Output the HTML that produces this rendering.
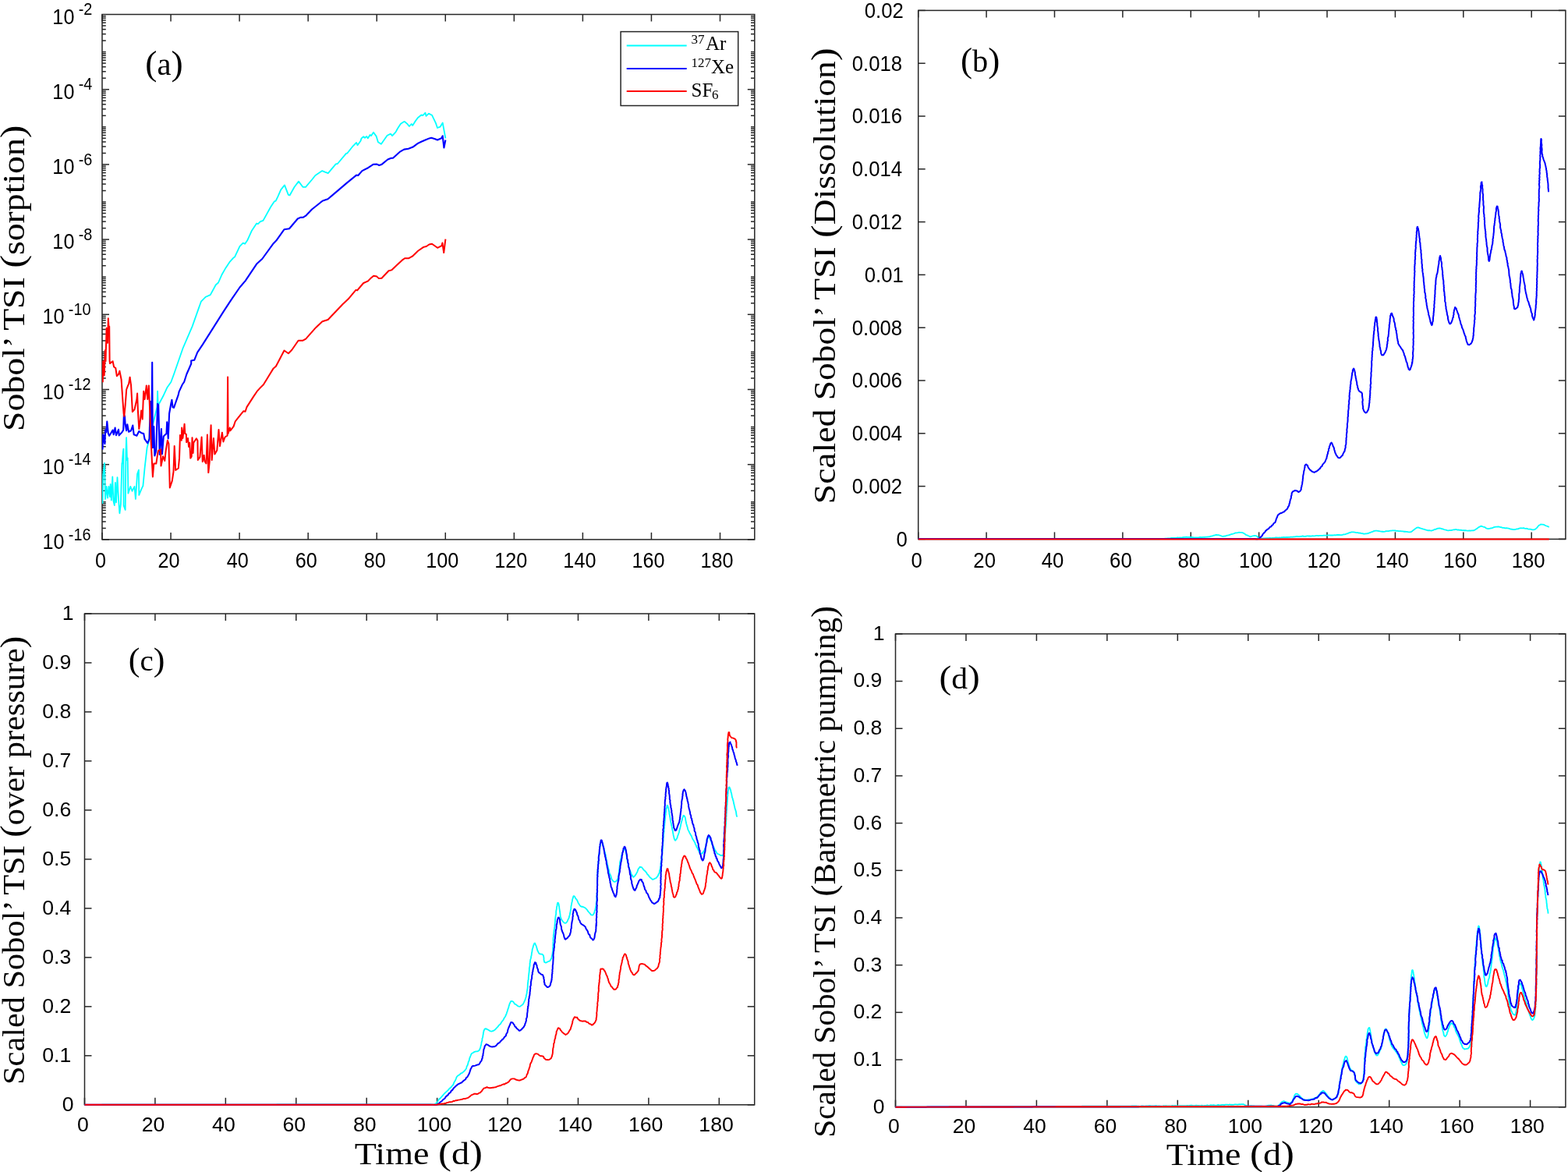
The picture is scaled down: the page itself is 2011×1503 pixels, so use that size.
<!DOCTYPE html>
<html><head><meta charset="utf-8"><title>Sobol TSI plots</title>
<style>html,body{margin:0;padding:0;background:#fff;}body{width:2011px;height:1503px;overflow:hidden;}svg{display:block;}text{fill:#000;}</style>
</head><body>
<svg width="2011" height="1503" viewBox="0 0 2011 1503">
<rect width="2011" height="1503" fill="#fff"/>
<line x1="131" y1="691.9" x2="131" y2="682.9" stroke="#262626" stroke-width="1.5"/>
<line x1="131" y1="18.5" x2="131" y2="27.5" stroke="#262626" stroke-width="1.5"/>
<text transform="translate(129 727.8) scale(0.97 1.08)" font-size="26" text-anchor="middle" font-family="'Liberation Sans', Arial, Helvetica, sans-serif">0</text>
<line x1="219.06" y1="691.9" x2="219.06" y2="682.9" stroke="#262626" stroke-width="1.5"/>
<line x1="219.06" y1="18.5" x2="219.06" y2="27.5" stroke="#262626" stroke-width="1.5"/>
<text transform="translate(216.61 727.8) scale(0.97 1.08)" font-size="26" text-anchor="middle" font-family="'Liberation Sans', Arial, Helvetica, sans-serif">20</text>
<line x1="307.11" y1="691.9" x2="307.11" y2="682.9" stroke="#262626" stroke-width="1.5"/>
<line x1="307.11" y1="18.5" x2="307.11" y2="27.5" stroke="#262626" stroke-width="1.5"/>
<text transform="translate(304.66 727.8) scale(0.97 1.08)" font-size="26" text-anchor="middle" font-family="'Liberation Sans', Arial, Helvetica, sans-serif">40</text>
<line x1="395.17" y1="691.9" x2="395.17" y2="682.9" stroke="#262626" stroke-width="1.5"/>
<line x1="395.17" y1="18.5" x2="395.17" y2="27.5" stroke="#262626" stroke-width="1.5"/>
<text transform="translate(392.72 727.8) scale(0.97 1.08)" font-size="26" text-anchor="middle" font-family="'Liberation Sans', Arial, Helvetica, sans-serif">60</text>
<line x1="483.22" y1="691.9" x2="483.22" y2="682.9" stroke="#262626" stroke-width="1.5"/>
<line x1="483.22" y1="18.5" x2="483.22" y2="27.5" stroke="#262626" stroke-width="1.5"/>
<text transform="translate(480.77 727.8) scale(0.97 1.08)" font-size="26" text-anchor="middle" font-family="'Liberation Sans', Arial, Helvetica, sans-serif">80</text>
<line x1="571.28" y1="691.9" x2="571.28" y2="682.9" stroke="#262626" stroke-width="1.5"/>
<line x1="571.28" y1="18.5" x2="571.28" y2="27.5" stroke="#262626" stroke-width="1.5"/>
<text transform="translate(567.28 727.8) scale(0.97 1.08)" font-size="26" text-anchor="middle" font-family="'Liberation Sans', Arial, Helvetica, sans-serif">100</text>
<line x1="659.33" y1="691.9" x2="659.33" y2="682.9" stroke="#262626" stroke-width="1.5"/>
<line x1="659.33" y1="18.5" x2="659.33" y2="27.5" stroke="#262626" stroke-width="1.5"/>
<text transform="translate(655.33 727.8) scale(0.97 1.08)" font-size="26" text-anchor="middle" font-family="'Liberation Sans', Arial, Helvetica, sans-serif">120</text>
<line x1="747.39" y1="691.9" x2="747.39" y2="682.9" stroke="#262626" stroke-width="1.5"/>
<line x1="747.39" y1="18.5" x2="747.39" y2="27.5" stroke="#262626" stroke-width="1.5"/>
<text transform="translate(743.39 727.8) scale(0.97 1.08)" font-size="26" text-anchor="middle" font-family="'Liberation Sans', Arial, Helvetica, sans-serif">140</text>
<line x1="835.44" y1="691.9" x2="835.44" y2="682.9" stroke="#262626" stroke-width="1.5"/>
<line x1="835.44" y1="18.5" x2="835.44" y2="27.5" stroke="#262626" stroke-width="1.5"/>
<text transform="translate(831.44 727.8) scale(0.97 1.08)" font-size="26" text-anchor="middle" font-family="'Liberation Sans', Arial, Helvetica, sans-serif">160</text>
<line x1="923.5" y1="691.9" x2="923.5" y2="682.9" stroke="#262626" stroke-width="1.5"/>
<line x1="923.5" y1="18.5" x2="923.5" y2="27.5" stroke="#262626" stroke-width="1.5"/>
<text transform="translate(919.5 727.8) scale(0.97 1.08)" font-size="26" text-anchor="middle" font-family="'Liberation Sans', Arial, Helvetica, sans-serif">180</text>
<line x1="131" y1="691.9" x2="140" y2="691.9" stroke="#262626" stroke-width="1.5"/>
<line x1="967.8" y1="691.9" x2="958.8" y2="691.9" stroke="#262626" stroke-width="1.5"/>
<line x1="131" y1="677.42" x2="135.8" y2="677.42" stroke="#262626" stroke-width="1.5"/>
<line x1="967.8" y1="677.42" x2="963" y2="677.42" stroke="#262626" stroke-width="1.5"/>
<line x1="131" y1="668.95" x2="135.8" y2="668.95" stroke="#262626" stroke-width="1.5"/>
<line x1="967.8" y1="668.95" x2="963" y2="668.95" stroke="#262626" stroke-width="1.5"/>
<line x1="131" y1="662.94" x2="135.8" y2="662.94" stroke="#262626" stroke-width="1.5"/>
<line x1="967.8" y1="662.94" x2="963" y2="662.94" stroke="#262626" stroke-width="1.5"/>
<line x1="131" y1="658.28" x2="135.8" y2="658.28" stroke="#262626" stroke-width="1.5"/>
<line x1="967.8" y1="658.28" x2="963" y2="658.28" stroke="#262626" stroke-width="1.5"/>
<line x1="131" y1="654.47" x2="135.8" y2="654.47" stroke="#262626" stroke-width="1.5"/>
<line x1="967.8" y1="654.47" x2="963" y2="654.47" stroke="#262626" stroke-width="1.5"/>
<line x1="131" y1="651.25" x2="135.8" y2="651.25" stroke="#262626" stroke-width="1.5"/>
<line x1="967.8" y1="651.25" x2="963" y2="651.25" stroke="#262626" stroke-width="1.5"/>
<line x1="131" y1="648.46" x2="135.8" y2="648.46" stroke="#262626" stroke-width="1.5"/>
<line x1="967.8" y1="648.46" x2="963" y2="648.46" stroke="#262626" stroke-width="1.5"/>
<line x1="131" y1="646" x2="135.8" y2="646" stroke="#262626" stroke-width="1.5"/>
<line x1="967.8" y1="646" x2="963" y2="646" stroke="#262626" stroke-width="1.5"/>
<line x1="131" y1="643.8" x2="135.8" y2="643.8" stroke="#262626" stroke-width="1.5"/>
<line x1="967.8" y1="643.8" x2="963" y2="643.8" stroke="#262626" stroke-width="1.5"/>
<line x1="131" y1="629.32" x2="135.8" y2="629.32" stroke="#262626" stroke-width="1.5"/>
<line x1="967.8" y1="629.32" x2="963" y2="629.32" stroke="#262626" stroke-width="1.5"/>
<line x1="131" y1="620.85" x2="135.8" y2="620.85" stroke="#262626" stroke-width="1.5"/>
<line x1="967.8" y1="620.85" x2="963" y2="620.85" stroke="#262626" stroke-width="1.5"/>
<line x1="131" y1="614.84" x2="135.8" y2="614.84" stroke="#262626" stroke-width="1.5"/>
<line x1="967.8" y1="614.84" x2="963" y2="614.84" stroke="#262626" stroke-width="1.5"/>
<line x1="131" y1="610.18" x2="135.8" y2="610.18" stroke="#262626" stroke-width="1.5"/>
<line x1="967.8" y1="610.18" x2="963" y2="610.18" stroke="#262626" stroke-width="1.5"/>
<line x1="131" y1="606.37" x2="135.8" y2="606.37" stroke="#262626" stroke-width="1.5"/>
<line x1="967.8" y1="606.37" x2="963" y2="606.37" stroke="#262626" stroke-width="1.5"/>
<line x1="131" y1="603.15" x2="135.8" y2="603.15" stroke="#262626" stroke-width="1.5"/>
<line x1="967.8" y1="603.15" x2="963" y2="603.15" stroke="#262626" stroke-width="1.5"/>
<line x1="131" y1="600.36" x2="135.8" y2="600.36" stroke="#262626" stroke-width="1.5"/>
<line x1="967.8" y1="600.36" x2="963" y2="600.36" stroke="#262626" stroke-width="1.5"/>
<line x1="131" y1="597.9" x2="135.8" y2="597.9" stroke="#262626" stroke-width="1.5"/>
<line x1="967.8" y1="597.9" x2="963" y2="597.9" stroke="#262626" stroke-width="1.5"/>
<line x1="131" y1="595.7" x2="140" y2="595.7" stroke="#262626" stroke-width="1.5"/>
<line x1="967.8" y1="595.7" x2="958.8" y2="595.7" stroke="#262626" stroke-width="1.5"/>
<line x1="131" y1="581.22" x2="135.8" y2="581.22" stroke="#262626" stroke-width="1.5"/>
<line x1="967.8" y1="581.22" x2="963" y2="581.22" stroke="#262626" stroke-width="1.5"/>
<line x1="131" y1="572.75" x2="135.8" y2="572.75" stroke="#262626" stroke-width="1.5"/>
<line x1="967.8" y1="572.75" x2="963" y2="572.75" stroke="#262626" stroke-width="1.5"/>
<line x1="131" y1="566.74" x2="135.8" y2="566.74" stroke="#262626" stroke-width="1.5"/>
<line x1="967.8" y1="566.74" x2="963" y2="566.74" stroke="#262626" stroke-width="1.5"/>
<line x1="131" y1="562.08" x2="135.8" y2="562.08" stroke="#262626" stroke-width="1.5"/>
<line x1="967.8" y1="562.08" x2="963" y2="562.08" stroke="#262626" stroke-width="1.5"/>
<line x1="131" y1="558.27" x2="135.8" y2="558.27" stroke="#262626" stroke-width="1.5"/>
<line x1="967.8" y1="558.27" x2="963" y2="558.27" stroke="#262626" stroke-width="1.5"/>
<line x1="131" y1="555.05" x2="135.8" y2="555.05" stroke="#262626" stroke-width="1.5"/>
<line x1="967.8" y1="555.05" x2="963" y2="555.05" stroke="#262626" stroke-width="1.5"/>
<line x1="131" y1="552.26" x2="135.8" y2="552.26" stroke="#262626" stroke-width="1.5"/>
<line x1="967.8" y1="552.26" x2="963" y2="552.26" stroke="#262626" stroke-width="1.5"/>
<line x1="131" y1="549.8" x2="135.8" y2="549.8" stroke="#262626" stroke-width="1.5"/>
<line x1="967.8" y1="549.8" x2="963" y2="549.8" stroke="#262626" stroke-width="1.5"/>
<line x1="131" y1="547.6" x2="135.8" y2="547.6" stroke="#262626" stroke-width="1.5"/>
<line x1="967.8" y1="547.6" x2="963" y2="547.6" stroke="#262626" stroke-width="1.5"/>
<line x1="131" y1="533.12" x2="135.8" y2="533.12" stroke="#262626" stroke-width="1.5"/>
<line x1="967.8" y1="533.12" x2="963" y2="533.12" stroke="#262626" stroke-width="1.5"/>
<line x1="131" y1="524.65" x2="135.8" y2="524.65" stroke="#262626" stroke-width="1.5"/>
<line x1="967.8" y1="524.65" x2="963" y2="524.65" stroke="#262626" stroke-width="1.5"/>
<line x1="131" y1="518.64" x2="135.8" y2="518.64" stroke="#262626" stroke-width="1.5"/>
<line x1="967.8" y1="518.64" x2="963" y2="518.64" stroke="#262626" stroke-width="1.5"/>
<line x1="131" y1="513.98" x2="135.8" y2="513.98" stroke="#262626" stroke-width="1.5"/>
<line x1="967.8" y1="513.98" x2="963" y2="513.98" stroke="#262626" stroke-width="1.5"/>
<line x1="131" y1="510.17" x2="135.8" y2="510.17" stroke="#262626" stroke-width="1.5"/>
<line x1="967.8" y1="510.17" x2="963" y2="510.17" stroke="#262626" stroke-width="1.5"/>
<line x1="131" y1="506.95" x2="135.8" y2="506.95" stroke="#262626" stroke-width="1.5"/>
<line x1="967.8" y1="506.95" x2="963" y2="506.95" stroke="#262626" stroke-width="1.5"/>
<line x1="131" y1="504.16" x2="135.8" y2="504.16" stroke="#262626" stroke-width="1.5"/>
<line x1="967.8" y1="504.16" x2="963" y2="504.16" stroke="#262626" stroke-width="1.5"/>
<line x1="131" y1="501.7" x2="135.8" y2="501.7" stroke="#262626" stroke-width="1.5"/>
<line x1="967.8" y1="501.7" x2="963" y2="501.7" stroke="#262626" stroke-width="1.5"/>
<line x1="131" y1="499.5" x2="140" y2="499.5" stroke="#262626" stroke-width="1.5"/>
<line x1="967.8" y1="499.5" x2="958.8" y2="499.5" stroke="#262626" stroke-width="1.5"/>
<line x1="131" y1="485.02" x2="135.8" y2="485.02" stroke="#262626" stroke-width="1.5"/>
<line x1="967.8" y1="485.02" x2="963" y2="485.02" stroke="#262626" stroke-width="1.5"/>
<line x1="131" y1="476.55" x2="135.8" y2="476.55" stroke="#262626" stroke-width="1.5"/>
<line x1="967.8" y1="476.55" x2="963" y2="476.55" stroke="#262626" stroke-width="1.5"/>
<line x1="131" y1="470.54" x2="135.8" y2="470.54" stroke="#262626" stroke-width="1.5"/>
<line x1="967.8" y1="470.54" x2="963" y2="470.54" stroke="#262626" stroke-width="1.5"/>
<line x1="131" y1="465.88" x2="135.8" y2="465.88" stroke="#262626" stroke-width="1.5"/>
<line x1="967.8" y1="465.88" x2="963" y2="465.88" stroke="#262626" stroke-width="1.5"/>
<line x1="131" y1="462.07" x2="135.8" y2="462.07" stroke="#262626" stroke-width="1.5"/>
<line x1="967.8" y1="462.07" x2="963" y2="462.07" stroke="#262626" stroke-width="1.5"/>
<line x1="131" y1="458.85" x2="135.8" y2="458.85" stroke="#262626" stroke-width="1.5"/>
<line x1="967.8" y1="458.85" x2="963" y2="458.85" stroke="#262626" stroke-width="1.5"/>
<line x1="131" y1="456.06" x2="135.8" y2="456.06" stroke="#262626" stroke-width="1.5"/>
<line x1="967.8" y1="456.06" x2="963" y2="456.06" stroke="#262626" stroke-width="1.5"/>
<line x1="131" y1="453.6" x2="135.8" y2="453.6" stroke="#262626" stroke-width="1.5"/>
<line x1="967.8" y1="453.6" x2="963" y2="453.6" stroke="#262626" stroke-width="1.5"/>
<line x1="131" y1="451.4" x2="135.8" y2="451.4" stroke="#262626" stroke-width="1.5"/>
<line x1="967.8" y1="451.4" x2="963" y2="451.4" stroke="#262626" stroke-width="1.5"/>
<line x1="131" y1="436.92" x2="135.8" y2="436.92" stroke="#262626" stroke-width="1.5"/>
<line x1="967.8" y1="436.92" x2="963" y2="436.92" stroke="#262626" stroke-width="1.5"/>
<line x1="131" y1="428.45" x2="135.8" y2="428.45" stroke="#262626" stroke-width="1.5"/>
<line x1="967.8" y1="428.45" x2="963" y2="428.45" stroke="#262626" stroke-width="1.5"/>
<line x1="131" y1="422.44" x2="135.8" y2="422.44" stroke="#262626" stroke-width="1.5"/>
<line x1="967.8" y1="422.44" x2="963" y2="422.44" stroke="#262626" stroke-width="1.5"/>
<line x1="131" y1="417.78" x2="135.8" y2="417.78" stroke="#262626" stroke-width="1.5"/>
<line x1="967.8" y1="417.78" x2="963" y2="417.78" stroke="#262626" stroke-width="1.5"/>
<line x1="131" y1="413.97" x2="135.8" y2="413.97" stroke="#262626" stroke-width="1.5"/>
<line x1="967.8" y1="413.97" x2="963" y2="413.97" stroke="#262626" stroke-width="1.5"/>
<line x1="131" y1="410.75" x2="135.8" y2="410.75" stroke="#262626" stroke-width="1.5"/>
<line x1="967.8" y1="410.75" x2="963" y2="410.75" stroke="#262626" stroke-width="1.5"/>
<line x1="131" y1="407.96" x2="135.8" y2="407.96" stroke="#262626" stroke-width="1.5"/>
<line x1="967.8" y1="407.96" x2="963" y2="407.96" stroke="#262626" stroke-width="1.5"/>
<line x1="131" y1="405.5" x2="135.8" y2="405.5" stroke="#262626" stroke-width="1.5"/>
<line x1="967.8" y1="405.5" x2="963" y2="405.5" stroke="#262626" stroke-width="1.5"/>
<line x1="131" y1="403.3" x2="140" y2="403.3" stroke="#262626" stroke-width="1.5"/>
<line x1="967.8" y1="403.3" x2="958.8" y2="403.3" stroke="#262626" stroke-width="1.5"/>
<line x1="131" y1="388.82" x2="135.8" y2="388.82" stroke="#262626" stroke-width="1.5"/>
<line x1="967.8" y1="388.82" x2="963" y2="388.82" stroke="#262626" stroke-width="1.5"/>
<line x1="131" y1="380.35" x2="135.8" y2="380.35" stroke="#262626" stroke-width="1.5"/>
<line x1="967.8" y1="380.35" x2="963" y2="380.35" stroke="#262626" stroke-width="1.5"/>
<line x1="131" y1="374.34" x2="135.8" y2="374.34" stroke="#262626" stroke-width="1.5"/>
<line x1="967.8" y1="374.34" x2="963" y2="374.34" stroke="#262626" stroke-width="1.5"/>
<line x1="131" y1="369.68" x2="135.8" y2="369.68" stroke="#262626" stroke-width="1.5"/>
<line x1="967.8" y1="369.68" x2="963" y2="369.68" stroke="#262626" stroke-width="1.5"/>
<line x1="131" y1="365.87" x2="135.8" y2="365.87" stroke="#262626" stroke-width="1.5"/>
<line x1="967.8" y1="365.87" x2="963" y2="365.87" stroke="#262626" stroke-width="1.5"/>
<line x1="131" y1="362.65" x2="135.8" y2="362.65" stroke="#262626" stroke-width="1.5"/>
<line x1="967.8" y1="362.65" x2="963" y2="362.65" stroke="#262626" stroke-width="1.5"/>
<line x1="131" y1="359.86" x2="135.8" y2="359.86" stroke="#262626" stroke-width="1.5"/>
<line x1="967.8" y1="359.86" x2="963" y2="359.86" stroke="#262626" stroke-width="1.5"/>
<line x1="131" y1="357.4" x2="135.8" y2="357.4" stroke="#262626" stroke-width="1.5"/>
<line x1="967.8" y1="357.4" x2="963" y2="357.4" stroke="#262626" stroke-width="1.5"/>
<line x1="131" y1="355.2" x2="135.8" y2="355.2" stroke="#262626" stroke-width="1.5"/>
<line x1="967.8" y1="355.2" x2="963" y2="355.2" stroke="#262626" stroke-width="1.5"/>
<line x1="131" y1="340.72" x2="135.8" y2="340.72" stroke="#262626" stroke-width="1.5"/>
<line x1="967.8" y1="340.72" x2="963" y2="340.72" stroke="#262626" stroke-width="1.5"/>
<line x1="131" y1="332.25" x2="135.8" y2="332.25" stroke="#262626" stroke-width="1.5"/>
<line x1="967.8" y1="332.25" x2="963" y2="332.25" stroke="#262626" stroke-width="1.5"/>
<line x1="131" y1="326.24" x2="135.8" y2="326.24" stroke="#262626" stroke-width="1.5"/>
<line x1="967.8" y1="326.24" x2="963" y2="326.24" stroke="#262626" stroke-width="1.5"/>
<line x1="131" y1="321.58" x2="135.8" y2="321.58" stroke="#262626" stroke-width="1.5"/>
<line x1="967.8" y1="321.58" x2="963" y2="321.58" stroke="#262626" stroke-width="1.5"/>
<line x1="131" y1="317.77" x2="135.8" y2="317.77" stroke="#262626" stroke-width="1.5"/>
<line x1="967.8" y1="317.77" x2="963" y2="317.77" stroke="#262626" stroke-width="1.5"/>
<line x1="131" y1="314.55" x2="135.8" y2="314.55" stroke="#262626" stroke-width="1.5"/>
<line x1="967.8" y1="314.55" x2="963" y2="314.55" stroke="#262626" stroke-width="1.5"/>
<line x1="131" y1="311.76" x2="135.8" y2="311.76" stroke="#262626" stroke-width="1.5"/>
<line x1="967.8" y1="311.76" x2="963" y2="311.76" stroke="#262626" stroke-width="1.5"/>
<line x1="131" y1="309.3" x2="135.8" y2="309.3" stroke="#262626" stroke-width="1.5"/>
<line x1="967.8" y1="309.3" x2="963" y2="309.3" stroke="#262626" stroke-width="1.5"/>
<line x1="131" y1="307.1" x2="140" y2="307.1" stroke="#262626" stroke-width="1.5"/>
<line x1="967.8" y1="307.1" x2="958.8" y2="307.1" stroke="#262626" stroke-width="1.5"/>
<line x1="131" y1="292.62" x2="135.8" y2="292.62" stroke="#262626" stroke-width="1.5"/>
<line x1="967.8" y1="292.62" x2="963" y2="292.62" stroke="#262626" stroke-width="1.5"/>
<line x1="131" y1="284.15" x2="135.8" y2="284.15" stroke="#262626" stroke-width="1.5"/>
<line x1="967.8" y1="284.15" x2="963" y2="284.15" stroke="#262626" stroke-width="1.5"/>
<line x1="131" y1="278.14" x2="135.8" y2="278.14" stroke="#262626" stroke-width="1.5"/>
<line x1="967.8" y1="278.14" x2="963" y2="278.14" stroke="#262626" stroke-width="1.5"/>
<line x1="131" y1="273.48" x2="135.8" y2="273.48" stroke="#262626" stroke-width="1.5"/>
<line x1="967.8" y1="273.48" x2="963" y2="273.48" stroke="#262626" stroke-width="1.5"/>
<line x1="131" y1="269.67" x2="135.8" y2="269.67" stroke="#262626" stroke-width="1.5"/>
<line x1="967.8" y1="269.67" x2="963" y2="269.67" stroke="#262626" stroke-width="1.5"/>
<line x1="131" y1="266.45" x2="135.8" y2="266.45" stroke="#262626" stroke-width="1.5"/>
<line x1="967.8" y1="266.45" x2="963" y2="266.45" stroke="#262626" stroke-width="1.5"/>
<line x1="131" y1="263.66" x2="135.8" y2="263.66" stroke="#262626" stroke-width="1.5"/>
<line x1="967.8" y1="263.66" x2="963" y2="263.66" stroke="#262626" stroke-width="1.5"/>
<line x1="131" y1="261.2" x2="135.8" y2="261.2" stroke="#262626" stroke-width="1.5"/>
<line x1="967.8" y1="261.2" x2="963" y2="261.2" stroke="#262626" stroke-width="1.5"/>
<line x1="131" y1="259" x2="135.8" y2="259" stroke="#262626" stroke-width="1.5"/>
<line x1="967.8" y1="259" x2="963" y2="259" stroke="#262626" stroke-width="1.5"/>
<line x1="131" y1="244.52" x2="135.8" y2="244.52" stroke="#262626" stroke-width="1.5"/>
<line x1="967.8" y1="244.52" x2="963" y2="244.52" stroke="#262626" stroke-width="1.5"/>
<line x1="131" y1="236.05" x2="135.8" y2="236.05" stroke="#262626" stroke-width="1.5"/>
<line x1="967.8" y1="236.05" x2="963" y2="236.05" stroke="#262626" stroke-width="1.5"/>
<line x1="131" y1="230.04" x2="135.8" y2="230.04" stroke="#262626" stroke-width="1.5"/>
<line x1="967.8" y1="230.04" x2="963" y2="230.04" stroke="#262626" stroke-width="1.5"/>
<line x1="131" y1="225.38" x2="135.8" y2="225.38" stroke="#262626" stroke-width="1.5"/>
<line x1="967.8" y1="225.38" x2="963" y2="225.38" stroke="#262626" stroke-width="1.5"/>
<line x1="131" y1="221.57" x2="135.8" y2="221.57" stroke="#262626" stroke-width="1.5"/>
<line x1="967.8" y1="221.57" x2="963" y2="221.57" stroke="#262626" stroke-width="1.5"/>
<line x1="131" y1="218.35" x2="135.8" y2="218.35" stroke="#262626" stroke-width="1.5"/>
<line x1="967.8" y1="218.35" x2="963" y2="218.35" stroke="#262626" stroke-width="1.5"/>
<line x1="131" y1="215.56" x2="135.8" y2="215.56" stroke="#262626" stroke-width="1.5"/>
<line x1="967.8" y1="215.56" x2="963" y2="215.56" stroke="#262626" stroke-width="1.5"/>
<line x1="131" y1="213.1" x2="135.8" y2="213.1" stroke="#262626" stroke-width="1.5"/>
<line x1="967.8" y1="213.1" x2="963" y2="213.1" stroke="#262626" stroke-width="1.5"/>
<line x1="131" y1="210.9" x2="140" y2="210.9" stroke="#262626" stroke-width="1.5"/>
<line x1="967.8" y1="210.9" x2="958.8" y2="210.9" stroke="#262626" stroke-width="1.5"/>
<line x1="131" y1="196.42" x2="135.8" y2="196.42" stroke="#262626" stroke-width="1.5"/>
<line x1="967.8" y1="196.42" x2="963" y2="196.42" stroke="#262626" stroke-width="1.5"/>
<line x1="131" y1="187.95" x2="135.8" y2="187.95" stroke="#262626" stroke-width="1.5"/>
<line x1="967.8" y1="187.95" x2="963" y2="187.95" stroke="#262626" stroke-width="1.5"/>
<line x1="131" y1="181.94" x2="135.8" y2="181.94" stroke="#262626" stroke-width="1.5"/>
<line x1="967.8" y1="181.94" x2="963" y2="181.94" stroke="#262626" stroke-width="1.5"/>
<line x1="131" y1="177.28" x2="135.8" y2="177.28" stroke="#262626" stroke-width="1.5"/>
<line x1="967.8" y1="177.28" x2="963" y2="177.28" stroke="#262626" stroke-width="1.5"/>
<line x1="131" y1="173.47" x2="135.8" y2="173.47" stroke="#262626" stroke-width="1.5"/>
<line x1="967.8" y1="173.47" x2="963" y2="173.47" stroke="#262626" stroke-width="1.5"/>
<line x1="131" y1="170.25" x2="135.8" y2="170.25" stroke="#262626" stroke-width="1.5"/>
<line x1="967.8" y1="170.25" x2="963" y2="170.25" stroke="#262626" stroke-width="1.5"/>
<line x1="131" y1="167.46" x2="135.8" y2="167.46" stroke="#262626" stroke-width="1.5"/>
<line x1="967.8" y1="167.46" x2="963" y2="167.46" stroke="#262626" stroke-width="1.5"/>
<line x1="131" y1="165" x2="135.8" y2="165" stroke="#262626" stroke-width="1.5"/>
<line x1="967.8" y1="165" x2="963" y2="165" stroke="#262626" stroke-width="1.5"/>
<line x1="131" y1="162.8" x2="135.8" y2="162.8" stroke="#262626" stroke-width="1.5"/>
<line x1="967.8" y1="162.8" x2="963" y2="162.8" stroke="#262626" stroke-width="1.5"/>
<line x1="131" y1="148.32" x2="135.8" y2="148.32" stroke="#262626" stroke-width="1.5"/>
<line x1="967.8" y1="148.32" x2="963" y2="148.32" stroke="#262626" stroke-width="1.5"/>
<line x1="131" y1="139.85" x2="135.8" y2="139.85" stroke="#262626" stroke-width="1.5"/>
<line x1="967.8" y1="139.85" x2="963" y2="139.85" stroke="#262626" stroke-width="1.5"/>
<line x1="131" y1="133.84" x2="135.8" y2="133.84" stroke="#262626" stroke-width="1.5"/>
<line x1="967.8" y1="133.84" x2="963" y2="133.84" stroke="#262626" stroke-width="1.5"/>
<line x1="131" y1="129.18" x2="135.8" y2="129.18" stroke="#262626" stroke-width="1.5"/>
<line x1="967.8" y1="129.18" x2="963" y2="129.18" stroke="#262626" stroke-width="1.5"/>
<line x1="131" y1="125.37" x2="135.8" y2="125.37" stroke="#262626" stroke-width="1.5"/>
<line x1="967.8" y1="125.37" x2="963" y2="125.37" stroke="#262626" stroke-width="1.5"/>
<line x1="131" y1="122.15" x2="135.8" y2="122.15" stroke="#262626" stroke-width="1.5"/>
<line x1="967.8" y1="122.15" x2="963" y2="122.15" stroke="#262626" stroke-width="1.5"/>
<line x1="131" y1="119.36" x2="135.8" y2="119.36" stroke="#262626" stroke-width="1.5"/>
<line x1="967.8" y1="119.36" x2="963" y2="119.36" stroke="#262626" stroke-width="1.5"/>
<line x1="131" y1="116.9" x2="135.8" y2="116.9" stroke="#262626" stroke-width="1.5"/>
<line x1="967.8" y1="116.9" x2="963" y2="116.9" stroke="#262626" stroke-width="1.5"/>
<line x1="131" y1="114.7" x2="140" y2="114.7" stroke="#262626" stroke-width="1.5"/>
<line x1="967.8" y1="114.7" x2="958.8" y2="114.7" stroke="#262626" stroke-width="1.5"/>
<line x1="131" y1="100.22" x2="135.8" y2="100.22" stroke="#262626" stroke-width="1.5"/>
<line x1="967.8" y1="100.22" x2="963" y2="100.22" stroke="#262626" stroke-width="1.5"/>
<line x1="131" y1="91.75" x2="135.8" y2="91.75" stroke="#262626" stroke-width="1.5"/>
<line x1="967.8" y1="91.75" x2="963" y2="91.75" stroke="#262626" stroke-width="1.5"/>
<line x1="131" y1="85.74" x2="135.8" y2="85.74" stroke="#262626" stroke-width="1.5"/>
<line x1="967.8" y1="85.74" x2="963" y2="85.74" stroke="#262626" stroke-width="1.5"/>
<line x1="131" y1="81.08" x2="135.8" y2="81.08" stroke="#262626" stroke-width="1.5"/>
<line x1="967.8" y1="81.08" x2="963" y2="81.08" stroke="#262626" stroke-width="1.5"/>
<line x1="131" y1="77.27" x2="135.8" y2="77.27" stroke="#262626" stroke-width="1.5"/>
<line x1="967.8" y1="77.27" x2="963" y2="77.27" stroke="#262626" stroke-width="1.5"/>
<line x1="131" y1="74.05" x2="135.8" y2="74.05" stroke="#262626" stroke-width="1.5"/>
<line x1="967.8" y1="74.05" x2="963" y2="74.05" stroke="#262626" stroke-width="1.5"/>
<line x1="131" y1="71.26" x2="135.8" y2="71.26" stroke="#262626" stroke-width="1.5"/>
<line x1="967.8" y1="71.26" x2="963" y2="71.26" stroke="#262626" stroke-width="1.5"/>
<line x1="131" y1="68.8" x2="135.8" y2="68.8" stroke="#262626" stroke-width="1.5"/>
<line x1="967.8" y1="68.8" x2="963" y2="68.8" stroke="#262626" stroke-width="1.5"/>
<line x1="131" y1="66.6" x2="135.8" y2="66.6" stroke="#262626" stroke-width="1.5"/>
<line x1="967.8" y1="66.6" x2="963" y2="66.6" stroke="#262626" stroke-width="1.5"/>
<line x1="131" y1="52.12" x2="135.8" y2="52.12" stroke="#262626" stroke-width="1.5"/>
<line x1="967.8" y1="52.12" x2="963" y2="52.12" stroke="#262626" stroke-width="1.5"/>
<line x1="131" y1="43.65" x2="135.8" y2="43.65" stroke="#262626" stroke-width="1.5"/>
<line x1="967.8" y1="43.65" x2="963" y2="43.65" stroke="#262626" stroke-width="1.5"/>
<line x1="131" y1="37.64" x2="135.8" y2="37.64" stroke="#262626" stroke-width="1.5"/>
<line x1="967.8" y1="37.64" x2="963" y2="37.64" stroke="#262626" stroke-width="1.5"/>
<line x1="131" y1="32.98" x2="135.8" y2="32.98" stroke="#262626" stroke-width="1.5"/>
<line x1="967.8" y1="32.98" x2="963" y2="32.98" stroke="#262626" stroke-width="1.5"/>
<line x1="131" y1="29.17" x2="135.8" y2="29.17" stroke="#262626" stroke-width="1.5"/>
<line x1="967.8" y1="29.17" x2="963" y2="29.17" stroke="#262626" stroke-width="1.5"/>
<line x1="131" y1="25.95" x2="135.8" y2="25.95" stroke="#262626" stroke-width="1.5"/>
<line x1="967.8" y1="25.95" x2="963" y2="25.95" stroke="#262626" stroke-width="1.5"/>
<line x1="131" y1="23.16" x2="135.8" y2="23.16" stroke="#262626" stroke-width="1.5"/>
<line x1="967.8" y1="23.16" x2="963" y2="23.16" stroke="#262626" stroke-width="1.5"/>
<line x1="131" y1="20.7" x2="135.8" y2="20.7" stroke="#262626" stroke-width="1.5"/>
<line x1="967.8" y1="20.7" x2="963" y2="20.7" stroke="#262626" stroke-width="1.5"/>
<text transform="translate(116.6 703.9) scale(0.97 1.08)" font-size="26" text-anchor="end" font-family="'Liberation Sans', Arial, Helvetica, sans-serif">10<tspan dx="5.4" dy="-10.5" font-size="20.5">-16</tspan></text>
<text transform="translate(116.6 607.7) scale(0.97 1.08)" font-size="26" text-anchor="end" font-family="'Liberation Sans', Arial, Helvetica, sans-serif">10<tspan dx="5.4" dy="-10.5" font-size="20.5">-14</tspan></text>
<text transform="translate(116.6 511.5) scale(0.97 1.08)" font-size="26" text-anchor="end" font-family="'Liberation Sans', Arial, Helvetica, sans-serif">10<tspan dx="5.4" dy="-10.5" font-size="20.5">-12</tspan></text>
<text transform="translate(116.6 415.3) scale(0.97 1.08)" font-size="26" text-anchor="end" font-family="'Liberation Sans', Arial, Helvetica, sans-serif">10<tspan dx="5.4" dy="-10.5" font-size="20.5">-10</tspan></text>
<text transform="translate(118.3 319.1) scale(0.97 1.08)" font-size="26" text-anchor="end" font-family="'Liberation Sans', Arial, Helvetica, sans-serif">10<tspan dx="5.4" dy="-10.5" font-size="20.5">-8</tspan></text>
<text transform="translate(118.3 222.9) scale(0.97 1.08)" font-size="26" text-anchor="end" font-family="'Liberation Sans', Arial, Helvetica, sans-serif">10<tspan dx="5.4" dy="-10.5" font-size="20.5">-6</tspan></text>
<text transform="translate(118.3 126.7) scale(0.97 1.08)" font-size="26" text-anchor="end" font-family="'Liberation Sans', Arial, Helvetica, sans-serif">10<tspan dx="5.4" dy="-10.5" font-size="20.5">-4</tspan></text>
<text transform="translate(118.3 30.5) scale(0.97 1.08)" font-size="26" text-anchor="end" font-family="'Liberation Sans', Arial, Helvetica, sans-serif">10<tspan dx="5.4" dy="-10.5" font-size="20.5">-2</tspan></text>
<rect x="131" y="18.5" width="836.8" height="673.4" fill="none" stroke="#262626" stroke-width="1.5"/>
<defs><clipPath id="ca"><rect x="131.0" y="18.5" width="836.8" height="673.4"/></clipPath></defs>
<g clip-path="url(#ca)">
<polyline points="131.5,645.9 132.2,609.3 134,593.9 135.1,640 136.6,623.9 138.1,638.6 139.5,623.9 141,637.1 141.7,621 142.8,641.5 144.3,611.5 145.4,642.2 146.8,648.1 147.9,618.8 149,644.4 150.5,612.2 152,640 153.4,658.3 154.9,646.6 156.4,594 156.7,594.6 157.8,580 158.4,575.6 158.6,648.1 160.7,653.9 161.5,580 162.1,561.2 163,590 163.7,587.3 164.4,632.7 167.3,623.9 169.5,629.8 172.5,623.9 173.9,640 176.1,607.8 177.9,602.7 178.3,634.9 181.2,627.6 183.4,623.2 185.6,600 188.6,574.2 191.5,563.2 195.9,544.9 201.5,522 202.1,501.7 202.7,520 203.2,519.3 209.1,508.3 214.2,497.3 219.3,490 223,480 234.6,446.5 246.6,418.6 257.9,386.7 259.2,385.3 263.9,380.7 269.8,378.1 276.8,365.3 280,362.5 284.8,351.7 289.6,343.4 294.4,336.2 299.2,330.8 301,329.6 307.5,315.8 311.7,311.6 314.1,312.8 317.1,308.6 323.1,295.4 329.1,286.5 330.9,287.1 333.9,284.1 337.5,282.9 347.1,265.5 351.9,258.3 353.7,257.7 356.6,251.7 360.2,243.4 365,237.4 369.8,249.9 371.6,250.5 377.6,239.8 383,232.6 388.4,239.8 392,239.8 400,230.5 404.4,225 408.8,222.1 413.2,219.1 416.8,220.6 420.8,222.1 430.7,210.4 432.9,210 443.9,196.8 445.4,196.5 452.7,187.3 457.1,182.9 458.5,186.2 462.5,180.7 463.6,177.4 466.2,175.2 468,176.7 470.2,174.9 471.7,177.4 474.6,173 476.1,174.1 479,169.8 482.7,174.9 484.9,182.2 488.9,184.7 492.2,180 496.6,173.8 501,171.6 503.1,174.1 507.5,169.4 510,164.8 513.9,158.8 518.6,155.8 522.1,158.6 524.9,162 527.7,159 529.2,160.9 532,156.4 535.9,151 540.3,147.5 542.4,148 545.5,144.7 546.5,148.8 549.8,145.6 554.1,147.8 558.9,157.9 561,164 564.5,162.7 567.7,157.5 571.4,177.4" fill="none" stroke="#00ffff" stroke-width="1.8" stroke-linejoin="round" stroke-linecap="butt"/>
<polyline points="131.5,576.4 132.2,557.3 133.3,563.2 134.4,569.1 135.1,551.5 136.2,554.4 137.3,540.5 138.8,555.9 140.2,558.8 142.4,555.2 144.6,551.5 145.7,557.3 147.6,548.6 149,558.1 152,550.8 152.7,558.4 156.4,554.4 158.2,551.5 158.9,531.7 160,533.9 160.7,544.2 162.2,552.2 163.3,544.2 165.1,553.7 168.1,552.2 170.3,545.6 171.7,557.3 175.4,558.8 178.3,553 181.2,555.2 184.2,555.9 185.6,563.2 189.3,568.3 191.5,563.2 193,514.9 194.4,570.5 195.2,464.7 195.9,574.2 197.3,547.1 198.4,584.4 200.3,577.8 202.1,517.8 203.2,519.3 204.7,583 206.9,550 208,582.2 209.8,559.5 213.5,555.9 214.2,541.2 215.7,562.5 217.1,530.3 219.3,517.8 220.4,512.7 221.5,522.2 223,522.9 228.8,506.1 229.6,502.4 234,492.9 236.1,490 239.3,480 245.2,466.5 245.2,462.5 249.2,461.8 253.2,451.9 259.9,441.9 286.6,399.6 295.6,385.9 307.5,368.5 314.7,360.1 329.1,338.6 336.3,332 350.7,312.2 354.3,308.6 364.4,294.3 371,293.3 381.8,280.5 385.4,278.9 389,278.7 392.6,276.3 400,268.5 411,259.7 413.9,257.5 420.5,255.3 430.7,246.6 445.4,234.1 457.1,224.6 459.3,225 464.4,219.1 471,215.8 479,210.7 483.4,210.6 486.3,212 489.2,211.1 497.3,204.5 501.7,202.7 503.9,202.7 513.4,194.3 518.2,191.6 523.8,190.8 529.5,188.6 535.9,183.9 540.3,181.7 545.5,179.5 550.6,177.4 553.2,176.7 558,178.2 561,179.5 566.2,177.2 567.7,174.3 569.4,189.5 571.4,179.5" fill="none" stroke="#0000ff" stroke-width="2.1" stroke-linejoin="round" stroke-linecap="butt"/>
<polyline points="131.8,490.3 132.2,463.2 133.7,481.5 134.8,449.3 135.5,463.2 136.6,420.7 138.1,439.8 138.8,408.3 139.5,419.3 140.2,418.6 140.6,463.2 141,466.1 144.6,463.2 146.1,470.5 148.3,472 149.8,482.2 152,480 153.4,475.7 155.6,486.6 156.4,498.8 158.6,530.3 159.3,533.9 160.7,519.3 162.2,499.5 164.4,493.7 165.1,492.5 166.6,483.7 168.1,494.4 169.9,528.1 172.5,525.1 175.4,512 176.1,504.6 176.9,526.6 178.3,550 179.8,539.8 181.2,526.6 182.7,537.6 184.2,501.7 185.6,512 187.8,494.4 189.3,512 190.8,494.4 192.2,526.6 193.7,566.9 195.9,611.5 197.3,594.6 200.3,594.6 202.5,580 203.2,577.8 206.1,576.4 206.5,597.6 209.1,585.2 211.3,591 212.7,577.8 214.9,564.7 216.4,569.1 217.8,625.4 220.8,616.6 222.5,605 223.7,572 225.2,603 228.8,600.5 230,587.9 231,558.1 232.8,564.7 233.2,548.6 234.4,562 236.6,543.7 237.3,556.1 238.8,556.9 239.2,567.1 241,562 242.1,573 243.2,567.8 244.3,587.6 245.7,585.4 246.5,561.3 247.6,581 248.3,567.8 251.9,562.3 253.4,564.9 253.8,590 256.4,586.1 258.6,560.5 259.8,592.1 261.7,583.8 262.6,591.7 264.5,594.5 265.9,557.6 267.3,606.1 268.7,592.6 269.5,566.4 270.6,545.2 271.7,590 273.9,562 275.4,582.5 278.3,577.4 280.5,551 282,572.2 284.9,554.7 286.4,566.4 288.6,560.5 291.6,558.6 292.1,483.6 292.6,556 294.8,548.5 295.3,552.3 299.6,546.9 301.7,540.5 304.9,536.3 309.7,530.4 312.4,527.2 314.5,527.8 316.6,521.9 325.1,508.6 329.4,502.2 333.7,497.4 337.9,493.2 345.4,480.9 350.7,472.4 353.9,469.7 358.1,461.8 364.5,449.5 369.9,453.2 374.1,449 382.6,436.7 388.5,436.7 392.2,434.6 405,420.2 413.4,412.2 420.6,410 430.4,399.7 439.4,390.3 446.6,383.6 456.4,371.9 458.2,372.4 462.7,367 466.2,363 471.6,360.7 475.2,357.1 479.2,353.7 483.3,354.6 485.9,357.1 489.5,356.7 498.5,347.3 502.1,346.4 509.2,339.7 515.5,333.9 519.1,331.2 524.4,331.2 528.9,328.7 536.1,321.8 543.2,316.9 546.8,316 550.4,313.5 554,312.8 561.1,317.8 566.5,315.1 567.4,311.5 569.2,324 571.4,306.6" fill="none" stroke="#ff0000" stroke-width="2.0" stroke-linejoin="round" stroke-linecap="butt"/>
</g>
<line x1="1177.7" y1="691.4" x2="1177.7" y2="682.4" stroke="#262626" stroke-width="1.5"/>
<line x1="1177.7" y1="13.4" x2="1177.7" y2="22.4" stroke="#262626" stroke-width="1.5"/>
<text transform="translate(1175.7 727.9) scale(0.99 1.085)" font-size="26" text-anchor="middle" font-family="'Liberation Sans', Arial, Helvetica, sans-serif">0</text>
<line x1="1265.09" y1="691.4" x2="1265.09" y2="682.4" stroke="#262626" stroke-width="1.5"/>
<line x1="1265.09" y1="13.4" x2="1265.09" y2="22.4" stroke="#262626" stroke-width="1.5"/>
<text transform="translate(1262.64 727.9) scale(0.99 1.085)" font-size="26" text-anchor="middle" font-family="'Liberation Sans', Arial, Helvetica, sans-serif">20</text>
<line x1="1352.48" y1="691.4" x2="1352.48" y2="682.4" stroke="#262626" stroke-width="1.5"/>
<line x1="1352.48" y1="13.4" x2="1352.48" y2="22.4" stroke="#262626" stroke-width="1.5"/>
<text transform="translate(1350.03 727.9) scale(0.99 1.085)" font-size="26" text-anchor="middle" font-family="'Liberation Sans', Arial, Helvetica, sans-serif">40</text>
<line x1="1439.87" y1="691.4" x2="1439.87" y2="682.4" stroke="#262626" stroke-width="1.5"/>
<line x1="1439.87" y1="13.4" x2="1439.87" y2="22.4" stroke="#262626" stroke-width="1.5"/>
<text transform="translate(1437.42 727.9) scale(0.99 1.085)" font-size="26" text-anchor="middle" font-family="'Liberation Sans', Arial, Helvetica, sans-serif">60</text>
<line x1="1527.26" y1="691.4" x2="1527.26" y2="682.4" stroke="#262626" stroke-width="1.5"/>
<line x1="1527.26" y1="13.4" x2="1527.26" y2="22.4" stroke="#262626" stroke-width="1.5"/>
<text transform="translate(1524.81 727.9) scale(0.99 1.085)" font-size="26" text-anchor="middle" font-family="'Liberation Sans', Arial, Helvetica, sans-serif">80</text>
<line x1="1614.64" y1="691.4" x2="1614.64" y2="682.4" stroke="#262626" stroke-width="1.5"/>
<line x1="1614.64" y1="13.4" x2="1614.64" y2="22.4" stroke="#262626" stroke-width="1.5"/>
<text transform="translate(1610.59 727.9) scale(0.99 1.085)" font-size="26" text-anchor="middle" font-family="'Liberation Sans', Arial, Helvetica, sans-serif">100</text>
<line x1="1702.03" y1="691.4" x2="1702.03" y2="682.4" stroke="#262626" stroke-width="1.5"/>
<line x1="1702.03" y1="13.4" x2="1702.03" y2="22.4" stroke="#262626" stroke-width="1.5"/>
<text transform="translate(1697.98 727.9) scale(0.99 1.085)" font-size="26" text-anchor="middle" font-family="'Liberation Sans', Arial, Helvetica, sans-serif">120</text>
<line x1="1789.42" y1="691.4" x2="1789.42" y2="682.4" stroke="#262626" stroke-width="1.5"/>
<line x1="1789.42" y1="13.4" x2="1789.42" y2="22.4" stroke="#262626" stroke-width="1.5"/>
<text transform="translate(1785.37 727.9) scale(0.99 1.085)" font-size="26" text-anchor="middle" font-family="'Liberation Sans', Arial, Helvetica, sans-serif">140</text>
<line x1="1876.81" y1="691.4" x2="1876.81" y2="682.4" stroke="#262626" stroke-width="1.5"/>
<line x1="1876.81" y1="13.4" x2="1876.81" y2="22.4" stroke="#262626" stroke-width="1.5"/>
<text transform="translate(1872.76 727.9) scale(0.99 1.085)" font-size="26" text-anchor="middle" font-family="'Liberation Sans', Arial, Helvetica, sans-serif">160</text>
<line x1="1964.2" y1="691.4" x2="1964.2" y2="682.4" stroke="#262626" stroke-width="1.5"/>
<line x1="1964.2" y1="13.4" x2="1964.2" y2="22.4" stroke="#262626" stroke-width="1.5"/>
<text transform="translate(1960.15 727.9) scale(0.99 1.085)" font-size="26" text-anchor="middle" font-family="'Liberation Sans', Arial, Helvetica, sans-serif">180</text>
<line x1="1177.7" y1="691.4" x2="1186.7" y2="691.4" stroke="#262626" stroke-width="1.5"/>
<line x1="2007.9" y1="691.4" x2="1998.9" y2="691.4" stroke="#262626" stroke-width="1.5"/>
<text transform="translate(1163.75 700.7) scale(0.99 1.085)" font-size="26" text-anchor="end" font-family="'Liberation Sans', Arial, Helvetica, sans-serif">0</text>
<line x1="1177.7" y1="623.6" x2="1186.7" y2="623.6" stroke="#262626" stroke-width="1.5"/>
<line x1="2007.9" y1="623.6" x2="1998.9" y2="623.6" stroke="#262626" stroke-width="1.5"/>
<text transform="translate(1157.15 632.9) scale(0.99 1.085)" font-size="26" text-anchor="end" font-family="'Liberation Sans', Arial, Helvetica, sans-serif">0.002</text>
<line x1="1177.7" y1="555.8" x2="1186.7" y2="555.8" stroke="#262626" stroke-width="1.5"/>
<line x1="2007.9" y1="555.8" x2="1998.9" y2="555.8" stroke="#262626" stroke-width="1.5"/>
<text transform="translate(1157.15 565.1) scale(0.99 1.085)" font-size="26" text-anchor="end" font-family="'Liberation Sans', Arial, Helvetica, sans-serif">0.004</text>
<line x1="1177.7" y1="488" x2="1186.7" y2="488" stroke="#262626" stroke-width="1.5"/>
<line x1="2007.9" y1="488" x2="1998.9" y2="488" stroke="#262626" stroke-width="1.5"/>
<text transform="translate(1157.15 497.3) scale(0.99 1.085)" font-size="26" text-anchor="end" font-family="'Liberation Sans', Arial, Helvetica, sans-serif">0.006</text>
<line x1="1177.7" y1="420.2" x2="1186.7" y2="420.2" stroke="#262626" stroke-width="1.5"/>
<line x1="2007.9" y1="420.2" x2="1998.9" y2="420.2" stroke="#262626" stroke-width="1.5"/>
<text transform="translate(1157.15 429.5) scale(0.99 1.085)" font-size="26" text-anchor="end" font-family="'Liberation Sans', Arial, Helvetica, sans-serif">0.008</text>
<line x1="1177.7" y1="352.4" x2="1186.7" y2="352.4" stroke="#262626" stroke-width="1.5"/>
<line x1="2007.9" y1="352.4" x2="1998.9" y2="352.4" stroke="#262626" stroke-width="1.5"/>
<text transform="translate(1158.8 361.7) scale(0.99 1.085)" font-size="26" text-anchor="end" font-family="'Liberation Sans', Arial, Helvetica, sans-serif">0.01</text>
<line x1="1177.7" y1="284.6" x2="1186.7" y2="284.6" stroke="#262626" stroke-width="1.5"/>
<line x1="2007.9" y1="284.6" x2="1998.9" y2="284.6" stroke="#262626" stroke-width="1.5"/>
<text transform="translate(1157.15 293.9) scale(0.99 1.085)" font-size="26" text-anchor="end" font-family="'Liberation Sans', Arial, Helvetica, sans-serif">0.012</text>
<line x1="1177.7" y1="216.8" x2="1186.7" y2="216.8" stroke="#262626" stroke-width="1.5"/>
<line x1="2007.9" y1="216.8" x2="1998.9" y2="216.8" stroke="#262626" stroke-width="1.5"/>
<text transform="translate(1157.15 226.1) scale(0.99 1.085)" font-size="26" text-anchor="end" font-family="'Liberation Sans', Arial, Helvetica, sans-serif">0.014</text>
<line x1="1177.7" y1="149" x2="1186.7" y2="149" stroke="#262626" stroke-width="1.5"/>
<line x1="2007.9" y1="149" x2="1998.9" y2="149" stroke="#262626" stroke-width="1.5"/>
<text transform="translate(1157.15 158.3) scale(0.99 1.085)" font-size="26" text-anchor="end" font-family="'Liberation Sans', Arial, Helvetica, sans-serif">0.016</text>
<line x1="1177.7" y1="81.2" x2="1186.7" y2="81.2" stroke="#262626" stroke-width="1.5"/>
<line x1="2007.9" y1="81.2" x2="1998.9" y2="81.2" stroke="#262626" stroke-width="1.5"/>
<text transform="translate(1157.15 90.5) scale(0.99 1.085)" font-size="26" text-anchor="end" font-family="'Liberation Sans', Arial, Helvetica, sans-serif">0.018</text>
<line x1="1177.7" y1="13.4" x2="1186.7" y2="13.4" stroke="#262626" stroke-width="1.5"/>
<line x1="2007.9" y1="13.4" x2="1998.9" y2="13.4" stroke="#262626" stroke-width="1.5"/>
<text transform="translate(1158.8 22.7) scale(0.99 1.085)" font-size="26" text-anchor="end" font-family="'Liberation Sans', Arial, Helvetica, sans-serif">0.02</text>
<rect x="1177.7" y="13.4" width="830.2" height="678" fill="none" stroke="#262626" stroke-width="1.5"/>
<polyline points="1177.7,691.4 1179.21,691.4 1180.71,691.4 1182.22,691.4 1183.73,691.4 1185.23,691.4 1186.74,691.4 1188.24,691.4 1189.75,691.4 1191.26,691.4 1192.76,691.4 1194.27,691.39 1195.78,691.39 1197.28,691.39 1198.79,691.39 1200.3,691.39 1201.8,691.39 1203.31,691.39 1204.81,691.39 1206.32,691.39 1207.83,691.39 1209.33,691.39 1210.84,691.39 1212.35,691.39 1213.85,691.39 1215.36,691.39 1216.87,691.39 1218.37,691.39 1219.88,691.39 1221.38,691.39 1222.89,691.39 1224.4,691.38 1225.9,691.38 1227.41,691.38 1228.92,691.38 1230.42,691.38 1231.93,691.38 1233.44,691.38 1234.94,691.38 1236.45,691.38 1237.95,691.38 1239.46,691.38 1240.97,691.38 1242.47,691.38 1243.98,691.38 1245.49,691.38 1246.99,691.38 1248.5,691.38 1250.01,691.38 1251.51,691.38 1253.02,691.38 1254.53,691.38 1256.03,691.37 1257.54,691.37 1259.04,691.37 1260.55,691.37 1262.06,691.37 1263.56,691.37 1265.07,691.37 1266.58,691.37 1268.08,691.37 1269.59,691.37 1271.1,691.37 1272.6,691.37 1274.11,691.37 1275.61,691.37 1277.12,691.37 1278.63,691.37 1280.13,691.37 1281.64,691.37 1283.15,691.37 1284.65,691.37 1286.16,691.36 1287.67,691.36 1289.17,691.36 1290.68,691.36 1292.18,691.36 1293.69,691.36 1295.2,691.36 1296.7,691.36 1298.21,691.36 1299.72,691.36 1301.22,691.36 1302.73,691.36 1304.24,691.36 1305.74,691.36 1307.25,691.36 1308.75,691.36 1310.26,691.36 1311.77,691.36 1313.27,691.36 1314.78,691.36 1316.29,691.35 1317.79,691.35 1319.3,691.35 1320.81,691.35 1322.31,691.35 1323.82,691.35 1325.32,691.35 1326.83,691.35 1328.34,691.35 1329.84,691.35 1331.35,691.35 1332.86,691.35 1334.36,691.35 1335.87,691.35 1337.38,691.35 1338.88,691.35 1340.39,691.35 1341.89,691.35 1343.4,691.35 1344.91,691.35 1346.41,691.35 1347.92,691.34 1349.43,691.34 1350.93,691.34 1352.44,691.34 1353.95,691.34 1355.45,691.34 1356.96,691.34 1358.46,691.34 1359.97,691.34 1361.48,691.34 1362.98,691.34 1364.49,691.34 1366,691.34 1367.5,691.34 1369.01,691.34 1370.52,691.34 1372.02,691.34 1373.53,691.34 1375.03,691.34 1376.54,691.34 1378.05,691.33 1379.55,691.33 1381.06,691.33 1382.57,691.33 1384.07,691.33 1385.58,691.33 1387.09,691.33 1388.59,691.33 1390.1,691.33 1391.6,691.33 1393.11,691.33 1394.62,691.33 1396.12,691.33 1397.63,691.33 1399.14,691.33 1400.64,691.33 1402.15,691.33 1403.66,691.33 1405.16,691.33 1406.67,691.33 1408.18,691.32 1409.68,691.32 1411.19,691.32 1412.69,691.32 1414.2,691.32 1415.71,691.32 1417.21,691.32 1418.72,691.32 1420.23,691.32 1421.73,691.32 1423.24,691.32 1424.75,691.32 1426.25,691.32 1427.76,691.32 1429.26,691.32 1430.77,691.32 1432.28,691.32 1433.78,691.32 1435.29,691.32 1436.8,691.32 1438.3,691.32 1439.81,691.31 1441.32,691.31 1442.82,691.31 1444.33,691.31 1445.83,691.31 1447.34,691.31 1448.85,691.31 1450.35,691.31 1451.86,691.31 1453.37,691.31 1454.87,691.31 1456.38,691.31 1457.89,691.31 1459.39,691.31 1460.9,691.31 1462.4,691.31 1463.91,691.31 1465.42,691.31 1466.92,691.31 1468.43,691.31 1469.94,691.3 1471.44,691.3 1472.95,691.3 1474.46,691.3 1475.96,691.3 1477.47,691.3 1478.97,691.3 1480.48,691.31 1481.98,691.33 1483.48,691.33 1485,691.3 1486.58,691.23 1488.17,691.12 1489.77,691 1491.37,690.88 1492.96,690.78 1494.55,690.67 1496.14,690.57 1497.73,690.47 1499.33,690.36 1500.92,690.26 1502.46,689.98 1504.15,689.84 1505.7,689.88 1507.15,689.85 1508.74,689.7 1510.34,689.43 1512.04,689.69 1513.54,689.29 1515.28,689.54 1516.86,689.17 1518.54,688.87 1520.04,688.85 1521.41,688.66 1523.14,688.96 1524.37,688.87 1525.83,688.85 1527.18,688.81 1528.44,689.01 1530.03,689.24 1531.3,689.41 1532.69,689.3 1534.22,689.48 1535.46,689.35 1536.94,689.4 1538.39,689 1539.85,688.8 1541.08,689.03 1542.38,688.83 1543.71,688.87 1545.29,688.77 1546.71,688.57 1548.08,688.61 1549.52,688.38 1550.85,688.41 1552.06,687.98 1553.3,687.66 1554.87,687.44 1556.31,686.72 1557.55,686.58 1558.78,686.21 1560.1,685.86 1561.27,686.13 1562.83,686.05 1564.34,686.74 1565.62,686.99 1567.12,687.6 1568.6,687.78 1569.87,687.52 1571.34,687.57 1572.96,686.92 1574.17,686.62 1575.62,686.39 1577.19,685.86 1578.47,685.43 1580.03,684.97 1581.64,684.52 1582.9,684.06 1584.48,683.37 1586.04,683.36 1587.49,683.09 1588.77,682.75 1590.27,682.88 1591.79,682.78 1593.51,683.23 1594.62,683.58 1595.67,684.21 1596.91,685.01 1598.14,686.01 1599.58,686.37 1600.73,687.12 1601.99,687.51 1603.3,688.25 1604.7,687.99 1606.1,687.49 1607.65,687.16 1609.17,686.8 1610.16,687.23 1611.69,687.45 1612.89,688.33 1613.91,689.64 1615.4,690.5 1616.51,690.65 1617.95,690.61 1619.59,690.47 1621.27,690.29 1622.96,690.27 1624.27,690.04 1625.73,690.18 1627.33,690.12 1628.76,689.78 1630.39,690.09 1631.9,689.94 1633.38,689.84 1634.69,689.66 1636.22,689.35 1637.61,689.41 1639.17,689.56 1640.88,689.37 1642.36,689.58 1643.86,689.21 1645.12,689.06 1646.54,688.97 1648.09,689.24 1649.57,688.94 1650.93,689 1652.18,688.85 1653.84,688.82 1655.22,688.58 1656.46,688.65 1657.93,688.57 1659.54,688.28 1660.79,688.47 1662.31,687.99 1663.56,687.89 1665.21,688.13 1666.39,688.06 1668.01,687.92 1669.19,687.81 1670.48,687.49 1672.08,687.76 1673.31,687.86 1674.64,687.77 1676.12,687.39 1677.31,687.38 1678.66,687.48 1680.03,687.34 1681.35,687.53 1682.78,687.26 1684.21,687.43 1685.52,687.38 1686.9,687.14 1688.27,686.83 1689.6,686.86 1690.83,687.11 1692.24,686.9 1693.77,686.89 1695.01,686.82 1696.43,686.9 1697.65,686.73 1699.06,686.54 1700.58,686.6 1701.93,686.68 1703.45,686.47 1704.79,686.44 1706.18,686.48 1707.59,686.35 1709.01,686.5 1710.5,686.41 1711.99,686.05 1713.3,686.34 1714.8,685.89 1716.01,686.01 1717.43,685.9 1718.87,686.1 1720.5,686.15 1721.7,685.91 1723.16,685.37 1724.51,685.46 1725.58,685.07 1726.9,684.46 1728.35,684.27 1729.36,683.69 1730.72,683.22 1731.88,682.81 1733.32,682.34 1734.62,682.37 1735.8,682.31 1737.37,682.52 1738.64,682.97 1740.31,683.22 1741.55,683.12 1742.96,683.59 1744.46,683.48 1745.96,684.13 1747.53,684.07 1748.76,684.61 1750.28,684.62 1751.48,684.28 1753,684.25 1754.11,684.15 1755.53,683.64 1756.61,683.2 1757.87,682.78 1759.25,682.09 1760.53,681.92 1761.69,681.07 1763.06,680.77 1764.28,680.53 1765.63,680.58 1767.16,680.85 1768.77,681.17 1770.18,681.45 1771.58,681.64 1772.93,681.76 1774.72,681.94 1776.14,681.68 1777.92,681.21 1779.45,681.12 1780.96,681.07 1782.57,680.64 1784.25,680.65 1785.65,680.47 1787.22,680.43 1788.5,680.45 1789.87,680.51 1791.1,680.92 1792.45,680.73 1793.75,681.17 1795.34,681.19 1796.5,681.07 1797.82,681.28 1799.09,681.37 1800.44,681.73 1801.96,681.62 1803.06,681.93 1804.39,681.8 1805.62,682.06 1807.08,682.33 1808.31,682.4 1809.55,682.08 1810.68,681.65 1811.74,680.65 1812.89,679.78 1814.05,678.89 1815.19,677.99 1816.3,677.34 1817.37,676.61 1818.92,676.43 1820.26,676.88 1821.51,677.37 1823.24,677.77 1824.66,678.36 1825.94,678.61 1827.48,679.13 1828.98,679.55 1830.33,680 1831.79,680.27 1833.11,680.19 1834.59,680.43 1835.78,680.55 1837.15,680.18 1838.43,679.82 1839.66,679.02 1841.04,678.92 1842.25,678.36 1843.59,677.75 1844.9,677.58 1845.97,677.48 1847.59,677.56 1849.03,678.24 1850.39,678.37 1851.82,679.01 1853.33,679.48 1854.7,679.67 1855.94,680.1 1857.47,680.3 1858.99,680.13 1860.37,680.07 1862.07,679.99 1863.56,679.48 1864.97,679.31 1866.39,679.01 1868,679.07 1869.46,679.55 1870.58,679.46 1872.23,679.89 1873.53,679.68 1874.88,680.16 1876.27,680.12 1877.66,680.23 1879.34,680.15 1880.8,680.4 1882.11,680.55 1883.25,680.72 1884.7,680.34 1885.95,680.59 1887.47,680.44 1888.75,680.31 1890.14,680.27 1891.28,679.75 1892.75,678.73 1893.97,678.2 1895.16,677.1 1896.19,676.3 1897.57,675.65 1898.56,675.03 1899.73,674.57 1900.94,675.06 1902.25,675.51 1903.48,675.78 1904.81,676.43 1906.03,677.47 1907.48,677.9 1908.74,678.21 1910.17,677.98 1911.49,677.49 1912.92,677.31 1914.37,676.94 1915.66,676.17 1917.27,675.78 1918.49,675.57 1919.74,675.62 1921.54,675.43 1922.96,675.67 1924.4,676.03 1925.75,676.24 1927.25,676.9 1928.84,676.8 1930.47,677.43 1931.84,677.24 1933.27,677.46 1934.82,677.7 1936.29,678.06 1937.87,678.71 1939.42,678.77 1940.83,679.05 1942.36,679.02 1943.7,678.84 1945.43,678.45 1946.77,678.29 1948.36,677.67 1949.67,677.35 1951.17,677.27 1952.74,677.47 1954.12,677.17 1955.27,677.69 1956.92,677.79 1958.23,677.77 1959.57,678.41 1961.11,678.6 1962.58,678.61 1963.75,678.88 1965.28,679.37 1966.79,679.43 1968.04,679.23 1969.19,678.53 1970.21,677.68 1971.37,676.58 1972.59,675.04 1973.56,673.87 1974.88,673.2 1975.98,672.39 1977.32,672.56 1978.56,672.55 1979.94,672.82 1981.2,673.55 1982.76,674.23 1984.11,674.75 1985.28,675.2 1986.84,675.9" fill="none" stroke="#00ffff" stroke-width="1.8" stroke-linejoin="round"/>
<polyline points="1177.7,690.9 1179.22,690.9 1180.73,690.9 1182.25,690.9 1183.76,690.9 1185.28,690.9 1186.8,690.9 1188.31,690.9 1189.83,690.9 1191.34,690.9 1192.86,690.9 1194.38,690.9 1195.89,690.9 1197.41,690.9 1198.92,690.9 1200.44,690.9 1201.96,690.9 1203.47,690.9 1204.99,690.9 1206.5,690.9 1208.02,690.9 1209.54,690.9 1211.05,690.9 1212.57,690.9 1214.08,690.9 1215.6,690.9 1217.12,690.9 1218.63,690.9 1220.15,690.9 1221.66,690.9 1223.18,690.9 1224.7,690.9 1226.21,690.9 1227.73,690.9 1229.24,690.9 1230.76,690.9 1232.28,690.9 1233.79,690.9 1235.31,690.9 1236.82,690.9 1238.34,690.9 1239.85,690.9 1241.37,690.9 1242.89,690.9 1244.4,690.9 1245.92,690.9 1247.43,690.9 1248.95,690.9 1250.47,690.9 1251.98,690.9 1253.5,690.9 1255.01,690.9 1256.53,690.9 1258.05,690.9 1259.56,690.9 1261.08,690.9 1262.59,690.9 1264.11,690.9 1265.63,690.9 1267.14,690.9 1268.66,690.9 1270.17,690.9 1271.69,690.9 1273.21,690.9 1274.72,690.9 1276.24,690.9 1277.75,690.9 1279.27,690.9 1280.79,690.9 1282.3,690.9 1283.82,690.9 1285.33,690.9 1286.85,690.9 1288.37,690.9 1289.88,690.9 1291.4,690.9 1292.91,690.9 1294.43,690.9 1295.95,690.9 1297.46,690.9 1298.98,690.9 1300.49,690.9 1302.01,690.9 1303.53,690.9 1305.04,690.9 1306.56,690.9 1308.07,690.9 1309.59,690.9 1311.11,690.9 1312.62,690.9 1314.14,690.9 1315.65,690.9 1317.17,690.9 1318.69,690.9 1320.2,690.9 1321.72,690.9 1323.23,690.9 1324.75,690.9 1326.27,690.9 1327.78,690.9 1329.3,690.9 1330.81,690.9 1332.33,690.9 1333.85,690.9 1335.36,690.9 1336.88,690.9 1338.39,690.9 1339.91,690.9 1341.42,690.9 1342.94,690.9 1344.46,690.9 1345.97,690.9 1347.49,690.9 1349,690.9 1350.52,690.9 1352.04,690.9 1353.55,690.9 1355.07,690.9 1356.58,690.9 1358.1,690.9 1359.62,690.9 1361.13,690.9 1362.65,690.9 1364.16,690.9 1365.68,690.9 1367.2,690.9 1368.71,690.9 1370.23,690.9 1371.74,690.9 1373.26,690.9 1374.78,690.9 1376.29,690.9 1377.81,690.9 1379.32,690.9 1380.84,690.9 1382.36,690.9 1383.87,690.9 1385.39,690.9 1386.9,690.9 1388.42,690.9 1389.94,690.9 1391.45,690.9 1392.97,690.9 1394.48,690.9 1396,690.9 1397.52,690.9 1399.03,690.9 1400.55,690.9 1402.06,690.9 1403.58,690.9 1405.1,690.9 1406.61,690.9 1408.13,690.9 1409.64,690.9 1411.16,690.9 1412.68,690.9 1414.19,690.9 1415.71,690.9 1417.22,690.9 1418.74,690.9 1420.26,690.9 1421.77,690.9 1423.29,690.9 1424.8,690.9 1426.32,690.9 1427.84,690.9 1429.35,690.9 1430.87,690.9 1432.38,690.9 1433.9,690.9 1435.42,690.9 1436.93,690.9 1438.45,690.9 1439.96,690.9 1441.48,690.9 1443,690.9 1444.51,690.9 1446.03,690.9 1447.54,690.9 1449.06,690.9 1450.58,690.9 1452.09,690.9 1453.61,690.9 1455.12,690.9 1456.64,690.9 1458.15,690.9 1459.67,690.9 1461.19,690.9 1462.7,690.9 1464.22,690.9 1465.73,690.9 1467.25,690.9 1468.77,690.9 1470.28,690.9 1471.8,690.9 1473.31,690.9 1474.83,690.9 1476.35,690.9 1477.86,690.9 1479.38,690.9 1480.89,690.9 1482.41,690.9 1483.93,690.9 1485.44,690.9 1486.96,690.9 1488.47,690.9 1489.99,690.9 1491.51,690.9 1493.02,690.9 1494.54,690.9 1496.05,690.9 1497.57,690.9 1499.09,690.9 1500.6,690.9 1502.12,690.9 1503.63,690.9 1505.15,690.9 1506.67,690.9 1508.18,690.9 1509.7,690.9 1511.21,690.9 1512.73,690.9 1514.25,690.9 1515.76,690.9 1517.28,690.9 1518.79,690.9 1520.31,690.9 1521.83,690.9 1523.34,690.9 1524.86,690.9 1526.37,690.9 1527.89,690.9 1529.41,690.9 1530.92,690.9 1532.44,690.9 1533.95,690.9 1535.47,690.9 1536.99,690.9 1538.5,690.9 1540.02,690.9 1541.53,690.9 1543.05,690.9 1544.57,690.9 1546.08,690.9 1547.6,690.9 1549.11,690.9 1550.63,690.9 1552.15,690.9 1553.66,690.9 1555.18,690.9 1556.69,690.9 1558.21,690.9 1559.72,690.9 1561.24,690.9 1562.76,690.9 1564.27,690.9 1565.79,690.9 1567.3,690.9 1568.82,690.9 1570.34,690.9 1571.85,690.9 1573.37,690.9 1574.88,690.9 1576.4,690.9 1577.92,690.9 1579.43,690.9 1580.95,690.9 1582.46,690.9 1583.98,690.9 1585.5,690.9 1587.01,690.9 1588.53,690.9 1590.04,690.9 1591.56,690.9 1593.08,690.9 1594.59,690.9 1596.11,690.9 1597.62,690.9 1599.14,690.9 1600.66,690.9 1602.17,690.9 1603.69,690.9 1605.2,690.9 1606.72,690.9 1608.24,690.9 1609.75,691.03 1611.26,691.24 1612.77,691.28 1614.3,690.9 1615.16,690.4 1615.94,689.27 1616.93,688.98 1617.78,687.6 1618.81,687.11 1619.46,685.15 1620.41,684.33 1621.47,682.98 1622.4,682.37 1623.08,680.9 1624.15,680.13 1625.2,679.02 1626,678.54 1627.14,677.83 1628.31,676.3 1629.18,675.67 1630.39,675.3 1631.24,673.8 1632.33,673.38 1633.31,671.53 1634.26,670.6 1635.32,670.07 1635.8,669.02 1636.45,667.16 1636.57,666.38 1637.42,664.21 1637.94,663.2 1638.4,661.92 1638.96,660.5 1639.78,659.87 1641.26,658.72 1642.52,658.05 1643.52,657.97 1645.1,657.05 1645.94,656.48 1647.23,656.18 1648.37,654.72 1649.88,653.44 1650.63,653.06 1651.74,651.09 1651.95,649.98 1652.94,648.9 1653.3,648.12 1653.5,646.12 1654.23,644.96 1654.25,643.56 1654.7,641.7 1654.88,640.82 1655.69,639.26 1655.99,637.2 1655.89,636.07 1656.59,635.01 1656.61,632.99 1657.01,631.97 1657.71,630.67 1658.16,630.41 1659.66,629.54 1661.26,628.95 1662.41,629.32 1664.11,629.8 1665.2,631.05 1666.36,630.51 1667.13,630.19 1667.89,629.24 1668.81,627.44 1668.72,625.85 1668.87,625.26 1669.44,624.07 1669.42,622.76 1669.87,621.57 1670.18,620.2 1670.37,617.92 1670.71,616.38 1670.8,614.7 1671.14,612.76 1671.13,611.01 1671.33,609.79 1671.81,607.52 1671.98,606.4 1672.3,604.06 1672.74,602.86 1673.11,600.9 1673.12,600.19 1673.6,599.08 1673.47,597.47 1673.82,596.52 1674.6,596.21 1674.9,595.58 1675.2,595.45 1675.66,596.1 1676.84,596.64 1677.5,598.67 1678.19,600.07 1679.11,601.23 1680.15,602.63 1681.39,603.35 1682.13,604.42 1683.59,605.03 1684.5,605.43 1686.06,605.69 1687.01,604.84 1688.54,604.52 1689.98,603.23 1690.68,602.98 1691.78,601.64 1692.67,601.15 1693.61,599.63 1694.54,598.3 1695.68,597.65 1696.23,595.83 1697.35,594.63 1697.82,594.14 1698.85,592.93 1699.64,591.69 1700.48,589.5 1700.66,588.85 1701.41,587.96 1701.52,586.31 1702.09,584.67 1702.37,582.83 1702.98,581.7 1703.15,579.56 1703.93,578.24 1704,575.77 1704.8,574.89 1704.96,572.52 1705.6,571.42 1705.99,570.39 1706.35,568.96 1706.73,568.24 1706.94,568.3 1707.58,567.51 1707.73,567.91 1708.37,568.5 1708.64,569.31 1709.45,571.1 1709.56,572.2 1710.43,573.28 1710.96,574.97 1711.33,577 1711.84,578.36 1712.23,580.07 1712.74,581.41 1713.27,582.24 1713.87,583.86 1714.96,584.94 1715.95,586.67 1716.67,587 1717.59,587.25 1718.16,587.33 1718.97,586.79 1720.05,585.58 1720.98,584.52 1721.89,583.85 1722.58,581.77 1723.33,580.55 1724.24,578.77 1724.51,578.68 1724.74,577.59 1724.72,576.76 1725.14,575.7 1725.6,573.89 1725.74,573.44 1725.54,571.74 1726.1,570.34 1726.34,569.18 1726.44,567.76 1726.41,567.12 1726.38,565.16 1726.66,563.82 1726.52,562.27 1726.69,561.51 1727.07,560.02 1726.88,558.44 1726.95,556.73 1727.32,555.08 1727.53,553.75 1727.47,552.54 1727.3,551.13 1727.68,549.09 1727.88,547.47 1728.09,546.26 1727.86,544.95 1728.03,542.96 1728.33,541.39 1728.49,540.36 1728.51,539.77 1728.59,538.21 1728.56,536.32 1728.52,535.14 1728.94,534.06 1728.99,533.13 1728.89,531.16 1729.28,529.59 1729.03,528.5 1729.19,527.1 1729.35,525.89 1729.65,524.13 1729.77,522.95 1729.61,521.94 1729.77,519.8 1729.79,518.81 1730.31,517.51 1730.15,515.62 1730.05,514.54 1730.44,512.86 1730.59,511.54 1730.85,510.41 1730.59,509.18 1730.58,507.48 1730.88,505.86 1730.8,505.01 1730.89,503.49 1731.5,501.82 1731.21,500.97 1731.49,499.75 1731.78,498.11 1731.62,497.02 1731.61,496.39 1732.13,495.09 1731.83,494.11 1732.36,492.7 1732.49,491.65 1732.35,490.34 1732.59,488.62 1732.88,487.53 1733.31,485.86 1733.57,483.58 1733.73,482 1734.11,480.41 1734.08,478.93 1734.72,477.08 1734.93,475.58 1734.86,474.63 1735.4,474.32 1735.67,473.05 1736.02,472.6 1735.96,472.97 1736.44,472.94 1736.73,473.69 1736.91,474.35 1737.32,475.4 1737.48,476.52 1737.85,477.57 1737.96,479.42 1738.19,481.36 1738.54,482.31 1738.82,484.9 1739.25,485.98 1739.37,487.64 1740.02,489.84 1740.31,491.51 1740.24,492.8 1740.67,494.25 1741.17,495.35 1741.17,496.94 1741.97,498.45 1741.89,499.07 1742.32,500.03 1743.29,501.68 1744.77,502.63 1746.37,503.31 1746.42,503.87 1747.04,504.91 1747.01,506.25 1747,507.39 1747.25,509.22 1747.37,510.39 1747.75,512.14 1747.73,513.88 1747.32,515.34 1747.58,517.29 1747.59,518.81 1747.77,519.87 1748.06,521.16 1748.19,522.49 1747.96,523.62 1748.64,525.23 1748.91,526.34 1749.95,527.97 1750.61,528.67 1751.52,529.4 1752.79,529.02 1754.08,526.64 1754.5,526.49 1754.36,526.14 1754.52,525.74 1755.02,525.14 1755.15,524.09 1755.19,523.4 1755.6,522.34 1755.75,521.45 1755.53,520.78 1756.04,520.05 1755.9,519.4 1755.95,517.99 1756.24,517.16 1756.48,515.94 1756.38,514.48 1756.39,513.73 1756.77,512.39 1756.62,510.83 1757.05,509.64 1756.8,508.18 1757.31,506.59 1757.03,505.24 1757.4,504.29 1757.19,502.2 1757.33,500.87 1757.57,499.21 1757.55,497.71 1757.98,496.64 1757.59,495.29 1757.66,493.2 1758.22,491.98 1758.16,490.06 1757.94,488.64 1757.97,486.64 1758.2,484.87 1758.28,483.93 1758.51,482.06 1758.55,480.41 1758.35,478.92 1758.57,477.44 1758.91,475.56 1758.8,474.26 1758.79,472.21 1759.03,471.24 1759.13,469.52 1759.25,467.97 1759.21,466.26 1759.11,464.92 1759.08,463.26 1759.53,462.08 1759.53,460.24 1759.5,459.04 1759.69,457.64 1759.81,456.78 1759.64,455.24 1760.05,453.74 1759.99,453.05 1759.85,451.48 1760.02,450.55 1760.58,448.78 1760.27,447.24 1760.64,445.73 1760.77,443.99 1761.08,442.18 1761,440.83 1761.03,438.84 1761.28,437.15 1761.27,435.57 1761.54,432.96 1761.64,431.5 1761.64,429.76 1762.01,428.27 1762.11,426.16 1762.19,424.9 1762.72,423.06 1762.47,421.7 1762.71,419.61 1762.71,418.61 1763.22,417.04 1763.18,415.6 1763.2,414.66 1763.41,413.15 1763.8,412.17 1763.75,410.66 1763.94,409.57 1764.24,408.93 1764.39,408.13 1764.27,407.51 1764.44,406.96 1764.35,407.09 1764.64,406.45 1764.79,406.58 1765.03,406.84 1765.32,406.95 1765.62,407.96 1765.31,408.7 1765.92,409.61 1765.66,410.76 1766.08,411.28 1765.9,413.51 1766.4,414.37 1766.25,415.87 1766.47,418.1 1766.69,419.27 1767.15,421.61 1766.91,423.49 1767.31,425.19 1767.5,427.08 1767.74,428.79 1767.59,430.37 1767.95,432.07 1768.08,433.77 1768.33,434.69 1768.35,435.94 1768.7,437.1 1768.94,438.71 1769.21,440.64 1769.48,442.64 1769.45,444.32 1769.95,445.76 1770.32,447.67 1770.44,448.88 1771.04,450.06 1771.16,451.93 1771.15,453.11 1771.84,454.41 1772.01,455.25 1772.49,455.33 1773.11,455.18 1773.81,455.55 1774.48,455.02 1775.4,453.49 1776.38,452.24 1777.04,450.24 1777.43,449.64 1777.92,448.57 1778.18,447.71 1778.26,446.51 1778.5,445.95 1778.82,444.5 1778.87,442.7 1779.08,441.48 1779.47,440.12 1779.36,438.47 1780.02,436.65 1779.77,434.73 1779.95,432.89 1780.63,431.49 1780.68,429.86 1781,427.89 1781.02,426.09 1781.25,424.26 1781.42,422.12 1781.59,420.56 1781.82,418.5 1781.68,416.73 1782.17,415.86 1782.28,413.77 1782.55,412.6 1782.59,410.66 1782.63,409.42 1782.82,408.13 1783.17,407.39 1783.04,405.97 1783.22,404.59 1783.83,404.15 1784.09,403.32 1783.8,402.69 1784.32,402.76 1784.74,402.08 1784.65,401.64 1785.11,401.88 1785.19,402.13 1785.47,403.42 1785.89,404.59 1786.24,405.63 1786.63,406.16 1787.32,407.81 1787.7,409.32 1787.7,411.5 1788.42,413.28 1788.79,414.32 1789.09,416.62 1789.34,418.52 1789.56,420.2 1790.13,420.91 1790.05,422.93 1790.77,423.72 1790.79,425.71 1790.97,427.23 1791.36,427.93 1791.5,429.8 1791.73,431.29 1791.75,432.78 1792.06,434 1792.4,435.13 1792.49,436.76 1793.04,438.01 1793.12,438.77 1793.18,440.54 1793.91,441.49 1794.36,442.69 1795.46,444.14 1796.08,444.82 1796.83,446.45 1797.63,447.38 1798.55,448.75 1799.37,449.5 1799.44,450.63 1800.13,452.13 1800.78,453.65 1800.78,454.88 1801.59,456.22 1801.85,457.01 1802.38,458.81 1802.68,460.22 1802.9,460.76 1803.43,462.67 1803.71,464.09 1804.58,465.27 1804.89,467.4 1805.3,468.7 1805.67,470.81 1806.44,471.98 1806.54,473.43 1807.38,473.68 1807.74,474.56 1808.47,473.95 1808.82,473.22 1809.23,471.65 1809.76,470.57 1810.37,468.67 1810.85,466.72 1810.85,465.63 1811.43,465.21 1811.07,464.67 1811.56,463.42 1811.56,462.72 1811.63,461.51 1811.46,461.42 1812,459.96 1811.93,458.71 1812.12,457.77 1812.29,456.95 1812.29,455.96 1812.05,453.93 1812.08,452.82 1812.07,451.44 1812.38,450.88 1812.37,449.62 1812.66,447.48 1812.53,446.4 1812.31,445.5 1812.42,443.72 1812.65,442.63 1812.7,440.66 1812.6,438.97 1812.9,438.23 1812.52,435.86 1812.55,434.62 1812.92,433.59 1812.9,431.28 1812.88,430.33 1812.81,429.03 1812.5,426.72 1812.89,425.88 1812.85,423.75 1812.81,422.61 1812.55,420.67 1812.64,418.94 1812.76,417.45 1812.64,415.89 1812.88,414.26 1812.91,412.91 1812.54,412.08 1812.65,410.61 1813,409.11 1812.62,407.27 1812.61,406.28 1813.02,404.61 1812.82,402.98 1813.04,401.75 1812.95,400.12 1812.75,398.75 1813.03,397.94 1812.75,396.99 1812.84,395.38 1812.81,394.09 1813.22,392.66 1812.9,391.32 1813.02,390.24 1812.94,388.87 1812.95,387.37 1813.31,385.36 1813.24,384.04 1813.15,382.59 1813.24,381.94 1813.61,380.54 1813.15,378.63 1813.62,377.1 1813.55,376 1813.72,374.45 1813.65,373.44 1813.32,371.85 1813.72,371.04 1813.4,369.67 1813.83,368.2 1813.67,366.85 1813.49,366.15 1813.81,364.36 1813.5,362.99 1813.82,362.08 1813.68,360.54 1813.9,359.71 1814.05,358.31 1813.76,356.56 1814.09,355.57 1814.12,353.94 1814.22,352.88 1814.28,352.03 1814.15,349.92 1814.42,348.98 1814.46,347.42 1814.14,346.55 1814.29,344.55 1814.35,343.54 1814.21,342.06 1814.51,340.64 1814.4,339.4 1814.83,338.11 1814.63,336.55 1814.72,335.16 1814.61,333.85 1815.16,332.09 1814.99,330.71 1815.07,328.84 1815.37,327.63 1815.01,326.13 1815.12,325.4 1815.07,323.39 1815.5,322.14 1815.2,321.17 1815.58,319.79 1815.72,318.13 1815.88,317.41 1815.51,315.63 1815.82,314.76 1815.78,313.22 1815.92,312.07 1816.1,311.59 1815.93,310.23 1816.33,308.8 1816.49,307.75 1816.37,305.46 1816.73,303.68 1816.6,302.18 1816.92,299.79 1816.74,298.02 1816.97,296.94 1817.29,295.36 1817.43,293.97 1817.16,292.57 1817.8,292.11 1817.59,291.12 1817.97,290.88 1818.08,290.75 1818.21,291.55 1818.18,291.87 1818.9,293.31 1819.09,294.25 1819.24,295.71 1819.51,296.33 1819.61,298.04 1819.86,299.66 1820.02,301.93 1820.29,303.05 1820.47,304.98 1820.92,306.61 1820.79,308.68 1820.9,310.32 1821.56,311.88 1821.37,313.37 1821.66,314.27 1821.58,315.47 1821.8,316.95 1821.93,318.06 1821.95,319.61 1822.48,320.95 1822.45,322.3 1822.36,323.67 1822.62,324.86 1822.81,326.14 1822.76,327.29 1822.82,328.9 1823.01,330.34 1822.92,331.51 1823.48,332.8 1823.42,334.42 1823.38,336.26 1823.5,337.46 1823.53,338.22 1824.03,339.95 1823.71,341.29 1824.03,342.99 1823.97,343.91 1824.55,345.75 1824.25,346.75 1824.48,348.41 1824.76,349.91 1825.01,350.92 1825.1,352.43 1825.25,353.51 1825.4,355.05 1825.61,355.86 1825.73,357.09 1825.81,358.96 1825.81,360.65 1825.99,361.51 1826.26,363.27 1826.31,364.17 1826.37,365.59 1826.67,366.79 1826.64,368.36 1826.79,369.48 1827.16,371.28 1827.17,372.23 1827.15,373.41 1827.29,374.95 1827.69,375.8 1828.04,377.28 1828.16,378.99 1828.39,379.66 1828.27,381.51 1828.21,381.93 1828.69,383.51 1829.05,384.91 1829.02,386.25 1829.25,387.32 1829.58,388.7 1829.65,390.36 1829.9,392.14 1830.33,393.19 1830.28,394.48 1830.7,396.04 1831.06,397.69 1831.53,398.68 1831.52,400.11 1832.09,401.13 1832.11,402.8 1832.19,403.56 1832.9,405.18 1832.93,405.67 1833.41,407.27 1833.83,409.29 1834.34,410.64 1834.43,412.34 1835.11,414.17 1835.4,415.22 1836.08,416.49 1836.32,417.14 1836.76,416.04 1836.91,416.05 1837.09,414.96 1837.15,413.31 1837.81,412.03 1837.91,409.97 1838.01,408.47 1838.08,406.66 1838.42,405.08 1838.64,402.72 1838.5,401.52 1838.95,400.43 1838.7,399.39 1839.02,398.81 1839.17,397.58 1838.97,395.6 1839.44,394.57 1839.5,393.25 1839.3,391.79 1839.35,390.94 1839.7,389 1839.71,387.56 1839.59,386.53 1839.96,385.09 1839.97,383.27 1839.95,381.23 1840.4,380.44 1840.16,378.96 1840.51,376.91 1840.48,376 1840.51,374.5 1840.46,372.53 1840.81,370.93 1840.68,370.11 1840.87,368.65 1840.83,366.74 1840.99,365.45 1841.42,364.28 1841.3,362.91 1841.38,362 1841.42,360.61 1841.37,360.26 1841.61,358.77 1841.63,357.91 1841.9,356.01 1842.38,354.83 1842.37,353.86 1842.59,352.27 1843.26,350.98 1843.32,350.42 1843.79,348.53 1843.82,347.6 1844.05,346.53 1844.18,345.03 1844.56,342.74 1844.76,340.9 1845.13,339.2 1845.47,337.67 1845.42,335.57 1845.78,333.84 1846.16,332.18 1846.2,331.17 1846.3,330.2 1846.59,329.21 1846.92,328.33 1847.04,327.93 1847.11,328.75 1847.37,328.96 1847.44,329.47 1847.76,330.23 1847.91,330.83 1848.09,332.13 1848.17,333.88 1848.43,335.02 1848.95,336.89 1849.11,338.58 1848.88,339.73 1849,341.81 1849.51,343.26 1849.55,345.27 1849.88,346.63 1850.14,348.4 1850.19,349.87 1850.09,352.07 1850.56,353.04 1850.31,353.63 1850.5,354.99 1850.7,356.41 1850.67,357.63 1851.11,358.83 1851.34,360.51 1851.38,361.59 1851.34,363.35 1851.41,364.13 1851.78,366.23 1851.6,366.99 1852.02,368.93 1851.69,370.03 1851.84,371.96 1852.01,373.51 1852.42,374.21 1852.51,375.92 1852.66,377.74 1852.53,378.49 1853.01,380.2 1853.14,381.84 1853.17,383.34 1853.25,384.36 1853.08,385.92 1853.43,387.07 1853.86,388.01 1853.93,389.19 1854.07,391.11 1854,392.07 1854.57,393.31 1854.52,394.07 1854.54,395.79 1855.03,397.35 1855.28,399.03 1855.82,401.29 1855.89,402.68 1856.38,404.62 1856.95,406.25 1856.95,408.37 1857.22,409.62 1857.68,411.27 1858.15,412.49 1858.31,413.52 1858.9,414.24 1859.34,415.27 1859.34,415.23 1859.82,415.34 1860.31,415.04 1861.05,414.34 1861.85,412.28 1862.42,410.87 1863.03,408.9 1863.22,407.54 1864.03,406.73 1863.83,405.03 1864.58,403.11 1864.36,401.24 1864.79,399.22 1865.1,397.44 1865.58,396.6 1865.7,395.74 1866.03,394.37 1866.16,393.97 1866.64,394.91 1867.72,395.56 1868.03,397.4 1869.05,399.39 1869.32,400.96 1870.08,402.03 1870.19,402.73 1870.84,404.13 1870.96,405.69 1871.32,407.34 1871.61,408.06 1872.16,410.03 1872.67,411.56 1873.1,413.21 1873.28,414.23 1873.52,415.42 1874.15,416.48 1874.63,417.81 1874.93,419.8 1875.18,420.23 1875.82,421.63 1876.43,422.73 1876.96,424.75 1877.38,425.61 1877.57,427.05 1878.14,428.05 1878.48,429.27 1879.09,430.79 1879.7,431.67 1879.82,433.53 1880.39,435.11 1880.62,436.52 1881.13,438.42 1881.93,440.2 1882.37,441.4 1882.95,441.89 1883.47,441.8 1884.43,442.22 1885.38,441.52 1886.87,440.35 1887.68,438.82 1887.89,438.63 1888.05,437.19 1888.7,436.53 1888.64,435.75 1889.02,434.62 1889.24,433.45 1889.5,432.13 1889.41,430.67 1889.97,429.68 1889.67,428.58 1889.86,426.45 1890.12,425.11 1890.2,423.85 1890.16,422.29 1890.21,420.63 1890.58,418.6 1890.61,416.92 1890.77,415.93 1890.9,414.88 1891.09,413.4 1891.29,412.98 1890.88,412.08 1891.11,410.47 1891.49,409.77 1891.45,408.32 1891.52,407.16 1891.29,406.33 1891.23,405.39 1891.4,403.97 1891.73,402.91 1891.88,401.89 1891.93,400.62 1892.01,399.67 1891.66,398.3 1891.81,397.05 1892.05,395.82 1891.8,394.12 1892.18,393.32 1892.22,391.18 1892.2,389.89 1892.22,389.17 1892.03,387.92 1892.38,385.94 1892.17,384.73 1892.56,383.45 1892.21,381.55 1892.25,380.84 1892.34,379.19 1892.43,377.89 1892.53,375.97 1892.83,374.89 1892.77,373.69 1892.95,371.53 1892.67,370.2 1892.79,369.4 1892.99,367.2 1892.7,366.45 1893.01,364.61 1892.94,362.95 1893.18,361.71 1893.23,360.45 1892.84,358.75 1892.96,357.82 1893.2,355.61 1893.01,354.46 1893.21,353.23 1893.21,351.6 1893.04,350.39 1893.26,348.48 1893.37,347.95 1893.19,345.8 1893.57,344.53 1893.4,343.37 1893.44,342.07 1893.63,341.07 1893.92,338.91 1893.74,338.25 1893.95,336.95 1893.87,335.53 1893.77,333.93 1894.06,333.2 1894.19,331.79 1893.89,330.64 1894.19,329.01 1894.19,327.47 1894.21,326.12 1894,324.66 1894.2,323.84 1894.34,321.88 1894.27,320.37 1894.39,318.88 1894.26,318.15 1894.56,316.37 1894.68,314.85 1894.52,313.24 1894.65,312.07 1894.94,310.91 1895.11,309.33 1895.16,308.17 1894.76,306.44 1895.09,305.79 1895.03,304.23 1895.13,302.96 1894.99,301.26 1895.5,299.72 1895.21,298.14 1895.22,297.02 1895.57,295.64 1895.47,294.3 1895.64,293.58 1895.73,291.66 1895.83,291.04 1895.82,288.95 1896,288.38 1895.81,286.43 1895.79,285.51 1896.23,284.34 1896.32,282.7 1896.06,281.94 1896.31,280.39 1896.39,279.1 1896.12,277.95 1896.19,276.94 1896.41,275.62 1896.63,274.23 1896.62,272.84 1896.95,272.17 1897.06,270.57 1896.93,270.03 1896.85,268.34 1896.84,267.27 1897.24,266.13 1897.38,264.86 1897.35,263.38 1897.48,261.76 1897.63,259.74 1897.82,257.93 1897.93,256.62 1898.1,254.43 1898.22,253.26 1898.18,250.88 1898.35,249.74 1898.27,247.21 1898.59,246.14 1898.89,244.28 1899.14,242.63 1899.15,241.05 1898.89,239.73 1899.04,238.79 1899.44,237.35 1899.78,236.48 1899.48,235.41 1899.93,235.31 1899.75,233.9 1900.2,233.64 1900.44,233.59 1900.37,233.36 1900.57,233.55 1900.41,234.18 1900.4,234.42 1900.47,234.86 1900.76,235.72 1900.67,236.24 1900.96,237.46 1901.34,238.21 1901.05,238.99 1901.17,240.37 1901.25,241.46 1901.63,243.24 1901.47,245.01 1901.52,246.14 1901.59,247.98 1902.06,249.07 1902.09,251.23 1901.94,252.49 1902.14,254.72 1902.06,256.28 1902.39,257.83 1902.47,259.98 1902.37,261.74 1902.54,263.39 1902.91,264.58 1903.01,267.02 1902.8,267.81 1902.79,270.29 1902.84,271.81 1903.01,273.17 1903.08,274.12 1903.5,275.43 1903.41,277.48 1903.73,278.8 1903.98,279.4 1903.68,281.44 1904.04,282.13 1904.04,283.67 1904.11,284.92 1904,287.08 1904.26,288.34 1904.27,289.34 1904.38,290.65 1904.51,292.23 1904.61,293.62 1904.91,294.39 1904.94,296.06 1905.35,297.25 1905.08,299.12 1905.56,300.21 1905.34,301 1905.45,302.18 1905.45,303.84 1905.77,305.14 1905.86,305.88 1906.16,307.68 1906.21,308.8 1906.41,310.38 1906.64,311.31 1906.51,312.1 1906.66,313.83 1906.82,314.86 1907.03,316.31 1907.55,317.91 1907.55,320.51 1907.57,322.01 1907.85,323.44 1907.98,325.06 1908.54,327.32 1908.79,328.23 1908.89,329.92 1909.07,331.42 1909.09,332.93 1909.12,333.64 1909.76,334.12 1909.79,334.99 1909.76,334.82 1910.32,333.96 1910.55,332.4 1910.7,330.52 1911.1,328.14 1911.26,327.31 1911.25,326.27 1911.51,325.38 1911.86,324 1912.15,322.52 1912.25,320.91 1912.9,319.91 1912.95,318.53 1913.38,316.85 1913.29,315.94 1913.71,314.31 1914.15,313.05 1914.4,310.79 1914.3,310.36 1914.69,308.54 1914.48,307.44 1914.6,306.28 1915.13,305.14 1915.08,303.44 1915.19,302.92 1915.49,301.08 1915.5,300.02 1915.79,298.06 1915.88,296.87 1915.92,295.37 1915.97,294.08 1916.11,292.41 1916.14,291.54 1916.19,289.83 1916.68,288.58 1916.6,287.24 1917.01,285.82 1917.04,285.26 1916.95,283.65 1917.41,282.64 1917.33,280.99 1917.57,279.72 1917.91,277.99 1917.94,276.59 1918.36,274.57 1918.33,273.03 1918.82,271 1919.05,269.89 1918.93,268.39 1919.12,266.58 1919.56,265.79 1919.66,265.09 1920.08,264.81 1919.84,264.48 1920.26,264.48 1920.65,264.77 1920.63,265.73 1920.81,266.08 1921.04,267.27 1921.32,268.24 1921.38,268.79 1921.73,270.55 1921.98,272.15 1921.84,273.16 1922.03,275.28 1922.25,276.26 1922.81,278.37 1922.65,280.19 1923.22,281.74 1923.08,283.65 1923.49,285.26 1924.01,287.15 1924.16,288.17 1924.08,290.07 1924.11,291.98 1924.47,292.71 1924.7,293.98 1925.23,295.63 1925.28,296.87 1925.26,298.12 1925.94,299.91 1926.17,300.76 1926.05,301.9 1926.46,303.51 1926.66,304.92 1926.96,306.11 1927.31,307.25 1927.62,308.86 1927.39,309.92 1927.89,311.27 1928.15,312.46 1928.23,314.14 1928.49,315.31 1929.01,316.45 1929.08,317.99 1929.35,319.27 1929.42,320.17 1930.02,321.09 1930.44,322.36 1930.59,323.7 1931.06,325.27 1931.29,326.44 1931.52,327.82 1931.61,328.64 1932.2,329.83 1932.53,331.15 1932.37,332.35 1933.02,334.44 1933.09,335.54 1933.27,337.17 1933.71,337.66 1933.57,339.35 1933.76,340.71 1934.1,341.43 1934.44,342.79 1934.62,343.95 1935,345.43 1935.15,346.62 1935.31,348.71 1935.27,349.22 1935.44,351.14 1935.53,352.42 1935.64,353.71 1936.16,355.04 1936.3,356.11 1936.56,357.46 1936.78,359.57 1936.96,360.46 1936.79,361.59 1937.21,362.98 1937.48,363.86 1937.42,365.76 1937.65,366.64 1937.61,367.79 1937.95,369.97 1938.49,370.85 1938.77,372.14 1938.83,374.43 1938.92,375.82 1939.32,376.42 1939.38,378.15 1939.56,379.76 1939.75,381.11 1940.04,381.75 1940.4,383.03 1940.61,384.87 1940.85,385.77 1940.79,387.41 1941.03,389.22 1941.23,390.86 1941.53,392.29 1941.91,393.56 1941.91,395.47 1942.35,396.25 1943.1,396.38 1944.29,395.66 1946.3,393.96 1946.41,393.73 1946.48,392.93 1946.76,392.12 1947.17,390.99 1947.2,389.93 1947.39,388.49 1947.57,387.89 1947.85,386.57 1947.72,385.21 1948.09,383.61 1948.24,382.02 1948.15,380.54 1948.2,378.55 1948.21,377.11 1948.56,375.46 1948.84,373.72 1948.75,372.33 1948.84,371.34 1948.98,369.24 1948.82,368.33 1949.32,366.5 1949.24,365.84 1949.47,364.36 1949.64,362.9 1949.86,360.83 1950.03,359.45 1949.9,357.4 1949.97,356.24 1950.35,354.03 1950.33,352.42 1950.41,351.04 1950.65,350.43 1951.18,349.19 1951.08,348.11 1951.44,347.96 1951.64,347.52 1951.59,347.74 1952.21,348.53 1952.08,349.46 1952.51,350.26 1953.15,352.24 1953.34,353.43 1953.69,355.93 1954.04,357.57 1954.3,359.39 1954.46,360.73 1954.88,362.56 1955.14,363.4 1955.42,364.89 1955.63,365.82 1955.86,367.74 1955.68,369.11 1955.88,369.86 1956.22,371.22 1956.46,373.16 1956.79,374.31 1956.88,375.71 1957.36,376.94 1957.73,378.38 1957.75,379.03 1958.23,381.03 1958.43,382.13 1959.1,383.64 1959.07,384.7 1959.51,385.69 1960.38,387.29 1960.72,388.64 1961.02,389.74 1961.48,391.61 1962.06,392.41 1962.19,393.67 1962.93,395.09 1963.29,396.68 1963.38,397.98 1963.72,399.68 1964.17,400.84 1964.96,402.61 1964.92,404.74 1965.48,406.31 1965.7,407.37 1966.33,408.58 1966.67,409.22 1966.89,409.79 1967.01,409.85 1967.1,410.52 1967.5,409.91 1967.64,408.73 1967.79,407.89 1968.42,406.62 1968.37,405.56 1968.86,403.73 1968.62,401.98 1969.01,400.46 1969.15,398.31 1969.49,396.12 1969.61,394.46 1969.89,393.55 1969.66,393.2 1969.57,392.26 1969.97,391.17 1969.91,390.48 1970.21,389.56 1970.19,388.01 1970.02,387.15 1970.42,386.85 1970.04,385.57 1970.33,384.06 1970.29,383.63 1970.48,382.13 1970.6,381.04 1970.53,380.03 1970.82,379.09 1970.78,377.95 1970.6,377.02 1970.82,375.57 1970.64,373.86 1970.84,373.21 1971.01,371.52 1970.7,370.39 1971.14,368.77 1971.11,367.46 1970.92,366.02 1970.95,364.97 1971.36,364.13 1970.98,362.17 1971.42,360.68 1971.13,359.5 1971.05,357.93 1971.24,356.62 1971.58,355.08 1971.21,354.21 1971.38,352.69 1971.51,351.18 1971.37,349.15 1971.65,347.96 1971.57,346.65 1971.71,344.81 1971.53,343.89 1971.66,341.83 1971.74,340.3 1971.85,338.59 1971.91,337.56 1971.69,336.38 1971.67,334.24 1971.59,333 1971.99,331.6 1971.84,330.2 1971.71,328.24 1972.02,327.32 1972.05,325.56 1972.15,323.79 1972.27,322.6 1971.98,320.78 1972.26,319.25 1971.95,318.23 1972.17,316.43 1972.27,315.3 1972.01,313.32 1972,311.93 1972.27,310.87 1972.38,309.18 1972.27,307.74 1972.23,306.56 1972.54,305.15 1972.22,303.6 1972.58,302.06 1972.69,301.04 1972.64,299.61 1972.62,298.32 1972.37,296.83 1972.71,295.43 1972.51,293.64 1972.72,293.04 1972.58,291.22 1972.58,289.87 1972.86,289.44 1972.96,287.67 1972.95,285.99 1973.06,284.79 1972.65,283.64 1972.77,281.9 1972.76,280.63 1973.07,279.53 1972.83,278.12 1972.91,276.16 1973.23,274.84 1973.1,273.63 1973.08,272.42 1973.11,271.04 1973.47,269.36 1973.09,268.17 1973.12,266.52 1973.37,264.72 1973.52,263.91 1973.53,262.22 1973.53,261 1973.41,259.87 1973.86,258.42 1973.88,256.62 1973.93,255.01 1973.69,253.7 1973.71,252.83 1973.88,251.26 1973.72,249.67 1973.79,248.41 1973.71,247.48 1973.92,245.88 1973.78,244.79 1973.81,243.07 1974.04,242.15 1974.3,240.89 1974.32,239.74 1974.24,238.27 1973.91,236.53 1973.92,235.84 1974.34,234.37 1974.13,232.86 1974.11,231.86 1974.59,230.33 1974.12,228.99 1974.32,228.42 1974.6,226.81 1974.26,225.3 1974.32,224.71 1974.53,223.72 1974.81,222.38 1974.61,221.25 1974.46,219.46 1974.74,218.69 1974.58,217.34 1974.52,216.82 1974.93,215.76 1975.12,214.21 1975.03,213.1 1975.13,211.94 1974.82,209.57 1974.92,208.42 1975.07,206.2 1975.38,205.17 1975.24,202.76 1975.53,201.45 1975.15,199.51 1975.51,198.28 1975.49,196.33 1975.4,194.28 1975.84,192.75 1975.47,191.32 1975.55,189.4 1975.79,188.25 1975.95,186.92 1975.91,185 1976.12,183.72 1976.05,182.86 1976.23,182.08 1976.06,181.07 1976.37,180.08 1976.14,179.77 1976.45,178.46 1976.32,178.88 1976.39,178.09 1976.76,178.39 1976.76,178.5 1976.51,178.43 1977.09,179.88 1976.65,180.27 1976.82,182.35 1976.87,183.58 1977.32,185.16 1977.38,186.54 1977.05,188.09 1977.47,189.96 1977.7,192.29 1977.4,194.1 1977.54,195.47 1977.68,197.23 1978.31,198.67 1978.12,200.07 1978.76,201.45 1979.11,202.65 1979.56,204.17 1979.71,204.83 1980.4,206.37 1980.75,207.43 1981.36,208.76 1981.8,210.79 1981.96,211.51 1982.38,212.94 1982.54,214.2 1983.08,215.93 1982.98,216.87 1983.39,218.89 1983.65,219.56 1983.58,221.09 1983.97,222.31 1984.05,224.43 1984.31,224.94 1984.1,226.43 1984.6,228.29 1984.67,229.5 1984.75,230.99 1985.02,232.63 1985.2,233.91 1985.43,235.34 1985.45,236.01 1985.56,238.16 1985.54,239.6 1985.53,241.07 1985.79,242.27 1985.81,243.32 1985.99,244.74 1985.98,246.25" fill="none" stroke="#0000ff" stroke-width="2.0" stroke-linejoin="round"/>
<path d="M1177.7,691.4 C1179.71,691.4 1181.72,691.4 1183.74,691.4 C1185.75,691.4 1187.76,691.4 1189.77,691.4 C1191.79,691.4 1193.8,691.4 1195.81,691.4 C1197.82,691.4 1199.84,691.4 1201.85,691.4 C1203.86,691.4 1205.87,691.4 1207.89,691.4 C1209.9,691.4 1211.91,691.4 1213.92,691.4 C1215.94,691.4 1217.95,691.4 1219.96,691.4 C1221.97,691.4 1223.99,691.4 1226,691.4 C1228.01,691.4 1230.02,691.4 1232.04,691.4 C1234.05,691.4 1236.06,691.4 1238.07,691.4 C1240.09,691.4 1242.1,691.4 1244.11,691.4 C1246.12,691.4 1248.14,691.4 1250.15,691.4 C1252.16,691.4 1254.17,691.4 1256.19,691.4 C1258.2,691.4 1260.21,691.4 1262.22,691.4 C1264.23,691.4 1266.25,691.4 1268.26,691.4 C1270.27,691.4 1272.28,691.4 1274.3,691.4 C1276.31,691.4 1278.32,691.4 1280.33,691.4 C1282.35,691.4 1284.36,691.4 1286.37,691.4 C1288.38,691.4 1290.4,691.4 1292.41,691.4 C1294.42,691.4 1296.43,691.4 1298.45,691.4 C1300.46,691.4 1302.47,691.4 1304.48,691.4 C1306.5,691.4 1308.51,691.4 1310.52,691.4 C1312.53,691.4 1314.55,691.4 1316.56,691.4 C1318.57,691.4 1320.58,691.4 1322.6,691.4 C1324.61,691.4 1326.62,691.4 1328.63,691.4 C1330.65,691.4 1332.66,691.4 1334.67,691.4 C1336.68,691.4 1338.7,691.4 1340.71,691.4 C1342.72,691.4 1344.73,691.4 1346.74,691.4 C1348.76,691.4 1350.77,691.4 1352.78,691.4 C1354.79,691.4 1356.81,691.4 1358.82,691.4 C1360.83,691.4 1362.84,691.4 1364.86,691.4 C1366.87,691.4 1368.88,691.4 1370.89,691.4 C1372.91,691.4 1374.92,691.4 1376.93,691.4 C1378.94,691.4 1380.96,691.4 1382.97,691.4 C1384.98,691.4 1386.99,691.4 1389.01,691.4 C1391.02,691.4 1393.03,691.4 1395.04,691.4 C1397.06,691.4 1399.07,691.4 1401.08,691.4 C1403.09,691.4 1405.11,691.4 1407.12,691.4 C1409.13,691.4 1411.14,691.4 1413.16,691.4 C1415.17,691.4 1417.18,691.4 1419.19,691.4 C1421.2,691.4 1423.22,691.4 1425.23,691.4 C1427.24,691.4 1429.25,691.4 1431.27,691.4 C1433.28,691.4 1435.29,691.4 1437.3,691.4 C1439.32,691.4 1441.33,691.4 1443.34,691.4 C1445.35,691.4 1447.37,691.4 1449.38,691.4 C1451.39,691.4 1453.4,691.4 1455.42,691.4 C1457.43,691.4 1459.44,691.4 1461.45,691.4 C1463.47,691.4 1465.48,691.4 1467.49,691.4 C1469.5,691.4 1471.52,691.4 1473.53,691.4 C1475.54,691.4 1477.55,691.4 1479.57,691.4 C1481.58,691.4 1483.59,691.4 1485.6,691.4 C1487.62,691.4 1489.63,691.4 1491.64,691.4 C1493.65,691.4 1495.67,691.4 1497.68,691.4 C1499.69,691.4 1501.7,691.4 1503.71,691.4 C1505.73,691.4 1507.74,691.4 1509.75,691.4 C1511.76,691.4 1513.78,691.4 1515.79,691.4 C1517.8,691.4 1519.81,691.4 1521.83,691.4 C1523.84,691.4 1525.85,691.4 1527.86,691.4 C1529.88,691.4 1531.89,691.4 1533.9,691.4 C1535.91,691.4 1537.93,691.4 1539.94,691.4 C1541.95,691.4 1543.96,691.4 1545.98,691.4 C1547.99,691.4 1550,691.4 1552.01,691.4 C1554.03,691.4 1556.04,691.4 1558.05,691.4 C1560.06,691.4 1562.08,691.4 1564.09,691.4 C1566.1,691.4 1568.11,691.4 1570.13,691.4 C1572.14,691.4 1574.15,691.4 1576.16,691.4 C1578.18,691.4 1580.19,691.4 1582.2,691.4 C1584.21,691.4 1586.22,691.4 1588.24,691.4 C1590.25,691.4 1592.26,691.4 1594.27,691.4 C1596.29,691.4 1598.3,691.4 1600.31,691.4 C1602.32,691.4 1604.34,691.4 1606.35,691.4 C1608.36,691.4 1610.37,691.4 1612.39,691.4 C1614.4,691.4 1616.41,691.4 1618.42,691.4 C1620.44,691.4 1622.45,691.4 1624.46,691.4 C1626.47,691.4 1628.49,691.4 1630.5,691.4 C1632.51,691.4 1634.52,691.4 1636.54,691.4 C1638.55,691.4 1640.56,691.4 1642.57,691.4 C1644.59,691.4 1646.6,691.4 1648.61,691.4 C1650.62,691.4 1652.64,691.4 1654.65,691.4 C1656.66,691.4 1658.67,691.4 1660.69,691.4 C1662.7,691.4 1664.71,691.4 1666.72,691.4 C1668.73,691.4 1670.75,691.4 1672.76,691.4 C1674.77,691.4 1676.78,691.4 1678.8,691.4 C1680.81,691.4 1682.82,691.4 1684.83,691.4 C1686.85,691.4 1688.86,691.4 1690.87,691.4 C1692.88,691.4 1694.9,691.4 1696.91,691.4 C1698.92,691.4 1700.93,691.4 1702.95,691.4 C1704.96,691.4 1706.97,691.4 1708.98,691.4 C1711,691.4 1713.01,691.4 1715.02,691.4 C1717.03,691.4 1719.05,691.4 1721.06,691.4 C1723.07,691.4 1725.08,691.4 1727.1,691.4 C1729.11,691.4 1731.12,691.4 1733.13,691.4 C1735.15,691.4 1737.16,691.4 1739.17,691.4 C1741.18,691.4 1743.2,691.4 1745.21,691.4 C1747.22,691.4 1749.23,691.4 1751.24,691.4 C1753.26,691.4 1755.27,691.4 1757.28,691.4 C1759.29,691.4 1761.31,691.4 1763.32,691.4 C1765.33,691.4 1767.34,691.4 1769.36,691.4 C1771.37,691.4 1773.38,691.4 1775.39,691.4 C1777.41,691.4 1779.42,691.4 1781.43,691.4 C1783.44,691.4 1785.46,691.4 1787.47,691.4 C1789.48,691.4 1791.49,691.4 1793.51,691.4 C1795.52,691.4 1797.53,691.4 1799.54,691.4 C1801.56,691.4 1803.57,691.4 1805.58,691.4 C1807.59,691.4 1809.61,691.4 1811.62,691.4 C1813.63,691.4 1815.64,691.4 1817.66,691.4 C1819.67,691.4 1821.68,691.4 1823.69,691.4 C1825.7,691.4 1827.72,691.4 1829.73,691.4 C1831.74,691.4 1833.75,691.4 1835.77,691.4 C1837.78,691.4 1839.79,691.4 1841.8,691.4 C1843.82,691.4 1845.83,691.4 1847.84,691.4 C1849.85,691.4 1851.87,691.4 1853.88,691.4 C1855.89,691.4 1857.9,691.4 1859.92,691.4 C1861.93,691.4 1863.94,691.4 1865.95,691.4 C1867.97,691.4 1869.98,691.4 1871.99,691.4 C1874,691.4 1876.02,691.4 1878.03,691.4 C1880.04,691.4 1882.05,691.4 1884.07,691.4 C1886.08,691.4 1888.09,691.4 1890.1,691.4 C1892.12,691.4 1894.13,691.4 1896.14,691.4 C1898.15,691.4 1900.17,691.4 1902.18,691.4 C1904.19,691.4 1906.2,691.4 1908.21,691.4 C1910.23,691.4 1912.24,691.4 1914.25,691.4 C1916.26,691.4 1918.28,691.4 1920.29,691.4 C1922.3,691.4 1924.31,691.4 1926.33,691.4 C1928.34,691.4 1930.35,691.4 1932.36,691.4 C1934.38,691.4 1936.39,691.4 1938.4,691.4 C1940.41,691.4 1942.43,691.4 1944.44,691.4 C1946.45,691.4 1948.46,691.4 1950.48,691.4 C1952.49,691.4 1954.5,691.4 1956.51,691.4 C1958.53,691.4 1960.54,691.4 1962.55,691.4 C1964.56,691.4 1966.58,691.4 1968.59,691.4 C1970.6,691.4 1972.61,691.4 1974.63,691.4 C1976.64,691.4 1978.65,691.4 1980.66,691.4 C1982.68,691.4 1984.69,691.4 1986.7,691.4" fill="none" stroke="#ff0000" stroke-width="2.0" stroke-linejoin="round"/>
<line x1="108.5" y1="1416.8" x2="108.5" y2="1407.8" stroke="#262626" stroke-width="1.5"/>
<line x1="108.5" y1="787" x2="108.5" y2="796" stroke="#262626" stroke-width="1.5"/>
<text transform="translate(106.5 1450.8) scale(1.025 1.015)" font-size="26" text-anchor="middle" font-family="'Liberation Sans', Arial, Helvetica, sans-serif">0</text>
<line x1="198.92" y1="1416.8" x2="198.92" y2="1407.8" stroke="#262626" stroke-width="1.5"/>
<line x1="198.92" y1="787" x2="198.92" y2="796" stroke="#262626" stroke-width="1.5"/>
<text transform="translate(196.47 1450.8) scale(1.025 1.015)" font-size="26" text-anchor="middle" font-family="'Liberation Sans', Arial, Helvetica, sans-serif">20</text>
<line x1="289.34" y1="1416.8" x2="289.34" y2="1407.8" stroke="#262626" stroke-width="1.5"/>
<line x1="289.34" y1="787" x2="289.34" y2="796" stroke="#262626" stroke-width="1.5"/>
<text transform="translate(286.89 1450.8) scale(1.025 1.015)" font-size="26" text-anchor="middle" font-family="'Liberation Sans', Arial, Helvetica, sans-serif">40</text>
<line x1="379.77" y1="1416.8" x2="379.77" y2="1407.8" stroke="#262626" stroke-width="1.5"/>
<line x1="379.77" y1="787" x2="379.77" y2="796" stroke="#262626" stroke-width="1.5"/>
<text transform="translate(377.32 1450.8) scale(1.025 1.015)" font-size="26" text-anchor="middle" font-family="'Liberation Sans', Arial, Helvetica, sans-serif">60</text>
<line x1="470.19" y1="1416.8" x2="470.19" y2="1407.8" stroke="#262626" stroke-width="1.5"/>
<line x1="470.19" y1="787" x2="470.19" y2="796" stroke="#262626" stroke-width="1.5"/>
<text transform="translate(467.74 1450.8) scale(1.025 1.015)" font-size="26" text-anchor="middle" font-family="'Liberation Sans', Arial, Helvetica, sans-serif">80</text>
<line x1="560.61" y1="1416.8" x2="560.61" y2="1407.8" stroke="#262626" stroke-width="1.5"/>
<line x1="560.61" y1="787" x2="560.61" y2="796" stroke="#262626" stroke-width="1.5"/>
<text transform="translate(556.86 1450.8) scale(1.025 1.015)" font-size="26" text-anchor="middle" font-family="'Liberation Sans', Arial, Helvetica, sans-serif">100</text>
<line x1="651.03" y1="1416.8" x2="651.03" y2="1407.8" stroke="#262626" stroke-width="1.5"/>
<line x1="651.03" y1="787" x2="651.03" y2="796" stroke="#262626" stroke-width="1.5"/>
<text transform="translate(647.28 1450.8) scale(1.025 1.015)" font-size="26" text-anchor="middle" font-family="'Liberation Sans', Arial, Helvetica, sans-serif">120</text>
<line x1="741.46" y1="1416.8" x2="741.46" y2="1407.8" stroke="#262626" stroke-width="1.5"/>
<line x1="741.46" y1="787" x2="741.46" y2="796" stroke="#262626" stroke-width="1.5"/>
<text transform="translate(737.71 1450.8) scale(1.025 1.015)" font-size="26" text-anchor="middle" font-family="'Liberation Sans', Arial, Helvetica, sans-serif">140</text>
<line x1="831.88" y1="1416.8" x2="831.88" y2="1407.8" stroke="#262626" stroke-width="1.5"/>
<line x1="831.88" y1="787" x2="831.88" y2="796" stroke="#262626" stroke-width="1.5"/>
<text transform="translate(828.13 1450.8) scale(1.025 1.015)" font-size="26" text-anchor="middle" font-family="'Liberation Sans', Arial, Helvetica, sans-serif">160</text>
<line x1="922.3" y1="1416.8" x2="922.3" y2="1407.8" stroke="#262626" stroke-width="1.5"/>
<line x1="922.3" y1="787" x2="922.3" y2="796" stroke="#262626" stroke-width="1.5"/>
<text transform="translate(918.55 1450.8) scale(1.025 1.015)" font-size="26" text-anchor="middle" font-family="'Liberation Sans', Arial, Helvetica, sans-serif">180</text>
<line x1="108.5" y1="1416.8" x2="117.5" y2="1416.8" stroke="#262626" stroke-width="1.5"/>
<line x1="967.7" y1="1416.8" x2="958.7" y2="1416.8" stroke="#262626" stroke-width="1.5"/>
<text transform="translate(94.55 1424.9) scale(1.025 1.015)" font-size="26" text-anchor="end" font-family="'Liberation Sans', Arial, Helvetica, sans-serif">0</text>
<line x1="108.5" y1="1353.82" x2="117.5" y2="1353.82" stroke="#262626" stroke-width="1.5"/>
<line x1="967.7" y1="1353.82" x2="958.7" y2="1353.82" stroke="#262626" stroke-width="1.5"/>
<text transform="translate(91.25 1361.92) scale(1.025 1.015)" font-size="26" text-anchor="end" font-family="'Liberation Sans', Arial, Helvetica, sans-serif">0.1</text>
<line x1="108.5" y1="1290.84" x2="117.5" y2="1290.84" stroke="#262626" stroke-width="1.5"/>
<line x1="967.7" y1="1290.84" x2="958.7" y2="1290.84" stroke="#262626" stroke-width="1.5"/>
<text transform="translate(91.25 1298.94) scale(1.025 1.015)" font-size="26" text-anchor="end" font-family="'Liberation Sans', Arial, Helvetica, sans-serif">0.2</text>
<line x1="108.5" y1="1227.86" x2="117.5" y2="1227.86" stroke="#262626" stroke-width="1.5"/>
<line x1="967.7" y1="1227.86" x2="958.7" y2="1227.86" stroke="#262626" stroke-width="1.5"/>
<text transform="translate(91.25 1235.96) scale(1.025 1.015)" font-size="26" text-anchor="end" font-family="'Liberation Sans', Arial, Helvetica, sans-serif">0.3</text>
<line x1="108.5" y1="1164.88" x2="117.5" y2="1164.88" stroke="#262626" stroke-width="1.5"/>
<line x1="967.7" y1="1164.88" x2="958.7" y2="1164.88" stroke="#262626" stroke-width="1.5"/>
<text transform="translate(91.25 1172.98) scale(1.025 1.015)" font-size="26" text-anchor="end" font-family="'Liberation Sans', Arial, Helvetica, sans-serif">0.4</text>
<line x1="108.5" y1="1101.9" x2="117.5" y2="1101.9" stroke="#262626" stroke-width="1.5"/>
<line x1="967.7" y1="1101.9" x2="958.7" y2="1101.9" stroke="#262626" stroke-width="1.5"/>
<text transform="translate(91.25 1110) scale(1.025 1.015)" font-size="26" text-anchor="end" font-family="'Liberation Sans', Arial, Helvetica, sans-serif">0.5</text>
<line x1="108.5" y1="1038.92" x2="117.5" y2="1038.92" stroke="#262626" stroke-width="1.5"/>
<line x1="967.7" y1="1038.92" x2="958.7" y2="1038.92" stroke="#262626" stroke-width="1.5"/>
<text transform="translate(91.25 1047.02) scale(1.025 1.015)" font-size="26" text-anchor="end" font-family="'Liberation Sans', Arial, Helvetica, sans-serif">0.6</text>
<line x1="108.5" y1="975.94" x2="117.5" y2="975.94" stroke="#262626" stroke-width="1.5"/>
<line x1="967.7" y1="975.94" x2="958.7" y2="975.94" stroke="#262626" stroke-width="1.5"/>
<text transform="translate(91.25 984.04) scale(1.025 1.015)" font-size="26" text-anchor="end" font-family="'Liberation Sans', Arial, Helvetica, sans-serif">0.7</text>
<line x1="108.5" y1="912.96" x2="117.5" y2="912.96" stroke="#262626" stroke-width="1.5"/>
<line x1="967.7" y1="912.96" x2="958.7" y2="912.96" stroke="#262626" stroke-width="1.5"/>
<text transform="translate(91.25 921.06) scale(1.025 1.015)" font-size="26" text-anchor="end" font-family="'Liberation Sans', Arial, Helvetica, sans-serif">0.8</text>
<line x1="108.5" y1="849.98" x2="117.5" y2="849.98" stroke="#262626" stroke-width="1.5"/>
<line x1="967.7" y1="849.98" x2="958.7" y2="849.98" stroke="#262626" stroke-width="1.5"/>
<text transform="translate(91.25 858.08) scale(1.025 1.015)" font-size="26" text-anchor="end" font-family="'Liberation Sans', Arial, Helvetica, sans-serif">0.9</text>
<line x1="108.5" y1="787" x2="117.5" y2="787" stroke="#262626" stroke-width="1.5"/>
<line x1="967.7" y1="787" x2="958.7" y2="787" stroke="#262626" stroke-width="1.5"/>
<text transform="translate(94.55 795.1) scale(1.025 1.015)" font-size="26" text-anchor="end" font-family="'Liberation Sans', Arial, Helvetica, sans-serif">1</text>
<rect x="108.5" y="787" width="859.2" height="629.8" fill="none" stroke="#262626" stroke-width="1.5"/>
<polyline points="108.6,1416.8 110.11,1416.8 111.63,1416.8 113.14,1416.79 114.66,1416.79 116.17,1416.79 117.69,1416.79 119.2,1416.79 120.72,1416.79 122.23,1416.78 123.75,1416.78 125.26,1416.78 126.78,1416.78 128.29,1416.78 129.81,1416.78 131.32,1416.77 132.84,1416.77 134.35,1416.77 135.87,1416.77 137.38,1416.77 138.9,1416.77 140.41,1416.76 141.93,1416.76 143.44,1416.76 144.96,1416.76 146.47,1416.76 147.99,1416.76 149.5,1416.75 151.02,1416.75 152.53,1416.75 154.05,1416.75 155.56,1416.75 157.08,1416.75 158.59,1416.74 160.11,1416.74 161.62,1416.74 163.14,1416.74 164.65,1416.74 166.16,1416.74 167.68,1416.73 169.19,1416.73 170.71,1416.73 172.22,1416.73 173.74,1416.73 175.25,1416.73 176.77,1416.72 178.28,1416.72 179.8,1416.72 181.31,1416.72 182.83,1416.72 184.34,1416.72 185.86,1416.71 187.37,1416.71 188.89,1416.71 190.4,1416.71 191.92,1416.71 193.43,1416.71 194.95,1416.7 196.46,1416.7 197.98,1416.7 199.49,1416.7 201.01,1416.7 202.52,1416.7 204.04,1416.69 205.55,1416.69 207.07,1416.69 208.58,1416.69 210.1,1416.69 211.61,1416.69 213.13,1416.68 214.64,1416.68 216.16,1416.68 217.67,1416.68 219.19,1416.68 220.7,1416.67 222.21,1416.67 223.73,1416.67 225.24,1416.67 226.76,1416.67 228.27,1416.67 229.79,1416.66 231.3,1416.66 232.82,1416.66 234.33,1416.66 235.85,1416.66 237.36,1416.66 238.88,1416.65 240.39,1416.65 241.91,1416.65 243.42,1416.65 244.94,1416.65 246.45,1416.65 247.97,1416.64 249.48,1416.64 251,1416.64 252.51,1416.64 254.03,1416.64 255.54,1416.64 257.06,1416.63 258.57,1416.63 260.09,1416.63 261.6,1416.63 263.12,1416.63 264.63,1416.63 266.15,1416.62 267.66,1416.62 269.18,1416.62 270.69,1416.62 272.21,1416.62 273.72,1416.62 275.24,1416.61 276.75,1416.61 278.26,1416.61 279.78,1416.61 281.29,1416.61 282.81,1416.61 284.32,1416.6 285.84,1416.6 287.35,1416.6 288.87,1416.6 290.38,1416.6 291.9,1416.6 293.41,1416.59 294.93,1416.59 296.44,1416.59 297.96,1416.59 299.47,1416.59 300.99,1416.59 302.5,1416.58 304.02,1416.58 305.53,1416.58 307.05,1416.58 308.56,1416.58 310.08,1416.58 311.59,1416.57 313.11,1416.57 314.62,1416.57 316.14,1416.57 317.65,1416.57 319.17,1416.57 320.68,1416.56 322.2,1416.56 323.71,1416.56 325.23,1416.56 326.74,1416.56 328.26,1416.56 329.77,1416.55 331.29,1416.55 332.8,1416.55 334.31,1416.55 335.83,1416.55 337.34,1416.54 338.86,1416.54 340.37,1416.54 341.89,1416.54 343.4,1416.54 344.92,1416.54 346.43,1416.53 347.95,1416.53 349.46,1416.53 350.98,1416.53 352.49,1416.53 354.01,1416.53 355.52,1416.52 357.04,1416.52 358.55,1416.52 360.07,1416.52 361.58,1416.52 363.1,1416.52 364.61,1416.51 366.13,1416.51 367.64,1416.51 369.16,1416.51 370.67,1416.51 372.19,1416.51 373.7,1416.5 375.22,1416.5 376.73,1416.5 378.25,1416.5 379.76,1416.5 381.28,1416.5 382.79,1416.49 384.31,1416.49 385.82,1416.49 387.34,1416.49 388.85,1416.49 390.36,1416.49 391.88,1416.48 393.39,1416.48 394.91,1416.48 396.42,1416.48 397.94,1416.48 399.45,1416.48 400.97,1416.47 402.48,1416.47 404,1416.47 405.51,1416.47 407.03,1416.47 408.54,1416.47 410.06,1416.46 411.57,1416.46 413.09,1416.46 414.6,1416.46 416.12,1416.46 417.63,1416.46 419.15,1416.45 420.66,1416.45 422.18,1416.45 423.69,1416.45 425.21,1416.45 426.72,1416.45 428.24,1416.44 429.75,1416.44 431.27,1416.44 432.78,1416.44 434.3,1416.44 435.81,1416.44 437.33,1416.43 438.84,1416.43 440.36,1416.43 441.87,1416.43 443.39,1416.43 444.9,1416.42 446.41,1416.42 447.93,1416.42 449.44,1416.42 450.96,1416.42 452.47,1416.42 453.99,1416.41 455.5,1416.41 457.02,1416.41 458.53,1416.41 460.05,1416.41 461.56,1416.41 463.08,1416.4 464.59,1416.4 466.11,1416.4 467.62,1416.4 469.14,1416.4 470.65,1416.4 472.17,1416.39 473.68,1416.39 475.2,1416.39 476.71,1416.39 478.23,1416.39 479.74,1416.39 481.26,1416.38 482.77,1416.38 484.29,1416.38 485.8,1416.38 487.32,1416.38 488.83,1416.38 490.35,1416.37 491.86,1416.37 493.38,1416.37 494.89,1416.37 496.41,1416.37 497.92,1416.37 499.44,1416.36 500.95,1416.36 502.46,1416.36 503.98,1416.36 505.49,1416.36 507.01,1416.36 508.52,1416.35 510.04,1416.35 511.55,1416.35 513.07,1416.35 514.58,1416.35 516.1,1416.35 517.61,1416.34 519.13,1416.34 520.64,1416.34 522.16,1416.34 523.67,1416.34 525.19,1416.34 526.7,1416.33 528.22,1416.33 529.73,1416.33 531.25,1416.33 532.76,1416.33 534.28,1416.33 535.79,1416.32 537.31,1416.32 538.82,1416.32 540.34,1416.32 541.85,1416.32 543.37,1416.32 544.88,1416.31 546.4,1416.31 547.91,1416.31 549.43,1416.31 550.94,1416.31 552.47,1416.42 554,1416.62 555.51,1416.66 557,1416.3 557.97,1415.74 559.13,1415.05 560.05,1414.16 560.94,1413.22 561.83,1411.54 562.54,1410.45 563.37,1409.17 564.66,1408.59 565.36,1407.49 566.48,1406.58 567.41,1405.33 568.05,1404.54 569.06,1403.4 570.03,1402.33 571.23,1401.07 572.01,1400.4 572.94,1399.68 573.85,1398.76 574.95,1397.9 575.69,1396.47 576.76,1396.04 577.61,1394.66 578.85,1394.2 579.52,1392.81 580.58,1391.93 581.33,1390.9 581.78,1389.41 582.3,1388.51 582.95,1386.97 583.83,1385.98 584.24,1384.74 584.83,1383.55 585.35,1381.93 585.94,1380.78 586.84,1379.85 587.66,1379.14 589.04,1378.45 589.83,1377.77 590.91,1376.61 592.1,1376.13 593.39,1375.43 594.51,1374.36 595.63,1373.6 596.54,1372.27 597.18,1371.45 597.81,1370.75 598.31,1369.15 598.6,1367.76 599.51,1366.33 599.93,1365.16 600.43,1363.37 600.7,1361.79 601.53,1360.47 601.86,1359.12 602.14,1357.33 602.5,1356.52 603.01,1355.33 603.56,1354 603.92,1353.03 604.43,1351.88 605.01,1351.03 606.42,1350.19 608.11,1349.12 609.45,1348.65 610.5,1348.46 611.94,1348.33 613.37,1347.95 614.66,1346.79 615.06,1346.68 615.34,1345.26 615.86,1344.29 616.27,1343.51 616.49,1341.76 617.01,1340.36 617.24,1339 617.51,1337.12 617.91,1335.74 618.45,1334.11 618.37,1332.17 618.93,1330.72 619.26,1329.35 619.54,1327.16 619.86,1325.94 619.85,1324.28 620.41,1323.03 620.39,1321.92 621.07,1321.08 621.34,1320.02 621.59,1319.62 621.88,1319.51 623.48,1319.26 625.4,1320.39 626.29,1320.67 627.8,1321.8 628.91,1322.4 630.6,1322.63 631.41,1322.35 632.62,1321.98 633.5,1321.4 634.93,1320.52 635.98,1319.31 637.09,1318.14 637.89,1317.37 638.93,1316.21 639.43,1315.32 640.31,1314.47 641,1313.91 641.96,1313.01 642.68,1311.76 643.31,1310.84 644.18,1309.37 645.07,1308.54 645.81,1307.39 646.6,1305.66 647.4,1304.46 648.16,1303.45 648.49,1302.62 649.13,1301.01 649.71,1299.82 650.13,1298.13 650.71,1296.88 651.14,1295.12 651.74,1293.39 652.34,1291.96 652.63,1290.08 653.08,1289.11 653.55,1287.19 654.17,1286.3 654.79,1284.92 654.99,1284.19 655.63,1283.84 656.06,1283.87 657.17,1284.15 658.29,1284.8 659.33,1286.23 660.11,1287.69 661.31,1287.92 662.68,1289.04 664.31,1290.27 665.41,1290.56 666.85,1290.81 667.76,1290.26 668.51,1289.45 669.69,1288.81 670.68,1287.92 671.64,1286.12 672.12,1285.12 673.13,1282.98 673.49,1282.31 673.59,1281.59 673.99,1280.94 674.07,1280.06 674.55,1278.88 674.82,1278.06 674.78,1276.73 675.28,1275.74 675.49,1274.16 675.83,1273.34 675.72,1271.79 676.22,1270.31 676.18,1269.47 676.56,1267.56 676.66,1266.22 676.8,1265.05 676.74,1263.19 676.93,1261.73 677.01,1260.13 677.32,1258.8 677.33,1257.38 677.83,1255.84 677.73,1254.39 677.91,1252.48 678.06,1250.84 678.29,1249.41 678.3,1248.45 678.6,1246.86 678.69,1245.24 678.86,1244.01 678.79,1242.43 678.98,1240.66 679.35,1239.52 679.52,1238.36 679.57,1236.58 679.49,1235.54 679.96,1234.14 679.86,1232.77 680.08,1232.13 680.2,1230.73 680.5,1230.05 681.12,1227.95 681.07,1226.93 681.74,1224.68 681.79,1223.24 682.1,1221.46 682.48,1219.69 682.63,1217.95 682.99,1216.42 683.52,1215.4 683.69,1214.14 684.23,1212.64 684.47,1211.51 685,1210.94 684.98,1210.02 685.61,1209.78 685.99,1209.51 686.5,1210.18 686.68,1210.83 687.18,1212.12 687.91,1213.69 688.16,1214.9 688.85,1217 689.16,1218.47 689.93,1219.99 690.58,1221.39 691.1,1222.45 692.51,1223.41 693.76,1223.72 695.24,1223.72 696.56,1224.73 697.09,1225.97 697.22,1227.05 697.56,1228.73 697.46,1230.45 697.89,1232.46 698.19,1233.81 698.82,1234.07 699.6,1234.58 700.73,1234.37 702.12,1233.54 703.7,1232.89 705.19,1232.44 706.08,1230.79 706.36,1230.36 706.91,1229.53 707.33,1228.81 707.66,1227.6 707.64,1226.79 708.06,1225.63 708.35,1224.46 708.39,1223.43 708.72,1222.37 708.72,1220.82 709.08,1219.79 709.06,1217.8 709.09,1216.73 709.1,1214.84 709.47,1213.95 709.19,1212.12 709.46,1210.47 709.29,1209.24 709.65,1207.48 709.44,1205.92 709.51,1204.78 709.58,1202.8 709.98,1201.2 709.81,1199.69 709.95,1198.57 710.38,1196.92 710.26,1195.99 710.54,1194.35 710.58,1192.86 711.11,1191.27 710.98,1190.14 711.42,1188.63 711.42,1187 711.65,1184.83 711.77,1183.4 712.07,1181.24 712.02,1180.06 712.16,1178.2 712.44,1176.06 712.59,1174.49 713.08,1172.57 713.21,1171.04 713.11,1169.72 713.36,1167.79 713.58,1166.75 713.96,1165.18 713.79,1163.99 714.22,1162.87 714.56,1161.36 714.7,1160.71 714.65,1159.53 714.88,1158.78 715.08,1158.03 715.2,1158.15 715.47,1157.69 715.86,1157.68 715.84,1157.98 716.32,1158.56 716.51,1159.24 716.76,1160 716.91,1161.42 717.2,1162.77 717.29,1164.56 717.63,1166.32 717.88,1168.48 718.14,1169.8 718.44,1172.01 718.62,1173.66 718.67,1175.4 719.23,1176.55 719.52,1178.01 720.12,1179.06 720.76,1180.26 721.76,1181.56 722.83,1182.72 724.05,1183.66 724.72,1183.8 725.84,1183.52 726.54,1182.8 727.47,1181.94 728.04,1180.2 729.04,1178.4 729.77,1176.86 729.88,1175.99 730.34,1174.29 730.68,1173.48 730.98,1171.8 731.25,1170.51 731.66,1168.4 731.83,1166.8 732.37,1165.28 732.31,1163.66 732.56,1161.66 733.01,1160.01 733.28,1157.88 733.61,1156.77 734,1154.93 734.05,1153.8 734.58,1152.17 734.91,1151.62 735.02,1150.28 735.44,1149.97 735.55,1149.07 735.93,1149.16 736.61,1149.37 737.5,1150.51 738.12,1152.13 739.31,1153.24 739.91,1154.1 740.66,1155.65 741.33,1157.27 741.92,1158.71 742.65,1159.4 743.61,1161.17 744.67,1162.12 745.78,1162.82 747.16,1162.63 748.61,1163.44 749.97,1163.97 750.82,1164.49 751.87,1165.68 752.91,1166.61 753.76,1168.11 755.11,1169.74 755.94,1170.67 757.05,1171.73 758.02,1173.12 758.71,1173.44 759.69,1173.67 760.49,1173.29 761.01,1172.63 761.91,1171 762.49,1169.92 762.65,1168.1 763.44,1166.82 763.65,1164.87 764.05,1164.46 764.1,1163.45 764.23,1162.15 764.35,1161.33 764.68,1160.24 764.62,1159.11 764.72,1157.97 764.93,1157.02 764.97,1155.79 765.18,1154.88 765.29,1153.57 765.36,1151.72 765.49,1150.33 765.38,1148.89 765.66,1148.1 765.6,1146.23 765.66,1144.77 765.82,1143.32 765.64,1142.15 765.86,1140.04 766.02,1139.03 765.85,1137.44 766.13,1135.74 765.96,1134.14 766.05,1132.86 766.17,1131.53 765.96,1129.6 766.3,1128.38 766.24,1126.8 766.18,1125.5 766.32,1123.65 766.22,1121.99 766.58,1121.04 766.28,1119.31 766.54,1118.05 766.56,1116.99 766.64,1115.42 766.98,1114.22 766.88,1112.78 766.95,1111.78 767.26,1110.02 767.23,1108.52 767.37,1107.25 767.59,1105.11 767.65,1103.77 767.72,1101.94 767.81,1099.83 767.98,1098.5 768.17,1096.34 768.29,1094.64 768.74,1093.26 768.97,1091.76 768.99,1090.14 768.97,1088.6 769.28,1086.62 769.59,1085.71 769.62,1083.89 770.01,1083.17 770.09,1082.27 770.05,1080.7 770.29,1079.89 770.74,1079.68 770.7,1078.88 770.94,1078.89 771.37,1079.03 771.59,1079.21 771.98,1079.35 772.28,1080.11 772.97,1081.78 773.25,1082.56 773.43,1084.06 773.91,1086.09 774.19,1087.64 774.86,1088.98 775.17,1091.16 775.63,1092.47 776.05,1093.69 776.12,1094.74 776.66,1096.32 776.93,1097.41 776.9,1098.49 777.29,1100.23 777.41,1101.73 778.03,1102.96 777.99,1104.61 778.46,1105.98 778.82,1107.48 779.05,1109.09 779.58,1110.5 779.74,1111.48 779.95,1112.83 780.49,1114.54 780.76,1115.85 781.17,1117 781.23,1118.23 781.55,1119.24 781.86,1120.45 782.54,1121.58 783.26,1123 783.82,1125.01 784.05,1126.48 784.81,1127.94 785.41,1128.78 786.17,1129.51 786.75,1130.23 787.21,1130.63 788.86,1130.83 790.28,1129.91 791.6,1128.8 791.74,1128.02 792.36,1126.98 792.65,1126.04 792.81,1125.37 793.3,1124.19 793.3,1122.56 793.66,1121.27 793.69,1119.86 793.84,1118.38 794.02,1116.22 794.29,1114.64 794.42,1112.97 794.7,1111.72 794.77,1109.86 794.9,1108.51 794.94,1107.34 795.07,1105.71 795.34,1104.65 795.97,1102.87 796.17,1101.69 796.69,1100.27 796.96,1098.75 797.34,1096.53 798.07,1094.87 798.27,1093.57 798.8,1091.9 799.52,1090.83 799.92,1089.61 800.42,1088.78 800.85,1088.54 801.3,1088.49 801.48,1088.49 801.88,1088.88 801.85,1089.91 802.43,1090.68 802.68,1091.49 802.83,1093.2 803.3,1094.71 803.22,1096.09 803.65,1097.53 803.75,1099.05 804.14,1101.02 804.34,1102.67 804.74,1104.66 805.06,1105.9 805.5,1107.62 805.86,1109.52 805.87,1110.58 806.6,1111.62 806.92,1113 807.22,1114.43 807.79,1116.04 808.56,1117.77 809.26,1119.35 809.59,1120.92 810.31,1121.88 811.02,1123.03 811.44,1123.81 812.06,1124.61 812.69,1124.83 813.32,1123.9 814.26,1123.26 814.99,1122.01 815.9,1120.92 816.63,1119.43 817.56,1117.53 818.25,1115.37 818.78,1114.14 819.98,1112.8 820.62,1111.72 821.36,1111.98 822.35,1112.07 823.01,1112.19 824,1113.49 824.88,1114.65 825.88,1115.84 826.92,1116.71 828.05,1117.97 828.88,1118.8 829.86,1120.45 830.5,1121.44 831.52,1122.25 832.51,1123.84 833.72,1125.25 834.69,1126.05 835.5,1126.58 836.47,1127.46 837.24,1127.98 838.54,1127.32 839.88,1126.72 841.4,1126.22 842.46,1124.79 843.73,1123.44 844.18,1122.59 844.48,1121.31 845.07,1120.41 845.57,1119.32 845.93,1118.14 845.92,1117.06 846.31,1115.65 846.72,1114.21 846.91,1113.22 847.05,1111.52 847.47,1110.08 847.38,1108.17 847.57,1106.78 847.83,1105.4 848.13,1104.15 848.32,1103.53 848.35,1101.88 848.52,1100.86 848.91,1099.96 848.85,1098.37 848.82,1097.1 849.28,1096.2 849.11,1094.89 849.19,1093.49 849.42,1091.87 849.71,1090.94 849.72,1089.17 849.9,1087.97 850,1086.33 850.21,1084.85 850.03,1083.7 850.12,1082.06 850.43,1081.26 850.38,1079.32 850.62,1077.86 850.61,1076.76 850.72,1074.97 850.67,1073.83 851.16,1072.69 850.89,1071.01 851.16,1069.43 851.34,1068.29 851.5,1066.81 851.67,1065.87 851.59,1064.11 851.7,1062.84 851.91,1062.02 851.98,1061.02 851.88,1059.67 852.33,1058.13 852.31,1056.49 852.6,1055.29 852.68,1053.54 852.87,1051.78 853.01,1050.17 853.26,1047.69 853.29,1046.41 853.8,1044.6 853.69,1043.07 854.12,1040.92 854.17,1039.78 854.2,1037.91 854.55,1037.2 855.02,1035.66 855.19,1035 855.38,1034.07 855.65,1033.51 855.86,1033.08 855.77,1032.91 856.13,1032.92 856.33,1033.45 856.67,1033.9 856.79,1034.96 857.15,1035.97 857.48,1037.04 857.69,1038.48 858.07,1040.28 858.35,1041.75 858.4,1043.7 858.79,1045.02 858.98,1046.78 859.44,1048.8 859.64,1050.44 859.81,1051.89 860.16,1053.36 860.45,1055.14 860.9,1056.1 861,1057.94 861.49,1059.42 861.8,1061.09 861.96,1062.36 862.31,1064.1 862.88,1066.2 863.08,1068.25 863.46,1069.41 863.59,1070.93 864.11,1072.85 864.32,1073.94 864.57,1075.2 865.11,1076.46 865.52,1077.18 865.71,1077.35 866.02,1077.93 866.54,1077.12 867.16,1076.9 868,1075.33 868.61,1074.28 869.05,1072.17 869.81,1070.63 870.14,1069.38 870.65,1067.96 871.1,1066.6 871.25,1065.28 871.79,1063.47 872.18,1062.35 872.56,1060.58 873.08,1058.49 873.22,1057.08 873.86,1055.08 874.08,1053.8 874.77,1051.77 875.02,1050.53 875.29,1048.82 875.67,1048.08 876.16,1047.04 876.33,1046.11 876.77,1045.8 877.14,1045.98 877.44,1046.24 877.86,1046.7 878.22,1047.38 878.62,1048.12 879.13,1050.01 879.24,1051.5 879.66,1053.29 879.83,1054.57 880.27,1056.49 880.88,1058.36 881.2,1059.7 881.75,1061.04 882,1062.88 882.57,1064.28 882.96,1065.15 883.56,1066.06 884.09,1067.35 884.81,1068.82 885.48,1069.95 886.19,1071.33 886.95,1072.31 887.39,1073.74 887.98,1075.21 888.56,1076.42 889.27,1077.23 890.02,1078.57 890.51,1079.41 891.44,1080.88 891.74,1082.46 892.58,1083.69 893.17,1085.56 893.84,1086.77 894.78,1088.2 895.22,1089.47 896,1091.13 896.57,1092.11 897.13,1093.37 897.86,1094.17 898.44,1094.63 898.9,1094.5 900.43,1094.54 901.41,1093.42 902.39,1091.79 903.26,1090.5 903.97,1089.23 904.41,1087.87 904.82,1086.4 905.18,1084.85 905.59,1082.99 905.94,1081.56 906.16,1079.6 906.76,1078.12 907.11,1076.79 907.47,1075.12 907.81,1074.55 908.28,1073.84 908.64,1073.36 909.44,1073.84 909.87,1074.01 910.41,1074.98 911.13,1076.94 911.63,1077.93 912.28,1079.44 912.88,1081.25 913.16,1082.98 913.97,1084.23 914.73,1085.27 915.46,1086.36 916.13,1087.8 916.43,1089.15 917.14,1090.27 918.09,1091.54 918.64,1092.79 919.47,1094.2 920.57,1094.96 921.84,1095.56 923.13,1096.24 924.58,1097.16 925.8,1096.93 926.63,1097.1 927.26,1096.5 927.77,1095.63 928.03,1095.16 928.35,1094.32 928.34,1093.71 928.57,1092.49 928.97,1090.96 929.05,1089.78 928.96,1088.28 929.35,1086.94 929.24,1085.53 929.1,1084.14 929.45,1082.61 929.34,1080.5 929.38,1079.19 929.57,1077.28 929.57,1075.42 929.82,1073.97 929.74,1072.53 929.73,1070.85 929.94,1069.32 929.94,1067.86 930.27,1066.84 930.26,1065.68 930.3,1064.29 930.31,1063.19 930.52,1061.8 930.75,1060.18 930.88,1058.34 931.04,1056.91 931.18,1055.67 931.2,1054.07 931.2,1052.32 931.52,1050.31 931.26,1048.77 931.53,1046.87 931.51,1045.65 931.68,1043.42 931.69,1041.98 931.8,1040.18 932.05,1038.42 932.14,1036.98 932.04,1035.34 932.22,1033.03 932.56,1031.74 932.57,1029.85 932.79,1028.31 932.87,1026.68 932.92,1025.44 932.95,1023.84 932.94,1022.51 933.32,1020.78 933.38,1019.86 933.31,1018.66 933.76,1016.91 933.62,1015.8 933.75,1014.74 933.98,1013.88 934.04,1013.13 934.2,1012.55 934.49,1011.36 934.42,1010.67 934.61,1010.22 934.92,1010.27 935.19,1009.57 934.95,1009.76 935.26,1009.8 935.6,1009.56 935.83,1010.62 936.39,1011.23 936.74,1012.71 937.3,1014 937.42,1015.61 938.13,1017.38 938.44,1019.3 938.76,1021.12 939.08,1022.84 939.75,1024.11 939.86,1025.83 940.43,1026.42 940.6,1028.08 941.02,1029.22 941.04,1030.37 941.61,1031.96 941.73,1033.21 942.25,1034.54 942.31,1035.73 942.77,1037.17 943.11,1038.19 943.58,1039.65 943.97,1041.02 944.2,1042.71 944.35,1044 944.66,1045.48 944.97,1046.65 945.44,1047.58" fill="none" stroke="#00ffff" stroke-width="1.8" stroke-linejoin="round"/>
<polyline points="108.6,1416.8 110.11,1416.8 111.61,1416.8 113.12,1416.8 114.62,1416.8 116.13,1416.8 117.63,1416.8 119.14,1416.8 120.64,1416.8 122.15,1416.8 123.65,1416.8 125.16,1416.8 126.66,1416.8 128.17,1416.8 129.67,1416.8 131.18,1416.8 132.69,1416.79 134.19,1416.79 135.7,1416.79 137.2,1416.79 138.71,1416.79 140.21,1416.79 141.72,1416.79 143.22,1416.79 144.73,1416.79 146.23,1416.79 147.74,1416.79 149.24,1416.79 150.75,1416.79 152.25,1416.79 153.76,1416.79 155.27,1416.79 156.77,1416.79 158.28,1416.79 159.78,1416.79 161.29,1416.79 162.79,1416.79 164.3,1416.79 165.8,1416.79 167.31,1416.79 168.81,1416.79 170.32,1416.79 171.82,1416.79 173.33,1416.79 174.83,1416.79 176.34,1416.79 177.85,1416.78 179.35,1416.78 180.86,1416.78 182.36,1416.78 183.87,1416.78 185.37,1416.78 186.88,1416.78 188.38,1416.78 189.89,1416.78 191.39,1416.78 192.9,1416.78 194.4,1416.78 195.91,1416.78 197.41,1416.78 198.92,1416.78 200.43,1416.78 201.93,1416.78 203.44,1416.78 204.94,1416.78 206.45,1416.78 207.95,1416.78 209.46,1416.78 210.96,1416.78 212.47,1416.78 213.97,1416.78 215.48,1416.78 216.98,1416.78 218.49,1416.78 219.99,1416.78 221.5,1416.78 223.01,1416.77 224.51,1416.77 226.02,1416.77 227.52,1416.77 229.03,1416.77 230.53,1416.77 232.04,1416.77 233.54,1416.77 235.05,1416.77 236.55,1416.77 238.06,1416.77 239.56,1416.77 241.07,1416.77 242.57,1416.77 244.08,1416.77 245.59,1416.77 247.09,1416.77 248.6,1416.77 250.1,1416.77 251.61,1416.77 253.11,1416.77 254.62,1416.77 256.12,1416.77 257.63,1416.77 259.13,1416.77 260.64,1416.77 262.14,1416.77 263.65,1416.77 265.15,1416.77 266.66,1416.76 268.17,1416.76 269.67,1416.76 271.18,1416.76 272.68,1416.76 274.19,1416.76 275.69,1416.76 277.2,1416.76 278.7,1416.76 280.21,1416.76 281.71,1416.76 283.22,1416.76 284.72,1416.76 286.23,1416.76 287.73,1416.76 289.24,1416.76 290.75,1416.76 292.25,1416.76 293.76,1416.76 295.26,1416.76 296.77,1416.76 298.27,1416.76 299.78,1416.76 301.28,1416.76 302.79,1416.76 304.29,1416.76 305.8,1416.76 307.3,1416.76 308.81,1416.76 310.31,1416.76 311.82,1416.76 313.33,1416.75 314.83,1416.75 316.34,1416.75 317.84,1416.75 319.35,1416.75 320.85,1416.75 322.36,1416.75 323.86,1416.75 325.37,1416.75 326.87,1416.75 328.38,1416.75 329.88,1416.75 331.39,1416.75 332.89,1416.75 334.4,1416.75 335.91,1416.75 337.41,1416.75 338.92,1416.75 340.42,1416.75 341.93,1416.75 343.43,1416.75 344.94,1416.75 346.44,1416.75 347.95,1416.75 349.45,1416.75 350.96,1416.75 352.46,1416.75 353.97,1416.75 355.47,1416.75 356.98,1416.75 358.49,1416.74 359.99,1416.74 361.5,1416.74 363,1416.74 364.51,1416.74 366.01,1416.74 367.52,1416.74 369.02,1416.74 370.53,1416.74 372.03,1416.74 373.54,1416.74 375.04,1416.74 376.55,1416.74 378.05,1416.74 379.56,1416.74 381.07,1416.74 382.57,1416.74 384.08,1416.74 385.58,1416.74 387.09,1416.74 388.59,1416.74 390.1,1416.74 391.6,1416.74 393.11,1416.74 394.61,1416.74 396.12,1416.74 397.62,1416.74 399.13,1416.74 400.63,1416.74 402.14,1416.74 403.65,1416.73 405.15,1416.73 406.66,1416.73 408.16,1416.73 409.67,1416.73 411.17,1416.73 412.68,1416.73 414.18,1416.73 415.69,1416.73 417.19,1416.73 418.7,1416.73 420.2,1416.73 421.71,1416.73 423.21,1416.73 424.72,1416.73 426.23,1416.73 427.73,1416.73 429.24,1416.73 430.74,1416.73 432.25,1416.73 433.75,1416.73 435.26,1416.73 436.76,1416.73 438.27,1416.73 439.77,1416.73 441.28,1416.73 442.78,1416.73 444.29,1416.73 445.79,1416.73 447.3,1416.73 448.81,1416.72 450.31,1416.72 451.82,1416.72 453.32,1416.72 454.83,1416.72 456.33,1416.72 457.84,1416.72 459.34,1416.72 460.85,1416.72 462.35,1416.72 463.86,1416.72 465.36,1416.72 466.87,1416.72 468.37,1416.72 469.88,1416.72 471.39,1416.72 472.89,1416.72 474.4,1416.72 475.9,1416.72 477.41,1416.72 478.91,1416.72 480.42,1416.72 481.92,1416.72 483.43,1416.72 484.93,1416.72 486.44,1416.72 487.94,1416.72 489.45,1416.72 490.95,1416.72 492.46,1416.72 493.97,1416.71 495.47,1416.71 496.98,1416.71 498.48,1416.71 499.99,1416.71 501.49,1416.71 503,1416.71 504.5,1416.71 506.01,1416.71 507.51,1416.71 509.02,1416.71 510.52,1416.71 512.03,1416.71 513.53,1416.71 515.04,1416.71 516.55,1416.71 518.05,1416.71 519.56,1416.71 521.06,1416.71 522.57,1416.71 524.07,1416.71 525.58,1416.71 527.08,1416.71 528.59,1416.71 530.09,1416.71 531.6,1416.71 533.1,1416.71 534.61,1416.71 536.11,1416.71 537.62,1416.7 539.13,1416.7 540.63,1416.7 542.14,1416.7 543.64,1416.7 545.15,1416.7 546.65,1416.7 548.16,1416.7 549.66,1416.7 551.17,1416.7 552.67,1416.7 554.18,1416.7 555.66,1416.81 557.12,1417 558.62,1417.04 560.2,1416.7 561.19,1416.25 562.24,1415.61 563.28,1414.83 564.42,1413.54 565.63,1412.72 567.04,1411.74 567.86,1410.49 569.29,1409.49 570.16,1408.94 571.01,1407.86 571.87,1406.31 572.76,1405.62 574.22,1404.38 574.86,1403.95 575.62,1402.37 576.62,1401.67 577.73,1401.18 578.19,1399.86 579.19,1398.33 580.08,1398.2 580.86,1396.84 581.98,1395.3 583.01,1394.36 583.58,1394.01 584.41,1392.78 585.6,1392.03 586.74,1390.95 588.11,1390.18 589.31,1389.59 590.83,1388.81 592.23,1388.31 593.05,1387.24 594.43,1386.14 595.39,1385.23 596.5,1384.54 597.26,1383.94 597.9,1382.05 599.15,1381.45 600.02,1379.98 600.7,1378.69 601.35,1377.55 602.02,1376.19 602.36,1375.07 602.73,1373.73 603.46,1371.68 603.74,1370.56 604.55,1369.49 605.14,1368.08 606.24,1367.07 607.65,1366.94 609.23,1366.64 610.44,1366.33 612.22,1365.47 613.8,1365.35 614.71,1364.46 615.16,1363.86 616.01,1362.2 617.03,1360.91 617.68,1360.01 617.85,1359.02 618.19,1357.7 618.83,1356.62 618.74,1354.7 619.54,1353.38 619.46,1351.77 619.86,1350.52 620.08,1348.57 620.29,1347.1 620.33,1346.01 621.11,1344.42 621.47,1342.81 621.77,1341.45 622.16,1340.99 622.78,1340.39 623.33,1339.37 624.47,1339.44 625.54,1339.86 627.31,1341.23 628.86,1342.01 629.96,1342.24 631.64,1342.51 632.75,1342.14 633.88,1342.24 635.16,1341.65 636.44,1340.8 637.63,1339.26 638.88,1338 640.06,1337.38 640.82,1336.99 642.03,1335.2 643.37,1334.46 643.92,1333.25 644.79,1332.87 646.01,1331.55 646.72,1330.17 648.03,1329.04 648.89,1328.29 649,1327.14 649.54,1325.72 650.58,1324.27 650.98,1322.86 651.27,1321 651.86,1319.26 652.32,1317.99 653.05,1316.55 653.58,1314.96 654.26,1313.92 654.55,1312.37 655.28,1311.58 655.32,1310.98 656.22,1311.33 657.05,1311.33 658.09,1312.32 658.67,1313.29 659.74,1314.59 660.24,1316.29 661.59,1317.05 662.54,1318.78 663.26,1319.17 664.55,1320.4 665.9,1321.78 666.67,1321.79 667.71,1320.89 668.88,1320.27 669.32,1319.62 670.24,1318.48 671.4,1317.6 672.26,1316.01 673.27,1314.19 673.31,1313.04 673.81,1312.2 674.22,1311.3 674.33,1310.33 675.02,1308.79 674.88,1307.4 674.98,1306.2 675.41,1305.69 675.79,1304.48 676.08,1302.73 676.12,1300.76 676.18,1299.58 676.5,1297.93 676.62,1296.77 676.75,1295.31 676.67,1294.15 677.25,1292.53 676.99,1291.04 677.6,1289.94 677.69,1287.53 677.92,1286.7 677.73,1285.53 678.23,1284.1 678.06,1282.41 678.33,1280.8 678.75,1279.77 678.68,1278.33 679.23,1276.97 679.4,1275.58 679.62,1273.64 679.48,1272.75 679.81,1271.76 679.92,1269.85 680.1,1268.49 680.31,1267.5 680.06,1265.47 680.74,1263.81 680.86,1262.4 680.94,1261.8 680.87,1260.02 681.03,1259.01 681.39,1257.6 681.44,1256.29 682,1255.22 682.18,1253.45 682.11,1252.38 682.2,1251.63 682.3,1250.25 682.86,1249.54 682.73,1247.19 683.33,1246.07 683.45,1244.16 683.92,1242.06 684.57,1239.84 684.55,1238.31 684.78,1237.02 685.48,1236.07 685.5,1235.35 686.11,1234.07 686.69,1234.52 686.74,1234.9 687.5,1234.95 687.43,1236.75 688.34,1237.43 688.73,1239.75 689.11,1241.54 689.8,1242.76 690.23,1244.96 690.48,1246.11 691.31,1247.35 692.25,1247.81 693.2,1248.83 694.31,1249.8 695.85,1249.93 696.62,1251.37 696.76,1252.57 697.47,1253.39 697.28,1254.81 697.83,1256.5 697.99,1257.71 697.75,1259.34 698.5,1260.46 698.44,1262.15 699.37,1263.55 700.47,1264.5 701.96,1266.12 702.85,1266.05 703.49,1265.58 704.45,1265.14 705.51,1263.82 706.12,1262.1 706.11,1261.14 706.42,1260.31 706.89,1259.43 706.83,1258.62 707.33,1258.02 707.27,1256.74 707.69,1256.22 707.56,1254.71 707.94,1253.2 707.71,1251.8 707.98,1251.18 707.88,1249.5 708.49,1248.18 708.23,1247.12 708.64,1245.22 708.27,1244.01 708.74,1242.8 708.78,1240.67 708.78,1239.12 708.83,1237.76 709.19,1236.65 709.29,1234.66 709.4,1232.77 709.47,1231.72 709.53,1229.95 709.7,1228.02 709.72,1227.3 709.54,1225.81 709.56,1224.26 709.83,1222.47 709.79,1221.44 710.24,1219.34 710.54,1218.13 710.33,1217.01 710.61,1216.11 711,1214.41 710.82,1212.37 710.82,1211.22 711.3,1209.53 711.72,1207.85 711.52,1206.17 711.59,1204.98 712.02,1202.86 712.11,1200.83 712.23,1199.34 712.5,1198.1 712.76,1195.62 712.65,1193.89 713.02,1192.86 713.54,1190.69 713.67,1189.33 713.73,1187.9 713.63,1185.98 714.21,1185.22 714.24,1184.15 714.71,1182.31 714.46,1181.44 715.02,1180.09 714.86,1179.44 715.06,1178.89 715.63,1177.76 715.73,1177.17 715.79,1176.72 716.38,1176.75 716.53,1176.55 716.92,1176.98 717.16,1177.35 717.45,1178.04 718.04,1179.7 718.11,1181.05 718.2,1182.31 718.63,1184.5 718.86,1185.84 719.73,1187.93 720.01,1189.16 720.08,1191.17 720.5,1192.66 720.91,1193.96 721.54,1195.61 722.27,1196.9 722.76,1198.27 723.19,1199.95 723.51,1201.8 724.2,1202.95 724.47,1204.28 725.33,1204.66 726.27,1203.77 727.54,1203.18 728.49,1201.74 729.46,1200.87 730.76,1199.14 730.94,1198.4 731.42,1196.87 731.66,1196.09 732.08,1194.38 732.11,1193.09 732.25,1191.56 732.88,1190.16 732.78,1188.61 732.98,1186.87 733.21,1184.43 733.49,1183.04 733.7,1181.61 734.31,1179.22 734.4,1177.88 734.49,1175.75 734.92,1174.83 734.57,1172.67 734.98,1171.11 735.27,1170.52 735.27,1169.3 735.69,1167.49 736.32,1166.94 736.19,1166.17 736.59,1165.78 736.81,1165.75 737.51,1166.1 737.82,1166.69 738.59,1167.73 738.84,1169.02 739.63,1169.98 739.97,1171.23 740.3,1173.38 741.13,1174.25 741.88,1176.71 741.91,1178.16 742.61,1179.54 743.54,1180.76 743.92,1182.29 744.32,1183.23 745.51,1184.86 746.43,1185.56 747.44,1185.98 748.61,1186.81 750.02,1188.07 750.84,1188.9 751.44,1190.78 751.88,1191.43 753.02,1193.09 753.91,1194.46 754.37,1196.63 755.13,1198.19 756.25,1198.94 756.81,1201.12 757.29,1202.35 758.4,1203.42 758.97,1203.73 759.81,1204.45 760.27,1205.51 760.49,1205.58 761.14,1205.35 761.43,1204.82 762.07,1203.64 762.5,1202.31 762.74,1200.46 762.89,1198.65 763.23,1197.12 763.91,1194.73 764.2,1194.53 764.3,1192.91 764.25,1192.74 764.29,1191.18 764.57,1190.7 764.46,1190.14 764.36,1188.37 764.83,1187.59 764.37,1186.4 765.02,1185.91 764.62,1184.19 765.1,1183.54 764.97,1181.81 764.93,1181.4 764.74,1179.62 764.82,1178.91 764.9,1177.55 765.39,1175.99 764.96,1174.6 765.27,1173.01 765.1,1171.62 765.53,1169.82 765.61,1168.66 765.28,1167.02 765.43,1165.95 765.53,1164.7 765.53,1162.82 765.84,1161.01 765.29,1159.59 765.49,1157.85 765.58,1156.22 765.91,1155.12 765.91,1153.78 765.85,1152.29 765.62,1150.7 765.58,1148.97 765.84,1147.63 765.61,1145.64 766.03,1144.55 766.15,1142.31 765.72,1140.76 766.06,1139.87 766.04,1138.38 765.99,1136.65 766.27,1135.23 766.14,1133.69 766.08,1132.38 766.16,1130.3 766.12,1129.15 766.16,1127.87 766.16,1126.3 766.25,1124.9 766.62,1123.26 766.1,1122.57 766.38,1120.99 766.56,1119.63 766.41,1118.03 766.85,1117.73 766.57,1116.07 766.66,1114.51 767.07,1114.17 766.76,1112.5 767.12,1112 767.11,1109.96 767.11,1108.7 767.62,1107.04 767.31,1105.04 767.98,1103.4 767.81,1101.06 767.72,1099.87 767.87,1098.19 768.38,1096.1 768.67,1094.84 768.66,1092.32 768.81,1091 768.77,1089.91 769.22,1087.57 769.09,1086.33 769.47,1084.93 769.56,1084.13 769.58,1082.84 769.85,1081.97 770.41,1080.37 770.39,1079.3 770.46,1079.1 770.79,1078.24 770.62,1077.59 771.13,1077.37 771.18,1077.72 771.84,1077.77 771.75,1078.33 772.07,1079.3 772.31,1079.81 772.8,1081.71 772.97,1082.42 773.28,1084.01 773.74,1085.87 774.34,1087.63 774.51,1089.41 775.04,1091.69 775.19,1093.46 775.45,1095.18 775.84,1095.91 775.98,1096.58 776.07,1098.33 776.44,1099.33 776.74,1100.38 776.82,1101.3 777.14,1103.1 777.51,1103.76 777.86,1105.56 777.72,1106.77 778.06,1108.75 778.51,1109.68 778.59,1111.09 778.86,1112.59 779.43,1114.5 779.63,1116.05 779.87,1116.74 779.76,1118.25 780.16,1120.06 780.76,1121.55 780.79,1122.63 781.39,1124.54 781.27,1125.21 781.93,1126.77 782.12,1127.95 782.27,1129.47 782.69,1130.65 782.49,1131.76 783.18,1133.69 783.36,1134.5 783.42,1135.14 783.58,1136.85 783.83,1137.41 784.54,1138.7 785.14,1141.21 785.59,1142.2 786.39,1144.39 786.88,1145.48 787.66,1146.82 787.78,1148.12 788.49,1149.25 789,1150.06 789.64,1149.97 789.45,1150.13 789.73,1149.1 790.06,1148.61 790.67,1147.11 790.59,1146.59 791.02,1144.44 791.21,1143.56 791.22,1141.24 791.55,1139.65 791.43,1137.68 791.79,1135.82 792.01,1134.42 792.35,1132.5 792.78,1130.49 792.68,1130.27 793.2,1129.1 793.34,1127.47 793.56,1126.18 793.37,1124.46 793.58,1123.61 793.94,1121.62 794.3,1119.73 794.64,1118.81 794.94,1117.24 794.9,1114.82 795.42,1113.67 795.44,1111.6 795.56,1110.37 796,1108.63 796.19,1106.43 796.56,1105.16 797.05,1103.1 797.2,1101.52 797.57,1100.28 797.65,1098.34 797.74,1097.37 798.32,1095.37 798.16,1093.9 798.95,1092.46 799.11,1091.76 799.22,1090.67 799.39,1089.69 799.44,1089.16 799.7,1087.61 800.28,1087.46 800.6,1086.99 800.91,1085.97 800.58,1085.92 801.27,1085.75 801.4,1086.49 801.46,1086.6 802.17,1087.39 802.14,1087.89 802.32,1089.31 802.88,1090.13 802.85,1091.43 803.21,1092.86 803.38,1094.41 803.82,1095.53 804,1097.51 804.23,1099.33 804.17,1100.96 804.86,1102.26 805.2,1103.62 805.16,1105.86 805.72,1107.14 806.11,1108.98 805.83,1109.94 806.15,1111.77 806.58,1112.77 806.94,1113.99 807.51,1116.24 807.59,1117.42 807.73,1119.2 808.05,1121.24 808.71,1122.68 808.93,1123.74 808.81,1125.72 809.12,1127.49 809.95,1129.57 810.25,1130.57 810.13,1131.93 810.49,1133.45 810.98,1135.09 811.41,1136.64 811.71,1137.55 812.14,1138.98 812.49,1139.66 812.71,1140.21 812.84,1140.94 813.57,1141.03 814.12,1141.88 814.68,1141.6 815.05,1140.24 815.52,1139.69 816.58,1137.64 816.63,1136.26 817.48,1134.77 817.99,1133.29 818.77,1131.71 819.41,1129.67 819.96,1129.18 820.84,1128.29 821.14,1127.74 822.12,1128.38 822.81,1128.04 823.03,1129.75 823.67,1130.77 824.04,1131.11 825,1132.76 825.31,1134.39 825.87,1136.57 826.65,1138.13 826.81,1139.68 827.26,1140.81 828.43,1142.08 828.72,1143.68 829.31,1145.07 830.25,1145.82 831.12,1147.24 831.71,1148.99 832.11,1150.2 833.38,1152.38 833.81,1153.77 834.88,1155.2 835.38,1155.71 836.14,1157.41 837.03,1157.9 837.86,1158.21 838.44,1158.95 839.54,1158.95 840.81,1158.12 842.5,1156.8 843.96,1155.81 844.61,1154.21 845.2,1153.57 845.16,1152.5 845.87,1151.74 845.85,1151.54 846.44,1150.68 846.24,1148.8 846.76,1148.33 846.69,1146.64 846.87,1145.69 847.08,1145.21 846.96,1143.04 847.34,1141.77 847.13,1140.75 847.64,1139.25 847.29,1137.98 847.24,1136.46 847.59,1134.9 847.67,1133.26 847.28,1132.17 847.5,1130.92 847.31,1129.19 847.66,1127.24 847.35,1125.91 847.74,1124.18 847.59,1122.81 847.7,1120.96 847.48,1119.42 847.74,1118.27 848.06,1116.37 847.73,1114.48 847.99,1113.46 847.85,1111.89 848.38,1110.44 848.41,1109.31 848.32,1108.55 848.12,1106.81 848.67,1105.3 848.33,1104.47 848.67,1103.36 848.86,1102.12 848.37,1100.23 848.47,1099.28 848.53,1098.05 848.97,1096.4 849.18,1095.27 849.31,1093.85 849.18,1092.67 849.04,1091.54 848.96,1089.63 849.22,1088.87 849.4,1086.63 849.35,1085.8 849.73,1083.89 849.78,1082.76 849.7,1081.38 849.72,1080.53 850.09,1079.04 850.05,1077.4 849.77,1075.32 850.25,1074.54 850.21,1072.76 850.06,1071.95 850.3,1069.64 850.25,1068.56 850.17,1067.79 850.74,1066.23 850.28,1064.44 850.42,1063.37 850.91,1062.05 850.98,1060.02 850.59,1058.63 851.17,1058.02 851.05,1056.09 851.33,1054.65 851.09,1053.23 851.57,1052.34 851.52,1051.45 851.49,1050.36 851.68,1049.05 851.88,1046.98 851.84,1045.9 851.66,1044.82 852.15,1043.36 851.9,1042.27 852.32,1041.5 852.23,1040.41 852.36,1039.14 852.27,1037.98 852.57,1036.5 852.46,1034.8 852.84,1032.82 852.77,1031.09 852.7,1028.88 852.97,1027.15 852.94,1025.99 853.47,1024.14 853.29,1022.52 853.79,1020.72 853.56,1019 853.8,1017.08 853.78,1016.11 854.21,1014.67 854.07,1012.56 854.41,1011 854.42,1010.2 854.67,1009.4 854.87,1008.05 855.02,1007.25 855.04,1005.63 855.56,1005.71 855.2,1004.47 855.41,1004.6 855.52,1003.71 855.9,1003.61 855.93,1004.08 856.07,1004.01 856.28,1004.75 856.5,1005.59 856.7,1006.34 856.68,1007.84 857.3,1008.61 857.04,1009.6 857.77,1011.18 857.55,1013 858.15,1013.84 858.12,1015.89 858.08,1017.31 858.58,1019.37 858.79,1021.06 858.84,1022.26 858.83,1024.79 859.55,1026.61 859.28,1028.21 859.54,1029.48 859.77,1031.64 860.35,1033.19 860.3,1034.8 860.44,1035.86 860.9,1036.83 860.96,1038.13 861.44,1039.74 861.28,1041.44 861.81,1043.46 861.97,1045.39 862.33,1046.48 862.43,1048.19 862.49,1049.91 862.62,1051.83 863.35,1053.82 863.11,1055.01 863.66,1056.87 863.57,1057.9 864.15,1059.76 864.12,1061.17 864.48,1062.08 864.93,1062.77 865.46,1063.6 865.44,1064.32 865.99,1065.14 866.26,1064.84 866.71,1064.77 867.37,1064.54 867.79,1062.89 868.23,1061.93 868.59,1060.86 869.14,1059.21 869.86,1057.24 870.53,1055.78 871.21,1054.3 871.58,1051.86 871.76,1051.09 872.17,1049.91 872.05,1048.24 872.35,1047.4 872.47,1045.53 872.78,1043.98 872.79,1042.76 873.09,1041.17 873.39,1039.36 873.34,1037.25 873.77,1036.45 873.78,1034.06 873.97,1032.68 874.25,1030.96 874.13,1028.56 874.42,1027.08 874.7,1025.42 875.22,1023.86 875.16,1022.82 875.37,1020.98 875.67,1019.32 875.38,1018.65 875.87,1017.09 875.78,1016.19 876.17,1015.15 876.33,1014.64 876.6,1013.36 877.15,1012.83 877.01,1012.8 877.69,1012.32 877.5,1013.08 877.71,1012.97 878.42,1013.71 878.73,1013.72 879.09,1014.72 879.36,1015.74 879.72,1016.78 879.66,1017.6 880.13,1018.76 880.27,1020.94 880.85,1022.38 880.93,1023.51 881.47,1024.72 881.69,1027.17 882.31,1028.44 882.59,1030.5 883.14,1031.96 882.95,1033.97 883.37,1035.08 883.7,1037.07 884.31,1038.71 884.59,1040.06 885.08,1042.07 885.18,1043.92 885.9,1045.5 886.26,1046.05 886.23,1047.75 886.49,1049.35 887.23,1050.06 887.33,1052.2 887.91,1053 887.78,1054.32 888.38,1055.96 888.52,1056.76 889.35,1057.81 889.47,1059.2 889.9,1060.83 890.36,1061.93 890.67,1063.23 890.52,1064.39 890.88,1065.98 891.76,1067.22 891.95,1068.18 892.17,1069.95 892.26,1071.25 892.81,1072.24 893.37,1073.85 893.28,1074.49 893.56,1075.87 894.24,1077.79 894.76,1078.88 894.57,1079.99 895.33,1081.14 895.84,1082.83 895.68,1084.09 896.05,1086.18 896.7,1088.16 896.69,1089.06 897.62,1091.04 897.54,1093.35 897.8,1094.92 898.61,1096.25 898.79,1097.16 899.13,1099.11 899.58,1100.21 899.54,1100.94 900.21,1101.63 900.24,1102.43 901.01,1103.11 901.11,1103.66 901.55,1102.79 901.85,1102.97 902.03,1101.86 902.46,1101.49 902.8,1099.55 903.07,1098.38 903.31,1097.3 903.34,1095.49 903.82,1093.86 904.42,1091.92 904.62,1089.88 904.7,1088.2 905.17,1086 905.62,1084.37 905.69,1082.26 906.3,1081.1 906.67,1078.73 906.48,1077.5 906.77,1076.25 907.5,1074.41 907.69,1073.62 907.86,1072.37 908.57,1071.99 908.8,1070.97 908.93,1070.96 909.2,1071.45 909.91,1072.07 910.29,1072.63 910.64,1072.98 910.92,1073.86 911.72,1074.97 911.57,1076.07 912.1,1077.69 912.7,1079 913.37,1080.83 913.28,1081.71 914.07,1083.93 914.47,1085.52 914.53,1087.17 915.44,1089 915.4,1090.18 916.35,1092.22 916.34,1093.93 917.24,1095.55 917.51,1096.86 917.61,1097.76 918.49,1098.74 918.7,1100.71 919.67,1101.39 919.95,1103.52 921.15,1105.17 921.78,1106.21 922.27,1107.75 922.78,1109.06 923.5,1110.14 924.22,1111.71 924.94,1112.55 924.97,1113.08 925.73,1113.24 925.96,1112.26 926.32,1112.09 926.71,1112.06 926.87,1111.5 926.71,1111.04 927.1,1110.1 927,1109.21 927.4,1108.08 927.19,1107.29 927.61,1105.74 927.48,1105.44 927.57,1103.95 927.68,1101.9 927.86,1101.26 928.1,1098.96 928.12,1097.99 928.04,1096.45 928.11,1094.34 928.26,1092.62 928.07,1091.65 928.27,1089.59 928.39,1087.83 928.23,1086.14 928.06,1084.18 928.11,1083.06 928.68,1080.96 928.27,1079.41 928.4,1077.63 928.68,1075.72 928.8,1073.7 928.93,1072.32 928.96,1071.01 928.75,1069.01 928.88,1067.57 929.26,1067.05 929.1,1065.76 929.4,1064.12 929.15,1063.55 929.32,1062.15 929.23,1060.65 929.54,1059.52 929.77,1058.82 929.85,1056.91 929.65,1055.45 929.62,1054.11 929.77,1053.67 929.99,1051.74 929.77,1050.96 929.7,1049.51 930.25,1047.36 930.37,1046.56 930.1,1044.95 930.3,1043.65 930.52,1042.61 930.26,1040.31 930.6,1039.53 930.59,1037.53 930.31,1036.92 930.55,1035.06 930.98,1033.34 930.84,1031.77 930.86,1031 930.68,1029.58 931.24,1028.2 931.2,1026.87 931.22,1025.03 931.35,1023.85 931.3,1022.27 931.09,1020.5 931.24,1019.59 931.58,1017.6 931.78,1015.94 931.28,1014.8 931.36,1014.01 931.59,1012.05 931.96,1010.81 931.89,1009.33 931.85,1008.48 931.81,1006.69 931.99,1004.95 931.86,1003.98 932.32,1002.58 931.94,1001.78 932.05,1000.43 932.06,998.92 932.19,997.27 932.42,996.52 932.49,994.95 932.54,993.85 932.53,993.09 932.55,991.1 932.83,990.17 933,988.73 933.04,987.95 933.26,986.8 933.03,985.76 933.15,984.69 933.3,983.81 933.43,982.01 933.38,980.55 933.63,978.89 933.54,976.54 933.43,974.8 933.56,973.04 933.92,971.4 934.14,969.52 933.82,967.72 933.84,966.5 934.17,964.41 934.4,963.22 934.25,961.61 934.48,959.98 934.25,958.53 934.87,957.26 934.8,955.8 935.01,955.53 934.91,954.11 935.15,953.2 935.13,952.44 935.6,952.35 935.96,952.49 936.12,952.34 936.55,951.66 936.62,953.39 937.59,954.21 938,955.51 938.44,956.86 939.08,958.67 939.37,960.87 939.99,961.87 940.16,962.63 940.49,964 940.8,964.99 941.35,965.87 941.41,967.28 942.02,968.89 942.18,969.56 942.59,971.5 942.9,972.67 943.13,973.47 943.88,975.23 943.87,976.55 944.72,977.81 944.84,979.15 945.16,980.07 945.73,981.88" fill="none" stroke="#0000ff" stroke-width="2.0" stroke-linejoin="round"/>
<polyline points="108.6,1416.8 110.1,1416.8 111.6,1416.8 113.11,1416.8 114.61,1416.8 116.11,1416.8 117.61,1416.8 119.11,1416.8 120.62,1416.8 122.12,1416.8 123.62,1416.8 125.12,1416.8 126.62,1416.8 128.13,1416.8 129.63,1416.8 131.13,1416.8 132.63,1416.79 134.13,1416.79 135.64,1416.79 137.14,1416.79 138.64,1416.79 140.14,1416.79 141.64,1416.79 143.15,1416.79 144.65,1416.79 146.15,1416.79 147.65,1416.79 149.15,1416.79 150.66,1416.79 152.16,1416.79 153.66,1416.79 155.16,1416.79 156.66,1416.79 158.17,1416.79 159.67,1416.79 161.17,1416.79 162.67,1416.79 164.17,1416.79 165.68,1416.79 167.18,1416.79 168.68,1416.79 170.18,1416.79 171.68,1416.79 173.19,1416.79 174.69,1416.79 176.19,1416.79 177.69,1416.78 179.19,1416.78 180.7,1416.78 182.2,1416.78 183.7,1416.78 185.2,1416.78 186.7,1416.78 188.21,1416.78 189.71,1416.78 191.21,1416.78 192.71,1416.78 194.21,1416.78 195.72,1416.78 197.22,1416.78 198.72,1416.78 200.22,1416.78 201.72,1416.78 203.23,1416.78 204.73,1416.78 206.23,1416.78 207.73,1416.78 209.23,1416.78 210.74,1416.78 212.24,1416.78 213.74,1416.78 215.24,1416.78 216.74,1416.78 218.25,1416.78 219.75,1416.78 221.25,1416.78 222.75,1416.77 224.25,1416.77 225.76,1416.77 227.26,1416.77 228.76,1416.77 230.26,1416.77 231.76,1416.77 233.27,1416.77 234.77,1416.77 236.27,1416.77 237.77,1416.77 239.27,1416.77 240.78,1416.77 242.28,1416.77 243.78,1416.77 245.28,1416.77 246.78,1416.77 248.29,1416.77 249.79,1416.77 251.29,1416.77 252.79,1416.77 254.29,1416.77 255.8,1416.77 257.3,1416.77 258.8,1416.77 260.3,1416.77 261.8,1416.77 263.31,1416.77 264.81,1416.77 266.31,1416.76 267.81,1416.76 269.31,1416.76 270.82,1416.76 272.32,1416.76 273.82,1416.76 275.32,1416.76 276.82,1416.76 278.33,1416.76 279.83,1416.76 281.33,1416.76 282.83,1416.76 284.33,1416.76 285.84,1416.76 287.34,1416.76 288.84,1416.76 290.34,1416.76 291.84,1416.76 293.35,1416.76 294.85,1416.76 296.35,1416.76 297.85,1416.76 299.35,1416.76 300.86,1416.76 302.36,1416.76 303.86,1416.76 305.36,1416.76 306.86,1416.76 308.37,1416.76 309.87,1416.76 311.37,1416.76 312.87,1416.75 314.37,1416.75 315.88,1416.75 317.38,1416.75 318.88,1416.75 320.38,1416.75 321.88,1416.75 323.39,1416.75 324.89,1416.75 326.39,1416.75 327.89,1416.75 329.39,1416.75 330.9,1416.75 332.4,1416.75 333.9,1416.75 335.4,1416.75 336.9,1416.75 338.41,1416.75 339.91,1416.75 341.41,1416.75 342.91,1416.75 344.41,1416.75 345.92,1416.75 347.42,1416.75 348.92,1416.75 350.42,1416.75 351.92,1416.75 353.43,1416.75 354.93,1416.75 356.43,1416.75 357.93,1416.74 359.43,1416.74 360.94,1416.74 362.44,1416.74 363.94,1416.74 365.44,1416.74 366.94,1416.74 368.45,1416.74 369.95,1416.74 371.45,1416.74 372.95,1416.74 374.45,1416.74 375.96,1416.74 377.46,1416.74 378.96,1416.74 380.46,1416.74 381.96,1416.74 383.47,1416.74 384.97,1416.74 386.47,1416.74 387.97,1416.74 389.47,1416.74 390.98,1416.74 392.48,1416.74 393.98,1416.74 395.48,1416.74 396.98,1416.74 398.49,1416.74 399.99,1416.74 401.49,1416.74 402.99,1416.73 404.49,1416.73 406,1416.73 407.5,1416.73 409,1416.73 410.5,1416.73 412,1416.73 413.51,1416.73 415.01,1416.73 416.51,1416.73 418.01,1416.73 419.51,1416.73 421.02,1416.73 422.52,1416.73 424.02,1416.73 425.52,1416.73 427.02,1416.73 428.53,1416.73 430.03,1416.73 431.53,1416.73 433.03,1416.73 434.53,1416.73 436.04,1416.73 437.54,1416.73 439.04,1416.73 440.54,1416.73 442.04,1416.73 443.55,1416.73 445.05,1416.73 446.55,1416.73 448.05,1416.72 449.55,1416.72 451.06,1416.72 452.56,1416.72 454.06,1416.72 455.56,1416.72 457.06,1416.72 458.57,1416.72 460.07,1416.72 461.57,1416.72 463.07,1416.72 464.57,1416.72 466.08,1416.72 467.58,1416.72 469.08,1416.72 470.58,1416.72 472.08,1416.72 473.59,1416.72 475.09,1416.72 476.59,1416.72 478.09,1416.72 479.59,1416.72 481.1,1416.72 482.6,1416.72 484.1,1416.72 485.6,1416.72 487.1,1416.72 488.61,1416.72 490.11,1416.72 491.61,1416.72 493.11,1416.71 494.61,1416.71 496.12,1416.71 497.62,1416.71 499.12,1416.71 500.62,1416.71 502.12,1416.71 503.63,1416.71 505.13,1416.71 506.63,1416.71 508.13,1416.71 509.63,1416.71 511.14,1416.71 512.64,1416.71 514.14,1416.71 515.64,1416.71 517.14,1416.71 518.65,1416.71 520.15,1416.71 521.65,1416.71 523.15,1416.71 524.65,1416.71 526.16,1416.71 527.66,1416.71 529.16,1416.71 530.66,1416.71 532.16,1416.71 533.67,1416.71 535.17,1416.71 536.67,1416.7 538.17,1416.7 539.67,1416.7 541.18,1416.7 542.68,1416.7 544.18,1416.7 545.68,1416.7 547.18,1416.7 548.69,1416.7 550.19,1416.7 551.69,1416.7 553.19,1416.7 554.69,1416.72 556.19,1416.76 557.69,1416.76 559.2,1416.7 560.79,1416.53 562.39,1416.29 564,1416.01 565.6,1415.75 567.08,1415.34 568.54,1415.73 570.48,1415 572.06,1414.85 573.05,1414.11 574.62,1413.91 575.87,1413.42 576.95,1413.18 578.68,1413.19 580.24,1412.85 581.32,1411.9 582.85,1411.99 584.26,1411.22 585.68,1411.25 586.75,1410.84 588.07,1410.66 589.54,1410.43 590.92,1410.07 592.6,1409.77 594.24,1409.11 595.56,1408.92 597.11,1408.98 598.43,1408.39 599.47,1408.17 601.21,1407.44 602.11,1406.4 603.5,1405.43 604.81,1404.18 605.94,1403.77 607.42,1403.16 608.96,1402.52 609.97,1402.82 611.5,1403.04 612.93,1402.83 614.35,1401.67 615.78,1401.39 616.66,1400.29 617.74,1399.42 618.71,1397.83 619.71,1396.57 620.92,1395.33 622.1,1395.39 623.39,1394.71 624.49,1394.24 625.72,1394.72 627.55,1395.18 628.6,1395.24 630.36,1395.07 631.79,1394.72 632.83,1394.77 634.38,1394.39 635.5,1394.39 636.9,1393.56 638.15,1393.15 639.74,1392.58 641.02,1392.23 641.94,1392.22 643.38,1391.42 645.04,1390.71 645.83,1390.31 647.12,1390.47 648.53,1389.29 649.56,1389.2 650.62,1388.43 652.15,1387.71 652.82,1386.82 653.73,1385.66 655,1384.25 655.98,1383.62 657.23,1383.4 658.64,1383.37 659.65,1383.37 661.4,1384.52 662.55,1384.79 664.15,1385.28 665.9,1385.45 667.1,1385.44 668.13,1384.98 669.47,1384.39 670.82,1383.97 671.84,1383.39 672.98,1382.05 674.39,1381.64 674.78,1380.78 675.19,1379.83 675.81,1377.93 676.6,1376.88 677.05,1375.5 677.13,1374.51 677.51,1373.27 678.04,1372.13 678.5,1370.96 679.08,1368.87 679.51,1368.17 679.73,1366.53 679.95,1365.11 680.45,1363.83 681.21,1362.62 681.82,1361.43 682.39,1359.53 682.93,1358.44 683.36,1356.75 683.95,1355.54 684.53,1354.44 684.82,1353.09 685.77,1351.93 686.37,1351.73 687.12,1351.15 688.2,1351.33 689.68,1351.65 690.92,1352.79 692.27,1353.73 693.24,1354.26 695.25,1354.31 696.71,1354.71 697.19,1355.4 697.74,1357.05 698.82,1357.62 699.71,1358.8 701.25,1358.93 703.11,1359.19 704.4,1358.91 706.31,1357.52 706.75,1357.39 707.3,1355.86 707.67,1355.06 707.99,1354.35 708.1,1353.33 708.54,1352.1 708.84,1350.32 708.93,1348.96 708.94,1347.32 709.18,1345.55 709.25,1344.6 709.77,1342.97 709.92,1341.34 710.13,1340.08 710.13,1338.55 710.98,1337.01 711.04,1335.45 711.26,1334.58 711.48,1332.95 712.24,1331.36 712.29,1329.76 712.71,1327.69 713.39,1326.18 713.61,1324.26 713.63,1322.98 714.07,1322.18 714.55,1321.16 715.19,1319.52 715.63,1318.88 715.97,1318.16 716.58,1318.56 717.3,1318.76 718.08,1319.27 719,1321.23 720.08,1322.12 720.86,1323.58 721.79,1324.25 723.1,1325.39 724.42,1326.19 725.43,1327.07 726.26,1326.48 727.71,1325.71 728.47,1324.84 729.47,1323.41 730.5,1321.43 731.06,1320.61 731.9,1319.38 732.03,1318.21 732.81,1316.2 733.36,1314.19 733.68,1313.12 734.24,1311.36 734.31,1309.6 734.88,1308.25 735.43,1306.81 735.99,1305.86 736.68,1304.78 736.88,1304.22 738.27,1304.71 740.23,1304.76 740.94,1306.34 742.21,1307.66 743.34,1308.31 744.07,1309.17 745.53,1309.28 746.76,1309.73 748.43,1309.37 749.58,1309.52 750.98,1309.56 752.32,1310.77 754.1,1310.99 755.42,1312.72 756.67,1313.16 758.02,1313.62 758.76,1314.61 760.11,1314.24 761.57,1312.73 762.27,1312.19 763.21,1310.85 763.88,1309.64 764.11,1308.69 764.61,1308.02 764.75,1306.86 764.6,1305.86 765.15,1304.21 765.19,1302.8 765.39,1301.4 765.24,1299.91 765.29,1297.94 765.55,1297.19 765.75,1295.06 765.74,1293.87 765.9,1292.25 766.01,1290.97 766.33,1289.62 766.4,1288.54 766.15,1286.9 766.37,1285.7 766.57,1284.33 766.95,1283.39 766.72,1282.01 767.12,1280.15 767.06,1279.5 767.02,1278.04 767.35,1276.15 767.1,1275.2 767.34,1273.4 767.47,1272.36 767.8,1271.16 767.84,1269.14 767.73,1267.65 767.75,1266.63 767.84,1265.45 767.93,1264.34 768.2,1262.74 768.47,1261.61 768.24,1260.9 768.79,1259.43 768.67,1257.28 769.01,1255.54 769.26,1254.33 769.15,1252.13 769.12,1250.84 769.62,1249.03 769.55,1247.49 769.92,1246.74 770.03,1245.52 769.93,1244.01 770.13,1243.44 770.49,1242.49 770.92,1242.78 772.74,1242.32 774.45,1243.39 774.67,1244.38 775.7,1245.18 776.36,1246.85 777.03,1248.08 777.27,1249.37 778.26,1251.27 778.88,1252.49 779.17,1253.9 779.99,1255.58 780.18,1257.1 780.56,1258.28 781.11,1259.91 781.85,1261.15 782.24,1261.89 783.18,1263.62 783.66,1265.01 785.04,1265.87 785.78,1267.33 786.94,1268.33 787.61,1269.14 788.39,1268.78 789.54,1268.83 790.47,1267.88 791.35,1266.43 792,1266.19 792.18,1265.24 792.31,1263.89 792.92,1262.95 792.98,1261.11 793.52,1260.13 793.57,1258.44 793.49,1257.13 793.85,1255.87 794.18,1254.18 794.32,1252.6 794.29,1251.25 794.74,1249.36 794.74,1247.41 795.26,1246.55 795.49,1244.78 795.68,1243.8 796.05,1242.43 796.05,1240.77 796.31,1239.07 796.89,1237 797.13,1235.98 797.68,1233.92 797.79,1233.09 797.89,1231.76 798.65,1229.94 798.58,1228.54 798.9,1227.69 799.49,1227.2 799.73,1226.41 800.61,1224.31 801.33,1223.33 801.95,1223.59 802.97,1224.81 803.28,1226.82 804.01,1228.08 804.16,1229.73 804.67,1230.43 805.06,1232.02 805.7,1233.15 805.61,1234.66 806.18,1236.96 806.68,1237.7 806.95,1239.37 807.62,1241.07 807.87,1241.94 808.27,1243.32 808.95,1244.85 809.55,1246.25 810.83,1247.66 811.4,1249.19 812.41,1250.03 813.04,1250.39 813.9,1250.1 814.84,1249 815.96,1248.09 817.22,1246.58 818.1,1245.43 818.71,1244.89 818.91,1243.22 819.38,1241.18 819.62,1239.19 819.97,1238.35 820.55,1236.88 821.82,1236.17 823.96,1236.07 825.09,1236.34 826.92,1236.86 828.37,1238.51 829.27,1238.79 830.19,1239.78 831.14,1240.53 832.38,1241.75 833.87,1242.99 834.99,1244.09 836.09,1245.05 837.01,1244.95 838.18,1244.94 839.59,1244.61 840.73,1243.57 842.01,1242.33 842.89,1241.87 843.8,1240.18 844.35,1239.45 844.63,1237.71 844.91,1236.42 845.49,1234.84 845.98,1233.62 846.08,1232.38 845.96,1231.06 846.09,1229.52 846.72,1228.37 846.38,1227.04 846.44,1225.8 846.63,1224.03 846.95,1223.24 846.7,1221.63 847.11,1220.02 847.13,1218.21 847.22,1217.32 847.35,1216.44 847.48,1215.05 847.87,1213.78 847.82,1212.3 848.14,1210.76 847.94,1209.45 848.21,1208.61 848.59,1207.77 848.43,1206.06 848.39,1204.9 848.75,1202.91 849.07,1201.25 848.83,1199.98 849.34,1198.72 849.02,1198.31 849.12,1197.39 849.02,1195.69 849.25,1195.12 849.2,1193.81 849.7,1192.9 849.72,1190.85 849.61,1189.75 849.48,1188.5 849.88,1187.5 849.62,1185.92 849.65,1185.15 850.09,1183.37 850.27,1182.44 849.93,1180.39 849.98,1179.31 850.27,1177.79 850.43,1176.36 850.25,1175.04 850.66,1173.03 850.48,1171.65 850.69,1170.45 850.81,1169.2 850.95,1167.66 850.82,1166.56 851.01,1164.53 850.7,1163.61 850.76,1162.17 851.3,1160.51 851.39,1159.04 851.36,1157.63 851.15,1155.78 851.52,1154.75 851.27,1153.5 851.43,1151.9 851.84,1150.92 851.86,1149.82 851.78,1148.24 851.87,1146.94 852.16,1146.22 851.99,1144.91 852.05,1143.16 852.44,1142.31 852.38,1140.9 852.73,1138.64 852.89,1137.42 852.69,1135.76 852.99,1133.46 853.1,1131.95 853.33,1130.01 853.22,1128.61 853.73,1127 853.71,1125.52 853.66,1123.3 853.82,1122.19 854.25,1120.49 854.42,1118.97 854.32,1118.63 854.96,1116.73 855.01,1116.17 855.13,1115.66 855.38,1115.1 855.59,1114.59 855.49,1114.2 855.8,1114.18 856.32,1114.38 856.57,1114.33 856.73,1115.43 856.78,1116.21 857.35,1117.58 857.54,1118.87 858.06,1120.2 858.35,1122.32 858.5,1123.7 858.89,1125.75 859.1,1127.04 859.48,1129.12 859.68,1131.11 860.18,1132.5 860.45,1133.35 860.74,1135.16 860.93,1137.05 861.54,1138.23 861.57,1139.77 862.07,1141.9 862.31,1143.5 862.7,1145.26 863.26,1146.78 863.64,1148.28 863.63,1149.49 864.22,1150.5 864.84,1150.73 865.19,1150.86 865.58,1150.46 866.2,1150.23 866.54,1149.29 867.04,1147.77 867.77,1146.65 867.98,1144.7 869,1143.01 869.19,1141.57 869.48,1141.03 870.05,1139.3 869.88,1138.23 870.23,1137.13 870.58,1136.37 870.48,1134.21 870.72,1133.01 870.95,1131.59 871.29,1130.27 871.82,1128.86 871.74,1126.89 871.79,1125.16 872.4,1123.68 872.21,1121.3 872.83,1120.03 872.96,1117.73 873.1,1115.96 873.37,1114.96 873.37,1112.57 873.81,1111.84 873.97,1109.69 874.04,1108.57 874.62,1106.71 874.45,1105.9 874.81,1104.11 875,1103.16 875.62,1101.84 875.81,1100.79 875.85,1100.28 876.43,1099.5 876.58,1098.97 876.99,1098.63 877.1,1097.83 877.13,1097.82 877.84,1097.45 878.73,1098.14 879.27,1098.57 879.55,1100.19 880.32,1101.23 880.84,1102.02 881.66,1104.07 882.1,1105.44 882.9,1106.99 883.35,1108.62 884.11,1110.47 884.5,1112.1 885.12,1113.52 885.69,1115.11 886.54,1116.25 886.82,1117.15 887.41,1118.65 887.73,1119.85 888.74,1120.66 889.24,1122.35 889.81,1123.71 890.17,1124.96 890.52,1125.61 891.27,1127.52 891.72,1128.16 892.14,1129.66 892.63,1130.89 893.23,1132.63 893.9,1134.07 894.65,1134.89 895.18,1136.68 895.7,1138.46 896.39,1139.82 896.96,1141.41 897.62,1142.93 898.14,1144.64 898.51,1144.8 899.4,1146.09 899.79,1146.89 900.41,1146.7 901.33,1146.28 901.99,1145.48 902.56,1143.39 903.33,1141.36 903.62,1141.01 903.7,1140.17 904.35,1138.67 904.53,1137.18 904.84,1136.33 904.88,1134.52 905.03,1132.73 905.61,1131.45 905.63,1129.75 905.72,1127.44 906.05,1126.19 906.19,1124.38 906.5,1122.35 906.95,1120.68 907.19,1119.3 907.23,1116.98 907.72,1115.83 907.82,1114.41 908.05,1113.16 908.01,1111.88 908.59,1110.16 909.01,1109.52 909.11,1107.8 909.4,1107.41 909.65,1107.22 909.7,1106.86 910.1,1106.18 910.51,1106.29 911.2,1107.47 912.14,1108.36 912.39,1110.03 913.19,1111.63 913.84,1113.05 914.16,1114.9 915.22,1115.67 915.85,1117.37 916.93,1118.67 918.36,1118.98 919.3,1119.87 920.18,1121.17 921.61,1122.92 922.56,1124.14 923.45,1125.39 924.4,1126.34 925.04,1126.9 925.43,1126.22 926,1126.11 926.13,1124.75 926.43,1123.43 926.63,1122.61 926.74,1120.81 926.97,1119.24 927.4,1117.04 927.42,1115.25 927.68,1113.78 927.65,1111.46 927.78,1110.76 928.18,1110.43 928.2,1109.15 928.09,1108.09 928.17,1107.85 928.04,1106.41 928.17,1105.85 928.3,1104.53 928.23,1103.69 928.54,1102.74 928.72,1101.61 928.53,1100.06 928.77,1098.76 929.01,1098.22 928.83,1096.72 928.66,1095.71 929.09,1094.1 928.78,1093.38 929.03,1092.22 929.05,1091.12 929.35,1089.24 929.21,1088.17 929.21,1087.06 929.4,1085.72 929.2,1084.09 929.4,1082.79 929.16,1081.62 929.43,1079.64 929.69,1078.59 929.67,1077.34 929.65,1076.08 929.38,1074.12 929.48,1072.95 929.55,1070.95 929.54,1069.62 929.8,1068.41 929.8,1066.54 929.87,1065.28 929.67,1063.62 929.74,1062.45 929.78,1061.02 929.82,1059.77 930.24,1057.91 929.85,1057 929.89,1055.22 930.29,1053.58 930.4,1051.8 930.35,1050.99 930.48,1049.46 930.28,1047.68 930.54,1046.09 930.26,1044.31 930.27,1042.94 930.71,1041.64 930.44,1040.79 930.66,1038.87 930.39,1037.38 930.54,1036.49 930.65,1035.1 930.62,1032.87 931.01,1031.51 931,1030.61 930.78,1029.47 930.91,1028.26 931.03,1026.9 931.29,1025.07 931.21,1024.04 931.24,1022.02 931.3,1021.26 931.08,1019.21 931.06,1018.13 931.13,1016.9 931.34,1015.49 931.56,1013.42 931.3,1011.83 931.57,1010.61 931.77,1008.5 931.34,1007.17 931.74,1005.49 931.84,1003.96 931.78,1002.28 931.55,1000.69 931.88,998.22 931.65,996.99 931.77,995.53 931.79,993.4 931.95,992.08 931.88,990.31 932.15,988.29 932.31,986.84 932.24,984.81 931.9,982.8 932.27,981 932.3,979.51 932.21,978.25 932.49,976.51 932.32,974.66 932.66,973.36 932.5,970.98 932.7,969.34 932.33,968.31 932.42,966.83 932.73,964.77 932.9,964.01 932.82,962.51 932.95,960.6 933.02,959.6 933,957.45 932.89,956.66 932.94,954.86 933.05,953.57 933.13,952.3 933.33,951.21 933.51,949.97 933.41,949.35 933.25,948.28 933.51,947.27 933.39,946.19 933.82,945.42 933.58,944.32 934.01,943.28 933.88,942.96 933.94,941.83 933.85,941.97 934.14,940.93 934.23,940.23 934.13,940.52 934.6,939.6 934.47,939.22 934.57,939.41 934.92,939.26 935.09,939.65 935.34,939.27 935.49,941.15 935.92,943.06 936.42,943.98 937.67,945.52 938.65,946.35 939.91,946.42 941.54,947.12 942.95,947.88 943.15,948.52 943.94,949.32 943.91,950.95 944.46,951.77 944.43,953.6 944.46,955.43 944.34,956.69 944.6,958.27 945.02,959.32" fill="none" stroke="#ff0000" stroke-width="1.9" stroke-linejoin="round"/>
<line x1="1148.5" y1="1419.7" x2="1148.5" y2="1410.7" stroke="#262626" stroke-width="1.5"/>
<line x1="1148.5" y1="812.9" x2="1148.5" y2="821.9" stroke="#262626" stroke-width="1.5"/>
<text transform="translate(1146.5 1452.9) scale(1.02 0.985)" font-size="26" text-anchor="middle" font-family="'Liberation Sans', Arial, Helvetica, sans-serif">0</text>
<line x1="1238.96" y1="1419.7" x2="1238.96" y2="1410.7" stroke="#262626" stroke-width="1.5"/>
<line x1="1238.96" y1="812.9" x2="1238.96" y2="821.9" stroke="#262626" stroke-width="1.5"/>
<text transform="translate(1236.51 1452.9) scale(1.02 0.985)" font-size="26" text-anchor="middle" font-family="'Liberation Sans', Arial, Helvetica, sans-serif">20</text>
<line x1="1329.41" y1="1419.7" x2="1329.41" y2="1410.7" stroke="#262626" stroke-width="1.5"/>
<line x1="1329.41" y1="812.9" x2="1329.41" y2="821.9" stroke="#262626" stroke-width="1.5"/>
<text transform="translate(1326.96 1452.9) scale(1.02 0.985)" font-size="26" text-anchor="middle" font-family="'Liberation Sans', Arial, Helvetica, sans-serif">40</text>
<line x1="1419.87" y1="1419.7" x2="1419.87" y2="1410.7" stroke="#262626" stroke-width="1.5"/>
<line x1="1419.87" y1="812.9" x2="1419.87" y2="821.9" stroke="#262626" stroke-width="1.5"/>
<text transform="translate(1417.42 1452.9) scale(1.02 0.985)" font-size="26" text-anchor="middle" font-family="'Liberation Sans', Arial, Helvetica, sans-serif">60</text>
<line x1="1510.32" y1="1419.7" x2="1510.32" y2="1410.7" stroke="#262626" stroke-width="1.5"/>
<line x1="1510.32" y1="812.9" x2="1510.32" y2="821.9" stroke="#262626" stroke-width="1.5"/>
<text transform="translate(1507.87 1452.9) scale(1.02 0.985)" font-size="26" text-anchor="middle" font-family="'Liberation Sans', Arial, Helvetica, sans-serif">80</text>
<line x1="1600.78" y1="1419.7" x2="1600.78" y2="1410.7" stroke="#262626" stroke-width="1.5"/>
<line x1="1600.78" y1="812.9" x2="1600.78" y2="821.9" stroke="#262626" stroke-width="1.5"/>
<text transform="translate(1596.93 1452.9) scale(1.02 0.985)" font-size="26" text-anchor="middle" font-family="'Liberation Sans', Arial, Helvetica, sans-serif">100</text>
<line x1="1691.23" y1="1419.7" x2="1691.23" y2="1410.7" stroke="#262626" stroke-width="1.5"/>
<line x1="1691.23" y1="812.9" x2="1691.23" y2="821.9" stroke="#262626" stroke-width="1.5"/>
<text transform="translate(1687.38 1452.9) scale(1.02 0.985)" font-size="26" text-anchor="middle" font-family="'Liberation Sans', Arial, Helvetica, sans-serif">120</text>
<line x1="1781.69" y1="1419.7" x2="1781.69" y2="1410.7" stroke="#262626" stroke-width="1.5"/>
<line x1="1781.69" y1="812.9" x2="1781.69" y2="821.9" stroke="#262626" stroke-width="1.5"/>
<text transform="translate(1777.84 1452.9) scale(1.02 0.985)" font-size="26" text-anchor="middle" font-family="'Liberation Sans', Arial, Helvetica, sans-serif">140</text>
<line x1="1872.14" y1="1419.7" x2="1872.14" y2="1410.7" stroke="#262626" stroke-width="1.5"/>
<line x1="1872.14" y1="812.9" x2="1872.14" y2="821.9" stroke="#262626" stroke-width="1.5"/>
<text transform="translate(1868.29 1452.9) scale(1.02 0.985)" font-size="26" text-anchor="middle" font-family="'Liberation Sans', Arial, Helvetica, sans-serif">160</text>
<line x1="1962.6" y1="1419.7" x2="1962.6" y2="1410.7" stroke="#262626" stroke-width="1.5"/>
<line x1="1962.6" y1="812.9" x2="1962.6" y2="821.9" stroke="#262626" stroke-width="1.5"/>
<text transform="translate(1958.75 1452.9) scale(1.02 0.985)" font-size="26" text-anchor="middle" font-family="'Liberation Sans', Arial, Helvetica, sans-serif">180</text>
<line x1="1148.5" y1="1419.7" x2="1157.5" y2="1419.7" stroke="#262626" stroke-width="1.5"/>
<line x1="2007.9" y1="1419.7" x2="1998.9" y2="1419.7" stroke="#262626" stroke-width="1.5"/>
<text transform="translate(1134.55 1427.6) scale(1.02 0.985)" font-size="26" text-anchor="end" font-family="'Liberation Sans', Arial, Helvetica, sans-serif">0</text>
<line x1="1148.5" y1="1359.02" x2="1157.5" y2="1359.02" stroke="#262626" stroke-width="1.5"/>
<line x1="2007.9" y1="1359.02" x2="1998.9" y2="1359.02" stroke="#262626" stroke-width="1.5"/>
<text transform="translate(1131.25 1366.92) scale(1.02 0.985)" font-size="26" text-anchor="end" font-family="'Liberation Sans', Arial, Helvetica, sans-serif">0.1</text>
<line x1="1148.5" y1="1298.34" x2="1157.5" y2="1298.34" stroke="#262626" stroke-width="1.5"/>
<line x1="2007.9" y1="1298.34" x2="1998.9" y2="1298.34" stroke="#262626" stroke-width="1.5"/>
<text transform="translate(1131.25 1306.24) scale(1.02 0.985)" font-size="26" text-anchor="end" font-family="'Liberation Sans', Arial, Helvetica, sans-serif">0.2</text>
<line x1="1148.5" y1="1237.66" x2="1157.5" y2="1237.66" stroke="#262626" stroke-width="1.5"/>
<line x1="2007.9" y1="1237.66" x2="1998.9" y2="1237.66" stroke="#262626" stroke-width="1.5"/>
<text transform="translate(1131.25 1245.56) scale(1.02 0.985)" font-size="26" text-anchor="end" font-family="'Liberation Sans', Arial, Helvetica, sans-serif">0.3</text>
<line x1="1148.5" y1="1176.98" x2="1157.5" y2="1176.98" stroke="#262626" stroke-width="1.5"/>
<line x1="2007.9" y1="1176.98" x2="1998.9" y2="1176.98" stroke="#262626" stroke-width="1.5"/>
<text transform="translate(1131.25 1184.88) scale(1.02 0.985)" font-size="26" text-anchor="end" font-family="'Liberation Sans', Arial, Helvetica, sans-serif">0.4</text>
<line x1="1148.5" y1="1116.3" x2="1157.5" y2="1116.3" stroke="#262626" stroke-width="1.5"/>
<line x1="2007.9" y1="1116.3" x2="1998.9" y2="1116.3" stroke="#262626" stroke-width="1.5"/>
<text transform="translate(1131.25 1124.2) scale(1.02 0.985)" font-size="26" text-anchor="end" font-family="'Liberation Sans', Arial, Helvetica, sans-serif">0.5</text>
<line x1="1148.5" y1="1055.62" x2="1157.5" y2="1055.62" stroke="#262626" stroke-width="1.5"/>
<line x1="2007.9" y1="1055.62" x2="1998.9" y2="1055.62" stroke="#262626" stroke-width="1.5"/>
<text transform="translate(1131.25 1063.52) scale(1.02 0.985)" font-size="26" text-anchor="end" font-family="'Liberation Sans', Arial, Helvetica, sans-serif">0.6</text>
<line x1="1148.5" y1="994.94" x2="1157.5" y2="994.94" stroke="#262626" stroke-width="1.5"/>
<line x1="2007.9" y1="994.94" x2="1998.9" y2="994.94" stroke="#262626" stroke-width="1.5"/>
<text transform="translate(1131.25 1002.84) scale(1.02 0.985)" font-size="26" text-anchor="end" font-family="'Liberation Sans', Arial, Helvetica, sans-serif">0.7</text>
<line x1="1148.5" y1="934.26" x2="1157.5" y2="934.26" stroke="#262626" stroke-width="1.5"/>
<line x1="2007.9" y1="934.26" x2="1998.9" y2="934.26" stroke="#262626" stroke-width="1.5"/>
<text transform="translate(1131.25 942.16) scale(1.02 0.985)" font-size="26" text-anchor="end" font-family="'Liberation Sans', Arial, Helvetica, sans-serif">0.8</text>
<line x1="1148.5" y1="873.58" x2="1157.5" y2="873.58" stroke="#262626" stroke-width="1.5"/>
<line x1="2007.9" y1="873.58" x2="1998.9" y2="873.58" stroke="#262626" stroke-width="1.5"/>
<text transform="translate(1131.25 881.48) scale(1.02 0.985)" font-size="26" text-anchor="end" font-family="'Liberation Sans', Arial, Helvetica, sans-serif">0.9</text>
<line x1="1148.5" y1="812.9" x2="1157.5" y2="812.9" stroke="#262626" stroke-width="1.5"/>
<line x1="2007.9" y1="812.9" x2="1998.9" y2="812.9" stroke="#262626" stroke-width="1.5"/>
<text transform="translate(1134.55 820.8) scale(1.02 0.985)" font-size="26" text-anchor="end" font-family="'Liberation Sans', Arial, Helvetica, sans-serif">1</text>
<rect x="1148.5" y="812.9" width="859.4" height="606.8" fill="none" stroke="#262626" stroke-width="1.5"/>
<polyline points="1148.5,1419.7 1150.02,1419.69 1151.53,1419.69 1153.05,1419.68 1154.56,1419.68 1156.08,1419.67 1157.59,1419.66 1159.11,1419.66 1160.62,1419.65 1162.14,1419.65 1163.65,1419.64 1165.17,1419.64 1166.68,1419.63 1168.2,1419.62 1169.71,1419.62 1171.23,1419.61 1172.74,1419.61 1174.26,1419.6 1175.77,1419.59 1177.29,1419.59 1178.8,1419.58 1180.32,1419.58 1181.83,1419.57 1183.35,1419.56 1184.86,1419.56 1186.38,1419.55 1187.9,1419.55 1189.41,1419.54 1190.93,1419.54 1192.44,1419.53 1193.96,1419.52 1195.47,1419.52 1196.99,1419.51 1198.5,1419.51 1200.02,1419.5 1201.53,1419.49 1203.05,1419.49 1204.56,1419.48 1206.08,1419.48 1207.59,1419.47 1209.11,1419.46 1210.62,1419.46 1212.14,1419.45 1213.65,1419.45 1215.17,1419.44 1216.68,1419.44 1218.2,1419.43 1219.71,1419.42 1221.23,1419.42 1222.74,1419.41 1224.26,1419.41 1225.78,1419.4 1227.29,1419.39 1228.81,1419.39 1230.32,1419.38 1231.84,1419.38 1233.35,1419.37 1234.87,1419.36 1236.38,1419.36 1237.9,1419.35 1239.41,1419.35 1240.93,1419.34 1242.44,1419.34 1243.96,1419.33 1245.47,1419.32 1246.99,1419.32 1248.5,1419.31 1250.02,1419.31 1251.53,1419.3 1253.05,1419.29 1254.56,1419.29 1256.08,1419.28 1257.59,1419.28 1259.11,1419.27 1260.62,1419.26 1262.14,1419.26 1263.65,1419.25 1265.17,1419.25 1266.69,1419.24 1268.2,1419.24 1269.72,1419.23 1271.23,1419.22 1272.75,1419.22 1274.26,1419.21 1275.78,1419.21 1277.29,1419.2 1278.81,1419.19 1280.32,1419.19 1281.84,1419.18 1283.35,1419.18 1284.87,1419.17 1286.38,1419.16 1287.9,1419.16 1289.41,1419.15 1290.93,1419.15 1292.44,1419.14 1293.96,1419.14 1295.47,1419.13 1296.99,1419.12 1298.5,1419.12 1300.02,1419.11 1301.53,1419.11 1303.05,1419.1 1304.57,1419.09 1306.08,1419.09 1307.6,1419.08 1309.11,1419.08 1310.63,1419.07 1312.14,1419.06 1313.66,1419.06 1315.17,1419.05 1316.69,1419.05 1318.2,1419.04 1319.72,1419.04 1321.23,1419.03 1322.75,1419.02 1324.26,1419.02 1325.78,1419.01 1327.29,1419.01 1328.81,1419 1330.32,1418.99 1331.84,1418.99 1333.35,1418.98 1334.87,1418.98 1336.38,1418.97 1337.9,1418.96 1339.41,1418.96 1340.93,1418.95 1342.45,1418.95 1343.96,1418.94 1345.48,1418.94 1346.99,1418.93 1348.51,1418.92 1350.02,1418.92 1351.54,1418.91 1353.05,1418.91 1354.57,1418.9 1356.08,1418.89 1357.6,1418.89 1359.11,1418.88 1360.63,1418.88 1362.14,1418.87 1363.66,1418.86 1365.17,1418.86 1366.69,1418.85 1368.2,1418.85 1369.72,1418.84 1371.23,1418.84 1372.75,1418.83 1374.26,1418.82 1375.78,1418.82 1377.29,1418.81 1378.81,1418.81 1380.32,1418.8 1381.84,1418.79 1383.36,1418.79 1384.87,1418.78 1386.39,1418.78 1387.9,1418.77 1389.42,1418.76 1390.93,1418.76 1392.45,1418.75 1393.96,1418.75 1395.48,1418.74 1396.99,1418.74 1398.51,1418.73 1400.02,1418.72 1401.54,1418.72 1403.05,1418.71 1404.57,1418.71 1406.08,1418.7 1407.6,1418.69 1409.11,1418.69 1410.63,1418.68 1412.14,1418.68 1413.66,1418.67 1415.17,1418.66 1416.69,1418.66 1418.2,1418.65 1419.72,1418.65 1421.24,1418.64 1422.75,1418.64 1424.27,1418.63 1425.78,1418.62 1427.3,1418.62 1428.81,1418.61 1430.33,1418.61 1431.84,1418.6 1433.36,1418.59 1434.87,1418.59 1436.39,1418.58 1437.9,1418.58 1439.42,1418.57 1440.93,1418.56 1442.45,1418.56 1443.96,1418.55 1445.48,1418.55 1446.99,1418.54 1448.51,1418.54 1450.02,1418.53 1451.54,1418.52 1453.05,1418.52 1454.55,1418.51 1456.06,1418.51 1457.6,1418.5 1458.77,1418.68 1460.34,1418.53 1461.71,1418.8 1462.86,1418.61 1464.44,1418.31 1465.82,1418.34 1467.19,1418.52 1468.54,1418.73 1469.8,1418.36 1471.01,1418.51 1472.5,1418.39 1473.88,1418.24 1475.06,1418.19 1476.26,1418.28 1477.55,1418.47 1479.13,1418.35 1480.55,1418.45 1481.84,1418.12 1483.04,1418.07 1484.31,1418.64 1485.64,1418.46 1487.08,1418.51 1488.63,1418.62 1490.02,1418.71 1491.12,1418.72 1492.62,1418.21 1493.78,1418.38 1495.34,1418.08 1496.7,1418.47 1497.91,1418.28 1499.17,1418.28 1500.65,1418.3 1501.99,1418.6 1503.07,1417.99 1504.77,1418.11 1506.06,1418.25 1507.15,1417.98 1508.57,1418.39 1509.76,1417.97 1511.21,1418.57 1512.82,1418.11 1514.11,1418.2 1515.67,1418.08 1516.96,1418.21 1518.35,1418.13 1520,1418.16 1521.14,1418.03 1522.79,1417.92 1524.14,1418.13 1525.56,1417.84 1527.21,1417.73 1528.65,1417.73 1529.94,1418.02 1531.31,1418.05 1532.94,1417.81 1534.03,1417.71 1535.8,1417.96 1537.18,1417.79 1538.43,1417.98 1539.97,1418.11 1541.23,1417.69 1542.89,1418.06 1544.23,1417.96 1545.52,1417.83 1547.03,1417.84 1548.39,1417.44 1549.74,1417.78 1551.29,1417.87 1552.52,1417.23 1554.04,1417.32 1555.37,1417.44 1556.62,1417.07 1557.89,1417.53 1559.35,1417.58 1560.86,1417.3 1562.29,1416.88 1563.41,1417.21 1564.63,1417.4 1566.03,1417.16 1567.45,1416.97 1568.89,1416.87 1570.13,1417.09 1571.68,1416.64 1573.19,1416.61 1574.24,1416.69 1575.66,1416.79 1577.25,1416.48 1578.48,1416.8 1579.71,1416.57 1581.15,1416.9 1582.65,1416.57 1583.72,1416.44 1585.39,1416.45 1586.58,1416.55 1587.79,1416.52 1589.47,1416.05 1590.8,1416.42 1592.15,1416.07 1593.53,1416.07 1594.75,1416.09 1596.24,1416.95 1597.37,1417.54 1598.39,1418.21 1599.78,1418.52 1601.31,1418.53 1603.05,1418.36 1604.53,1418.2 1605.98,1418.3 1607.65,1418.39 1608.99,1418.52 1610.5,1418.55 1612.01,1418.58 1613.53,1418.61 1615.04,1418.64 1616.55,1418.67 1618.08,1418.74 1619.62,1418.83 1621.14,1418.87 1622.6,1418.8 1624.39,1418.5 1625.66,1418 1627.68,1417.74 1628.86,1417.62 1630.16,1417.44 1631.74,1417.98 1633.22,1417.96 1634.83,1418.3 1636.16,1418.7 1637.76,1418.41 1639.04,1418.14 1640.09,1417.61 1641.38,1416.35 1642.17,1415.03 1642.98,1414.12 1644.35,1412.94 1645.39,1412.51 1646.48,1412.21 1647.98,1412.75 1649.51,1413.39 1651.25,1413.95 1652.4,1414.26 1654.09,1414.87 1655.18,1414.37 1655.94,1413.7 1657.08,1412.65 1657.57,1411.55 1658.35,1409.78 1659.03,1408.39 1659.81,1406.34 1660.17,1404.83 1660.85,1403.64 1661.48,1403.15 1662.41,1402.67 1663.65,1402.84 1664.4,1403.33 1665.87,1404.37 1666.93,1405.46 1668.19,1406.84 1669.16,1408.07 1670.37,1408.89 1671.57,1410.03 1672.85,1409.93 1674,1410.75 1675.14,1410.71 1676.68,1410.73 1677.93,1410.26 1679.24,1410.2 1680.45,1410.2 1681.81,1409.58 1683.26,1409.62 1684.57,1408.76 1685.85,1408.37 1687.13,1408.02 1688.24,1407.57 1689.37,1406.58 1690.55,1405.5 1691.6,1404.53 1692.51,1403.19 1693.05,1402.26 1693.95,1401 1694.8,1400.25 1695.93,1399.57 1696.65,1398.88 1697.73,1399.14 1698.72,1400.1 1699.77,1401.24 1700.63,1402.43 1701.56,1403.39 1702.37,1405.07 1703.63,1406.38 1704.55,1407.52 1705.7,1408.52 1706.32,1409.7 1707.51,1410.08 1708.98,1409.89 1710.03,1409.73 1711.52,1409.16 1712.9,1408.28 1714.1,1407.2 1714.33,1406.93 1714.78,1406 1715.21,1404.79 1715.67,1403.57 1716.16,1402.84 1716.51,1400.99 1716.41,1399.81 1716.97,1398.46 1717.3,1397.29 1717.4,1395.27 1717.49,1393.62 1717.69,1392.59 1717.85,1390.69 1718.15,1389.72 1718.4,1387.76 1718.53,1386.49 1718.93,1385.34 1719.04,1384.32 1719.22,1382.67 1719.73,1381.24 1719.77,1380.14 1719.89,1378.81 1720.13,1377.63 1720.39,1376.25 1720.6,1374.94 1720.74,1373.28 1720.94,1372.14 1721.02,1371.21 1721.48,1369.78 1721.81,1368.28 1721.84,1367.55 1722.16,1366.15 1722.73,1364.56 1723.26,1362.45 1723.44,1360.74 1724.03,1359.11 1724.43,1357.97 1724.87,1356.33 1725.3,1355.3 1725.68,1354.59 1726.28,1354.74 1726.52,1354.65 1726.72,1355.25 1727.47,1355.96 1727.8,1357.17 1728.18,1358.61 1728.55,1360.53 1728.74,1362.24 1729.38,1363.52 1729.74,1365.42 1730.39,1366.76 1730.59,1368.25 1731.33,1369.63 1731.91,1370.86 1732.7,1371.96 1733.67,1372.88 1734.95,1373.41 1735.94,1374.22 1736.9,1375.63 1737.36,1376.92 1737.37,1378.4 1737.75,1379.72 1737.93,1381.62 1738.09,1382.86 1738.43,1384.86 1738.55,1386.21 1739.31,1386.89 1740.04,1388.1 1741.46,1389.12 1742.69,1390.25 1743.8,1390.38 1745.17,1389.98 1746.21,1388.7 1747.18,1386.66 1747.71,1386.3 1747.7,1385.98 1747.95,1384.9 1748.06,1383.92 1748.56,1383.23 1748.71,1382.23 1748.62,1380.5 1748.73,1379.72 1749.04,1378.26 1749.24,1376.84 1749.31,1375.6 1749.23,1374.44 1749.35,1373 1749.69,1371.25 1749.65,1369.56 1749.6,1368.35 1749.78,1366.68 1749.86,1364.88 1749.85,1363.63 1750.04,1361.6 1750.3,1360 1750.11,1358.41 1750.32,1357.26 1750.18,1355.79 1750.55,1354.18 1750.52,1352.39 1750.48,1350.78 1750.91,1349.34 1751.03,1348.32 1751.16,1346.48 1751.08,1345.66 1751.17,1344 1751.2,1343.02 1751.63,1341.23 1751.72,1339.88 1751.9,1338.28 1752.41,1336.27 1752.33,1334.59 1752.62,1332.48 1753.03,1331.03 1753.08,1329.08 1753.51,1327.86 1753.59,1326.01 1753.78,1324.4 1754.17,1322.87 1754.43,1321.74 1754.44,1320.3 1754.85,1319.34 1755.16,1318.86 1755.44,1318.47 1755.69,1318.02 1755.74,1317.96 1756.33,1317.91 1756.54,1318.32 1756.63,1318.74 1756.9,1320.05 1757.28,1321.3 1757.41,1322.64 1757.6,1323.45 1757.88,1325.39 1758.29,1326.84 1758.23,1328.92 1758.57,1330.79 1759,1332.09 1759.26,1334.31 1759.42,1336.18 1759.64,1337.29 1760.17,1339.23 1760.49,1340.86 1760.64,1341.55 1761.12,1342.9 1761.61,1344.64 1762.4,1346.35 1762.92,1348.32 1763.37,1350.21 1763.99,1351.24 1764.6,1352.68 1765.44,1353.21 1765.84,1353.67 1766.62,1353.36 1767.47,1352.17 1767.93,1351.52 1768.99,1349.5 1769.43,1348.04 1770.38,1346.19 1771.09,1344.31 1771.44,1343.21 1771.68,1342.6 1772.09,1341.15 1772.28,1339.63 1772.85,1337.52 1773.13,1336.25 1773.22,1334.12 1773.78,1332.47 1774.16,1330.6 1774.28,1328.68 1774.52,1327.51 1774.83,1325.94 1775.36,1324.25 1775.46,1322.53 1775.69,1321.96 1776.35,1321.1 1776.38,1320.36 1776.76,1319.5 1777.27,1319.62 1777.9,1319.72 1778.38,1320.98 1779.17,1322.8 1780.03,1324.77 1780.26,1326.18 1780.7,1326.71 1780.92,1328.36 1781.29,1329.71 1781.65,1331.06 1782.27,1332.56 1782.48,1334.24 1783.19,1335.7 1783.59,1337.25 1783.78,1338.35 1784.26,1339.85 1784.64,1340.69 1785.28,1342.03 1786.21,1343.12 1786.55,1344.26 1787.71,1345.06 1788.38,1346.37 1789.35,1347.13 1790.09,1348.56 1791.08,1349.35 1791.63,1350.61 1792.45,1351.75 1793.09,1352.86 1793.79,1354.29 1794.26,1355.66 1795.08,1357.31 1795.64,1359 1796.36,1360.64 1797.28,1362.18 1797.76,1363.42 1798.4,1364.85 1799.02,1365.55 1799.55,1365.96 1800.08,1366.21 1801.79,1365.8 1803.36,1364.35 1803.45,1364.05 1803.8,1363.46 1803.99,1363.01 1804.28,1361.91 1804.4,1361.31 1804.65,1360.62 1804.59,1359.56 1805.06,1358.74 1804.89,1358.37 1804.94,1357.01 1805.23,1356.16 1805.5,1355.28 1805.41,1353.51 1805.47,1352.27 1805.6,1351.47 1805.95,1349.84 1805.78,1349.09 1805.99,1347.4 1805.85,1345.78 1805.98,1344.76 1805.98,1343.24 1806.36,1341.42 1806.2,1340.22 1806.39,1338.92 1806.47,1337.17 1806.37,1335.75 1806.47,1334.39 1806.54,1332.55 1806.64,1330.88 1806.6,1329.39 1806.68,1328 1806.6,1326.02 1806.91,1324.61 1806.77,1322.62 1806.64,1321.07 1806.78,1319.45 1806.74,1317.85 1806.91,1315.97 1806.98,1314.78 1806.82,1312.86 1806.79,1311.42 1807.09,1309.81 1807.09,1308.39 1806.91,1306.47 1807.15,1305.57 1807.28,1303.74 1807.14,1302.06 1807.35,1301.07 1807.3,1299.19 1807.32,1298.26 1807.59,1296.71 1807.71,1295.4 1807.42,1294.01 1807.86,1293.14 1807.63,1291.37 1807.85,1289.98 1807.79,1288.71 1808.1,1286.63 1807.98,1285.19 1808.46,1283.61 1808.52,1282 1808.53,1279.7 1808.47,1278.31 1808.6,1276.3 1808.55,1274.98 1808.89,1272.82 1808.9,1271.46 1808.85,1269.54 1808.98,1267.99 1809.31,1266.31 1809.23,1264.31 1809.29,1262.54 1809.65,1261.35 1809.76,1259.73 1809.65,1258.02 1809.92,1256.38 1810.03,1255.21 1809.86,1253.54 1810.14,1252.11 1810.06,1250.91 1810.1,1250.27 1810.59,1249.14 1810.49,1248.12 1810.69,1247.03 1810.73,1246.03 1810.74,1245.51 1810.91,1245.17 1810.99,1244.42 1811.39,1244.47 1811.54,1244.27 1811.37,1243.99 1811.83,1244.33 1811.77,1244.44 1812.12,1244.66 1812.17,1245.92 1812.56,1246.64 1812.73,1247.79 1812.85,1248.71 1813.23,1250.55 1813.32,1252.01 1813.71,1253.51 1813.93,1255.34 1813.84,1257.01 1814.25,1258.63 1814.6,1259.91 1814.77,1261.67 1815.07,1263.59 1815.17,1265.27 1815.59,1267.21 1815.62,1268.89 1815.82,1270.47 1816.24,1271.89 1816.47,1273.29 1816.73,1274.2 1816.91,1275.55 1817,1276.67 1817.44,1278.34 1817.74,1279.57 1817.77,1280.7 1818.09,1282.21 1818.42,1283.63 1818.42,1284.65 1818.51,1286.35 1818.91,1287.43 1818.99,1288.86 1819.59,1290.06 1819.77,1291.75 1819.98,1292.98 1820.06,1294.37 1820.46,1295.91 1820.68,1296.81 1821.11,1298.31 1821.14,1299.63 1821.33,1300.59 1821.91,1302.06 1822.16,1303.14 1822.3,1304.4 1822.73,1305.87 1822.89,1307.15 1823.17,1308.55 1823.74,1310.21 1823.87,1311.91 1824.4,1314.02 1824.76,1315.32 1825.4,1317.25 1825.59,1318.71 1825.9,1320.2 1826.4,1322.15 1826.65,1323.57 1827.08,1325.1 1827.55,1326.49 1828.12,1327.53 1828.33,1328.37 1828.63,1329.67 1829.24,1330.07 1829.66,1331.16 1829.73,1331.23 1830.17,1331.18 1830.29,1331.34 1830.58,1330.85 1830.84,1330.17 1831.01,1329.68 1831.09,1329.07 1831.52,1328.17 1831.62,1327.24 1831.78,1326.31 1831.87,1324.38 1832.19,1323.51 1832.28,1321.87 1832.43,1320.24 1832.78,1319.1 1832.72,1317.25 1832.96,1315.27 1833.23,1313.84 1833.49,1312.36 1833.61,1310.15 1833.44,1308.78 1833.6,1306.94 1833.79,1305.22 1833.9,1303.08 1834.41,1301.7 1834.41,1300.4 1834.73,1298.3 1834.88,1296.92 1834.98,1295.44 1835.08,1294.1 1835.3,1292.78 1835.82,1291.45 1835.95,1290.21 1836.27,1288.14 1836.67,1287.02 1836.9,1284.9 1837.18,1283.41 1837.14,1281.51 1837.71,1279.94 1838.11,1278.46 1838.37,1276.99 1838.46,1275.41 1838.61,1273.89 1838.94,1272.35 1839.39,1270.84 1839.76,1270.26 1839.87,1268.97 1840.39,1268.43 1840.35,1267.72 1841.02,1267.36 1841.01,1267.37 1841.52,1267.74 1841.57,1267.99 1841.67,1268.13 1842.06,1269.28 1842.2,1269.79 1842.74,1270.97 1842.63,1272.12 1842.88,1273.61 1843.32,1275.31 1843.43,1276.75 1843.68,1278.4 1843.82,1280.08 1844.01,1281.98 1844.34,1283.43 1844.57,1285.06 1844.85,1286.88 1845.32,1288.68 1845.66,1290 1845.75,1291.46 1845.91,1293.01 1846.43,1293.92 1846.57,1295.44 1846.75,1296.81 1847.03,1298.46 1847.1,1299.97 1847.2,1301.33 1847.82,1302.97 1847.85,1305.05 1847.93,1306.94 1848.25,1308.67 1848.59,1310.12 1848.91,1311.47 1849.12,1313.62 1849.5,1315.26 1849.71,1316.45 1849.86,1318.28 1849.97,1319.96 1850.27,1321.24 1850.62,1322.3 1851.19,1323.88 1851.39,1325.01 1851.61,1326.23 1851.7,1326.8 1852.07,1327.72 1852.46,1328.58 1852.72,1328.6 1853.34,1329.22 1853.47,1329.11 1854.1,1328.76 1854.6,1328.15 1855.17,1327.01 1855.76,1326.21 1855.94,1324.14 1856.88,1322.87 1857.19,1321.04 1857.89,1318.83 1858.52,1317.2 1858.88,1315.9 1859.72,1314.09 1860.19,1313.31 1860.76,1312.3 1861.41,1312.52 1861.83,1312.18 1862.61,1313.15 1863.44,1313.19 1863.92,1314.24 1864.36,1315.39 1865.12,1317.3 1865.94,1318.28 1866.54,1320 1866.83,1321.68 1867.54,1323.26 1868.11,1324.69 1868.89,1325.83 1869.37,1327.09 1870.18,1328.35 1870.83,1329.65 1871.34,1330.78 1871.81,1332.57 1872.4,1333.9 1872.75,1335.74 1873.2,1336.93 1873.99,1338.58 1874.38,1339.52 1875.05,1341.08 1875.4,1342.23 1875.95,1343.56 1876.84,1344.48 1877.42,1344.56 1877.97,1345.55 1879.05,1345.37 1880.49,1345.13 1881.92,1344.96 1883.12,1344.34 1884.37,1342.77 1884.66,1342.4 1885.14,1341.67 1885.36,1340.76 1885.81,1339.67 1886.05,1339.22 1886.3,1337.66 1886.49,1336.49 1886.43,1335.23 1886.71,1334.08 1886.7,1332.72 1887.04,1331.35 1887.01,1330.39 1886.97,1328.76 1886.97,1327.41 1887.16,1325.34 1887.22,1323.81 1887.17,1322.25 1887.23,1320.96 1887.4,1319.1 1887.19,1317.55 1887.65,1315.98 1887.65,1314.49 1887.74,1313.63 1887.95,1312.47 1887.96,1311.01 1887.81,1310.34 1888.02,1309.36 1888.17,1307.88 1887.99,1306.97 1888.03,1305.7 1888.17,1304.46 1888.4,1303.43 1888.45,1301.81 1888.63,1301.03 1888.71,1299.71 1888.66,1298.63 1888.77,1297.17 1888.54,1295.44 1888.88,1294.7 1888.81,1292.93 1888.89,1292.03 1889.09,1290.18 1888.92,1288.87 1889.21,1287.52 1889.33,1286.25 1889.1,1284.86 1889.13,1283.78 1889.15,1282.05 1889.35,1280.37 1889.35,1279.61 1889.68,1277.79 1889.74,1276.7 1889.8,1275.14 1889.73,1273.56 1889.86,1272.18 1890.03,1270.45 1890.06,1269.42 1889.92,1268.04 1889.92,1266.29 1890.1,1265.26 1890.03,1263.75 1890.26,1262.37 1890.18,1260.77 1890.49,1259.51 1890.47,1258.08 1890.51,1256.47 1890.39,1255.06 1890.79,1253.97 1890.46,1252.15 1890.61,1251.16 1890.66,1249.76 1890.74,1248.12 1891.13,1246.64 1891.04,1245.44 1891.19,1243.99 1891.23,1242.84 1891.42,1241.63 1891.38,1240.17 1891.57,1239.36 1891.64,1238.22 1891.36,1237.03 1891.58,1235.47 1891.88,1234.65 1891.74,1233.1 1891.98,1231.57 1891.93,1229.99 1892.02,1228.87 1892.18,1227.39 1892.31,1225.58 1892.62,1223.77 1892.7,1221.69 1892.92,1220.49 1892.92,1218.23 1892.87,1216.52 1893.37,1214.81 1893.21,1213.21 1893.24,1211.66 1893.69,1209.61 1893.51,1208.33 1893.98,1206.57 1893.86,1205.08 1894.18,1202.84 1894.47,1201.77 1894.27,1200.41 1894.58,1198.8 1894.48,1197.12 1894.95,1195.68 1894.83,1194.48 1895.14,1193.38 1895.36,1192.53 1895.5,1191.87 1895.72,1190.47 1895.61,1190.11 1895.74,1189.53 1895.88,1188.74 1895.98,1188.36 1896.13,1187.82 1896.46,1187.9 1896.35,1187.37 1896.52,1187.86 1896.85,1188.05 1897.04,1188.09 1897.05,1188.43 1897.12,1189.48 1897.22,1190.37 1897.33,1190.99 1897.67,1191.81 1897.8,1193.01 1897.67,1193.98 1898.06,1195.73 1898.21,1197.1 1898.34,1198.45 1898.55,1199.79 1898.56,1201.02 1898.57,1202.55 1898.66,1204.39 1898.87,1206.18 1899.23,1207.67 1899.4,1209.78 1899.24,1211.35 1899.39,1212.72 1899.54,1214.57 1899.59,1216.19 1900.07,1218.51 1900.23,1219.67 1900.02,1221.9 1900.31,1223.2 1900.6,1224.95 1900.59,1226.25 1900.64,1228.16 1901.12,1229.14 1900.98,1230.87 1901.15,1232.16 1901.4,1233.23 1901.42,1234.84 1901.9,1236.21 1901.96,1238.32 1902.16,1239.68 1902.49,1241.71 1902.69,1243.12 1902.66,1245 1902.99,1246.88 1903.05,1248.57 1903.37,1250.19 1903.24,1251.77 1903.47,1253.37 1903.97,1255.29 1904.08,1256.74 1904.16,1258.02 1904.51,1259.5 1904.51,1260.95 1904.91,1262.24 1904.96,1262.82 1905.32,1263.65 1905.28,1264.35 1905.55,1264.7 1905.98,1265.08 1906.15,1265.16 1906.28,1265.35 1906.91,1264.82 1907.2,1263.68 1907.53,1263.13 1908.03,1261.73 1908.36,1260.02 1908.51,1258.94 1908.89,1256.85 1909.44,1255.43 1909.95,1253.76 1910.44,1251.57 1910.53,1249.71 1910.93,1248.02 1911.41,1247.3 1911.43,1245.77 1911.82,1244.65 1911.98,1243.27 1911.98,1241.79 1912.29,1240.4 1912.52,1239.13 1912.57,1237.1 1912.9,1235.63 1913.07,1233.9 1913.15,1231.99 1913.59,1230.59 1913.77,1228.82 1913.89,1226.74 1914.26,1225.21 1914.26,1223.26 1914.43,1222.02 1914.64,1220.19 1914.71,1218.38 1914.97,1216.5 1915.19,1215.04 1915.53,1213.54 1915.82,1211.93 1916.02,1210.77 1916.2,1209.47 1916.18,1208.65 1916.54,1207.46 1916.7,1206.5 1917.1,1205.69 1917.32,1204.72 1917.25,1204.53 1917.69,1204.12 1917.75,1203.53 1918.19,1203.29 1918.14,1203.38 1918.47,1203.87 1918.79,1204.43 1918.93,1205.06 1919.41,1205.75 1919.69,1207.39 1920.05,1208.6 1920.43,1209.59 1920.37,1210.7 1920.9,1212.76 1921.1,1213.85 1921.57,1215.78 1921.75,1217.19 1922.09,1219.22 1922.46,1221.19 1922.49,1222.87 1922.9,1224.3 1923.21,1226.25 1923.56,1227.37 1923.87,1229 1923.99,1230.42 1924.45,1232.09 1924.59,1233.15 1925.32,1234.8 1925.7,1236.13 1926.04,1237.53 1926.16,1238.36 1926.42,1240.14 1927,1241.03 1927.15,1242.51 1927.83,1243.46 1928.22,1244.89 1928.25,1245.89 1928.83,1247.65 1928.97,1248.43 1929.3,1249.7 1929.69,1251.15 1930.05,1252.66 1930.4,1253.76 1930.82,1255.11 1931.01,1256.51 1931.25,1258.08 1931.51,1259.16 1932.1,1260.53 1932.1,1261.71 1932.38,1263.03 1932.45,1264.33 1932.71,1265.82 1933,1267.22 1933.34,1268.8 1933.51,1270.67 1933.72,1272.24 1934.05,1273.58 1934.03,1274.84 1934.44,1276.62 1934.49,1277.95 1934.66,1280.04 1935,1281.52 1935.38,1282.58 1935.35,1284.48 1935.59,1285.69 1936.12,1286.97 1936.14,1288.64 1936.57,1289.9 1936.76,1290.63 1936.75,1291.64 1937.39,1293.1 1937.65,1294.4 1937.66,1295.35 1937.98,1295.65 1938.28,1296.98 1938.88,1297.2 1939.71,1299.26 1940.94,1300.74 1941.84,1301.17 1942.91,1301.8 1943.25,1301.54 1943.37,1300.84 1943.94,1300.24 1944.15,1299.57 1944.25,1298.47 1944.59,1297.11 1944.74,1296.05 1945.1,1294.72 1945.08,1292.94 1945.35,1291.4 1945.41,1289.38 1945.59,1287.8 1945.96,1285.38 1945.88,1283.57 1946.25,1282.09 1946.31,1279.67 1946.57,1278.13 1946.67,1276 1946.8,1274.12 1947.16,1272.43 1947.29,1270.83 1947.26,1269.01 1947.62,1267.89 1947.91,1265.98 1947.83,1264.67 1948,1263.74 1948.43,1263.16 1948.6,1261.84 1948.74,1261.26 1948.95,1261.19 1949.3,1260.77 1949.57,1261.39 1950.09,1261.58 1950.34,1262 1950.91,1262.66 1951.26,1264.38 1951.66,1264.97 1951.82,1266.86 1952.3,1268.11 1952.92,1269.89 1953.19,1271.56 1953.89,1273.14 1954.1,1275.04 1954.74,1276.78 1955.21,1278.57 1955.66,1279.87 1955.99,1281.43 1956.2,1283.02 1956.99,1284.36 1957.15,1286.09 1957.87,1287.37 1958.06,1288.89 1958.41,1289.86 1958.88,1291.68 1959.43,1293.65 1959.99,1295.26 1960.49,1296.53 1960.91,1297.87 1961.43,1300.02 1962.12,1301.45 1962.22,1302.47 1962.99,1303.51 1963.11,1304.67 1963.55,1306.02 1964.24,1307 1964.36,1307.43 1965.06,1307.48 1965.12,1308.24 1966.52,1307.17 1967.27,1305.91 1967.38,1305.45 1967.49,1304.87 1967.74,1304.79 1968.01,1303.99 1967.91,1303.57 1968.1,1303.13 1968.11,1303.14 1968.34,1302.35 1968.42,1301.4 1968.54,1301.28 1968.39,1300.49 1968.58,1299.31 1968.8,1299 1968.67,1297.74 1968.9,1296.91 1968.98,1296.6 1968.85,1295.31 1969,1294.19 1969.23,1293.78 1969.25,1292.51 1969.41,1291.7 1969.59,1290.29 1969.32,1289.62 1969.56,1288.49 1969.42,1287.29 1969.46,1285.67 1969.52,1284.65 1969.69,1283.65 1969.96,1282.25 1969.86,1280.98 1969.82,1279.6 1969.71,1278.29 1970.05,1277.35 1970.08,1275.75 1970,1274.21 1969.97,1273.4 1970.15,1271.58 1970.16,1270.22 1970.1,1268.73 1970.18,1267.61 1970.41,1265.71 1970.26,1264.17 1970.49,1262.61 1970.32,1261.01 1970.34,1259.79 1970.18,1258.03 1970.4,1256.7 1970.34,1254.84 1970.37,1253.47 1970.3,1252.06 1970.37,1250.41 1970.59,1248.45 1970.52,1247.27 1970.71,1245.68 1970.7,1244.03 1970.46,1242.5 1970.7,1240.64 1970.78,1238.68 1970.79,1237.25 1970.65,1235.9 1970.51,1234.04 1970.46,1232.06 1970.87,1230.52 1970.66,1228.79 1970.88,1227.4 1970.86,1225.58 1970.71,1223.9 1970.77,1222.56 1970.78,1220.82 1970.68,1219.43 1970.57,1217.23 1970.86,1216.15 1970.94,1214 1971,1212.52 1970.85,1211.02 1970.89,1209.56 1971.02,1207.56 1971.03,1205.95 1970.96,1204.25 1970.95,1202.76 1971.12,1201.45 1970.88,1200.09 1970.78,1198.39 1971.02,1196.34 1970.96,1194.88 1971.21,1193.36 1971.07,1192.17 1970.88,1190.96 1971.09,1189.27 1970.98,1187.5 1971.03,1185.98 1971,1184.89 1971.11,1183.68 1971.03,1181.91 1971.22,1180.89 1971.16,1179.21 1971.11,1178.01 1971.25,1177.02 1971.22,1175.42 1971.47,1174.08 1971.21,1173.39 1971.62,1171.73 1971.39,1170.65 1971.4,1169.73 1971.72,1168.56 1971.56,1167.55 1971.84,1166.02 1971.77,1164.97 1971.98,1163.79 1971.81,1162.1 1971.84,1159.94 1972,1158.25 1972.05,1157.06 1972.18,1154.91 1972.1,1153.36 1972.3,1151.83 1972.23,1149.74 1972.42,1147.89 1972.38,1146.11 1972.6,1144.19 1972.58,1142.63 1972.92,1140.82 1972.74,1138.74 1972.89,1137.2 1972.8,1135.55 1973.08,1133.74 1973.21,1132.24 1973,1130.15 1973.27,1128.89 1973.36,1127.01 1973.35,1125.77 1973.46,1124.09 1973.47,1122.65 1973.65,1120.75 1973.85,1119.9 1974.03,1118.63 1974,1116.98 1973.9,1115.88 1974.06,1114.42 1974.02,1113.47 1974.36,1112.51 1974.22,1111.11 1974.51,1110.12 1974.71,1109.82 1974.71,1108.57 1974.78,1108.22 1974.79,1107.51 1975,1107.16 1975.17,1106.55 1975.18,1106.35 1975.32,1105.95 1975.31,1105.38 1975.52,1105.41 1975.89,1105.54 1976.06,1106.04 1975.97,1106.88 1976.24,1108.07 1976.58,1108.54 1976.67,1109.83 1976.97,1111.54 1977.12,1113.2 1977.4,1114.95 1977.73,1116.28 1978.03,1117.89 1978.02,1119.69 1978.56,1121.83 1978.75,1123.91 1978.68,1125.55 1978.9,1127.04 1979.39,1127.91 1979.6,1129.29 1979.61,1130.09 1979.65,1131.11 1979.98,1132.61 1980.01,1133.83 1980.15,1134.9 1980.58,1136.04 1980.7,1137.3 1981.04,1138.64 1981.25,1140.44 1981.45,1141.31 1981.52,1142.49 1981.83,1144.27 1981.63,1145.24 1981.85,1146.74 1982.4,1148.42 1982.33,1149.82 1982.39,1151.02 1982.75,1152.08 1983.17,1153.88 1983.39,1155.26 1983.43,1156.3 1983.56,1158.23 1983.79,1159.44 1983.95,1160.64 1983.95,1161.92 1984.22,1163.21 1984.36,1165.05 1984.95,1166.38 1985.07,1167.39 1985.27,1168.86 1985.46,1170.09 1985.42,1171.62" fill="none" stroke="#00ffff" stroke-width="1.8" stroke-linejoin="round"/>
<polyline points="1148.5,1419.7 1150.01,1419.7 1151.53,1419.69 1153.04,1419.69 1154.55,1419.69 1156.07,1419.69 1157.58,1419.68 1159.1,1419.68 1160.61,1419.68 1162.12,1419.67 1163.64,1419.67 1165.15,1419.67 1166.66,1419.67 1168.18,1419.66 1169.69,1419.66 1171.2,1419.66 1172.72,1419.66 1174.23,1419.65 1175.74,1419.65 1177.26,1419.65 1178.77,1419.64 1180.29,1419.64 1181.8,1419.64 1183.31,1419.64 1184.83,1419.63 1186.34,1419.63 1187.85,1419.63 1189.37,1419.62 1190.88,1419.62 1192.39,1419.62 1193.91,1419.62 1195.42,1419.61 1196.93,1419.61 1198.45,1419.61 1199.96,1419.61 1201.48,1419.6 1202.99,1419.6 1204.5,1419.6 1206.02,1419.59 1207.53,1419.59 1209.04,1419.59 1210.56,1419.59 1212.07,1419.58 1213.58,1419.58 1215.1,1419.58 1216.61,1419.58 1218.12,1419.57 1219.64,1419.57 1221.15,1419.57 1222.67,1419.56 1224.18,1419.56 1225.69,1419.56 1227.21,1419.56 1228.72,1419.55 1230.23,1419.55 1231.75,1419.55 1233.26,1419.54 1234.77,1419.54 1236.29,1419.54 1237.8,1419.54 1239.31,1419.53 1240.83,1419.53 1242.34,1419.53 1243.86,1419.53 1245.37,1419.52 1246.88,1419.52 1248.4,1419.52 1249.91,1419.51 1251.42,1419.51 1252.94,1419.51 1254.45,1419.51 1255.96,1419.5 1257.48,1419.5 1258.99,1419.5 1260.5,1419.49 1262.02,1419.49 1263.53,1419.49 1265.05,1419.49 1266.56,1419.48 1268.07,1419.48 1269.59,1419.48 1271.1,1419.48 1272.61,1419.47 1274.13,1419.47 1275.64,1419.47 1277.15,1419.46 1278.67,1419.46 1280.18,1419.46 1281.7,1419.46 1283.21,1419.45 1284.72,1419.45 1286.24,1419.45 1287.75,1419.44 1289.26,1419.44 1290.78,1419.44 1292.29,1419.44 1293.8,1419.43 1295.32,1419.43 1296.83,1419.43 1298.34,1419.43 1299.86,1419.42 1301.37,1419.42 1302.89,1419.42 1304.4,1419.41 1305.91,1419.41 1307.43,1419.41 1308.94,1419.41 1310.45,1419.4 1311.97,1419.4 1313.48,1419.4 1314.99,1419.39 1316.51,1419.39 1318.02,1419.39 1319.53,1419.39 1321.05,1419.38 1322.56,1419.38 1324.08,1419.38 1325.59,1419.37 1327.1,1419.37 1328.62,1419.37 1330.13,1419.37 1331.64,1419.36 1333.16,1419.36 1334.67,1419.36 1336.18,1419.36 1337.7,1419.35 1339.21,1419.35 1340.72,1419.35 1342.24,1419.34 1343.75,1419.34 1345.27,1419.34 1346.78,1419.34 1348.29,1419.33 1349.81,1419.33 1351.32,1419.33 1352.83,1419.33 1354.35,1419.32 1355.86,1419.32 1357.37,1419.32 1358.89,1419.31 1360.4,1419.31 1361.91,1419.31 1363.43,1419.31 1364.94,1419.3 1366.46,1419.3 1367.97,1419.3 1369.48,1419.29 1371,1419.29 1372.51,1419.29 1374.02,1419.29 1375.54,1419.28 1377.05,1419.28 1378.56,1419.28 1380.08,1419.27 1381.59,1419.27 1383.1,1419.27 1384.62,1419.27 1386.13,1419.26 1387.65,1419.26 1389.16,1419.26 1390.67,1419.26 1392.19,1419.25 1393.7,1419.25 1395.21,1419.25 1396.73,1419.24 1398.24,1419.24 1399.75,1419.24 1401.27,1419.24 1402.78,1419.23 1404.3,1419.23 1405.81,1419.23 1407.32,1419.22 1408.84,1419.22 1410.35,1419.22 1411.86,1419.22 1413.38,1419.21 1414.89,1419.21 1416.4,1419.21 1417.92,1419.21 1419.43,1419.2 1420.94,1419.2 1422.46,1419.2 1423.97,1419.19 1425.49,1419.19 1427,1419.19 1428.51,1419.19 1430.03,1419.18 1431.54,1419.18 1433.05,1419.18 1434.57,1419.17 1436.08,1419.17 1437.59,1419.17 1439.11,1419.17 1440.62,1419.16 1442.13,1419.16 1443.65,1419.16 1445.16,1419.16 1446.68,1419.15 1448.19,1419.15 1449.7,1419.15 1451.22,1419.14 1452.73,1419.14 1454.24,1419.14 1455.76,1419.14 1457.27,1419.13 1458.78,1419.13 1460.3,1419.13 1461.81,1419.12 1463.32,1419.12 1464.84,1419.12 1466.35,1419.12 1467.87,1419.11 1469.38,1419.11 1470.89,1419.11 1472.41,1419.11 1473.92,1419.1 1475.43,1419.1 1476.95,1419.1 1478.46,1419.09 1479.97,1419.09 1481.49,1419.09 1483,1419.09 1484.51,1419.08 1486.03,1419.08 1487.54,1419.08 1489.06,1419.08 1490.57,1419.07 1492.08,1419.07 1493.6,1419.07 1495.11,1419.06 1496.62,1419.06 1498.14,1419.06 1499.65,1419.06 1501.16,1419.05 1502.68,1419.05 1504.19,1419.05 1505.7,1419.04 1507.22,1419.04 1508.73,1419.04 1510.25,1419.04 1511.76,1419.03 1513.27,1419.03 1514.79,1419.03 1516.3,1419.03 1517.81,1419.02 1519.33,1419.02 1520.84,1419.02 1522.35,1419.01 1523.87,1419.01 1525.38,1419.01 1526.9,1419.01 1528.41,1419 1529.92,1419 1531.44,1419 1532.95,1418.99 1534.46,1418.99 1535.98,1418.99 1537.49,1418.99 1539,1418.98 1540.52,1418.98 1542.03,1418.98 1543.54,1418.97 1545.06,1418.97 1546.57,1418.97 1548.09,1418.97 1549.6,1418.96 1551.11,1418.96 1552.63,1418.96 1554.14,1418.96 1555.65,1418.95 1557.17,1418.95 1558.68,1418.95 1560.19,1418.94 1561.71,1418.94 1563.22,1418.94 1564.73,1418.94 1566.25,1418.93 1567.76,1418.93 1569.28,1418.93 1570.79,1418.93 1572.3,1418.92 1573.82,1418.92 1575.33,1418.92 1576.84,1418.91 1578.36,1418.91 1579.87,1418.91 1581.38,1418.91 1582.9,1418.9 1584.41,1418.9 1585.92,1418.9 1587.44,1418.89 1588.95,1418.89 1590.47,1418.89 1591.98,1418.89 1593.49,1418.88 1595.01,1418.88 1596.52,1418.88 1598.03,1418.87 1599.55,1418.87 1601.06,1418.87 1602.57,1418.87 1604.09,1418.86 1605.6,1418.86 1607.11,1418.86 1608.63,1418.86 1610.14,1418.85 1611.66,1418.85 1613.17,1418.85 1614.68,1418.84 1616.2,1418.84 1617.71,1418.84 1619.22,1418.84 1620.74,1418.83 1622.25,1418.83 1623.76,1418.83 1625.28,1418.82 1626.79,1418.82 1628.3,1418.82 1629.82,1418.82 1631.33,1418.81 1632.85,1418.81 1634.37,1418.89 1635.89,1419.03 1637.41,1419.06 1638.9,1418.8 1639.82,1418.04 1641.16,1417.78 1642.33,1416.73 1643,1415.63 1644.25,1414.99 1645.65,1414.47 1646.96,1414.28 1648.06,1414.05 1649.47,1414.9 1650.78,1415.29 1652.32,1415.45 1654.17,1416.19 1654.97,1415.59 1656.15,1414.39 1656.9,1413.84 1657.77,1412.59 1658.29,1411.21 1659.34,1409.33 1660.04,1408.69 1661,1407.18 1661.6,1406.43 1662.47,1405.91 1663.6,1405.75 1665.08,1406.22 1666.32,1406.77 1667.51,1407.95 1668.91,1408.67 1670.18,1409.34 1671.58,1410.48 1672.64,1410.65 1674.09,1410.96 1675.41,1410.94 1676.31,1411 1678.01,1411.23 1679.41,1411.12 1680.49,1410.59 1681.88,1410.06 1683.28,1410.04 1684.37,1409.8 1685.77,1409.61 1686.81,1408.14 1688.32,1407.73 1689.24,1407.9 1690.61,1406.31 1691.6,1405.11 1692.55,1403.78 1693.97,1403.17 1694.58,1401.51 1695.98,1401.56 1696.56,1401.27 1697.82,1401.63 1698.79,1401.74 1699.6,1402.86 1700.82,1404.36 1701.92,1405.68 1703.09,1406.94 1704.41,1408.31 1705.4,1408.8 1706.26,1409.45 1707.16,1409.9 1708.69,1410.48 1709.89,1409.89 1711.54,1408.99 1712.9,1408.2 1714.05,1407.07 1714.66,1406.48 1714.66,1405.44 1715.16,1404.41 1715.61,1404.12 1715.99,1402.32 1716.54,1400.69 1716.42,1400.11 1716.83,1397.98 1716.99,1397.09 1717.7,1395.26 1717.77,1393.84 1717.68,1392.23 1717.98,1390.72 1718.48,1389.17 1718.48,1388.49 1718.52,1387.46 1719.17,1385.72 1719.19,1383.84 1719.84,1383.19 1719.59,1381.61 1719.93,1379.47 1720.41,1378.1 1720.79,1377.48 1720.7,1375.43 1721.1,1374.72 1721.09,1373.38 1721.44,1371.8 1721.8,1370.28 1722.46,1368.91 1723.15,1367.78 1723.53,1365.63 1723.99,1363.76 1724.41,1362.48 1724.92,1361.16 1725.74,1360.9 1726.24,1360.46 1726.49,1359.93 1726.96,1361.1 1727.81,1362.45 1728.44,1363.89 1728.62,1364.75 1729.3,1366.69 1730.12,1368.9 1730.53,1370.29 1731.28,1371.34 1731.77,1372.75 1733.2,1373.38 1734.65,1373.61 1735.8,1374.66 1736.59,1375.23 1737.29,1377.1 1737.39,1378.53 1738.1,1379.39 1738.02,1381.3 1738.11,1382.5 1738.42,1384.72 1739.3,1385.85 1740.15,1386.57 1741.16,1387.46 1742.81,1388.72 1743.74,1388.76 1745.46,1389.15 1747.12,1387.99 1747.7,1387.06 1747.89,1386.7 1747.98,1385.96 1748.16,1385.45 1748.92,1384.35 1748.78,1383.29 1748.81,1382.39 1749.31,1380.54 1749.27,1379.27 1749.6,1377.8 1749.82,1376.43 1749.92,1375.08 1749.84,1374.08 1750.18,1372.69 1749.8,1370.94 1750.05,1368.79 1750.16,1367.94 1749.98,1366.07 1750.37,1364.63 1750.42,1362.39 1750.74,1360.66 1750.73,1359.27 1750.46,1357.62 1751.05,1356.12 1751.21,1354.67 1751.35,1353.2 1751.33,1352.37 1751.46,1351.53 1751.44,1350.13 1751.85,1348.39 1751.86,1346.96 1752.34,1344.75 1752.25,1343.45 1752.66,1341.83 1753.06,1339.86 1753.18,1337.57 1753.46,1336.44 1753.23,1334.17 1753.46,1332.76 1754.08,1331.85 1754.27,1330.09 1754.65,1328.63 1754.46,1327.82 1754.72,1327.17 1755.32,1326.41 1755.27,1325.68 1755.52,1325.28 1755.92,1324.75 1756.44,1325.59 1756.73,1325.41 1756.75,1326.92 1757.45,1327.9 1757.89,1329.04 1757.83,1330.59 1758.25,1332.12 1758.92,1333.77 1759.26,1335.76 1759.23,1337.38 1760.13,1339.15 1760.51,1340.65 1761,1341.4 1761.06,1342.7 1761.9,1344.53 1762.49,1346.7 1762.75,1348.36 1763.62,1349.44 1764.52,1350.82 1765.03,1351.31 1765.69,1350.43 1766.99,1350.6 1767.88,1349.58 1768.62,1347.79 1769.34,1346.22 1770.41,1345.05 1770.86,1342.7 1771.34,1341.9 1771.91,1341.2 1772.18,1339.01 1772.5,1337.58 1772.86,1336.69 1773.29,1334.7 1773.32,1333.48 1774.07,1331.35 1773.9,1329.87 1774.43,1327.97 1774.73,1326.3 1774.9,1325.23 1775.45,1323.7 1775.91,1322.62 1775.88,1321.42 1776.45,1321.08 1776.83,1320.67 1777.01,1320.47 1778.11,1320.44 1778.81,1322.24 1780.21,1324.35 1780.62,1325.11 1780.91,1325.57 1781.15,1327.34 1781.54,1328.22 1782.12,1329.08 1782.27,1330.64 1783.1,1332.63 1783.11,1333.4 1784.1,1334.77 1784.46,1336.51 1785,1337.9 1785.06,1339.07 1786.14,1339.67 1787.03,1341.15 1787.52,1342.55 1788.38,1343.73 1788.91,1345.14 1790.02,1345.53 1790.86,1346.82 1791.66,1348.62 1792.53,1349.19 1792.96,1351.27 1793.88,1351.87 1794.6,1353.38 1795.02,1355.25 1795.78,1356.17 1796.86,1358.36 1797.22,1359.4 1797.98,1359.81 1798.6,1360.68 1799.7,1362.23 1799.91,1361.85 1801.61,1362.17 1803.29,1360.79 1803.82,1360.35 1803.94,1359.95 1804.16,1359.42 1804.09,1359.69 1804.32,1358.48 1804.73,1358.3 1804.83,1356.61 1805.06,1356.31 1805.16,1355.08 1805.44,1353.77 1805.41,1353.2 1805.75,1352.34 1805.46,1350.79 1805.78,1349.58 1805.56,1348.94 1805.88,1346.8 1805.79,1345.33 1806.32,1344.08 1806.19,1343.48 1806.38,1341.68 1806.15,1340.28 1806.52,1338.31 1806.23,1336.98 1806.5,1335.91 1806.54,1333.71 1806.67,1332 1806.33,1330.25 1806.65,1329.19 1806.62,1327.53 1806.49,1325.55 1806.76,1324.09 1806.74,1322.96 1806.75,1321.14 1806.54,1319.24 1806.56,1317.3 1806.67,1315.85 1806.69,1314.78 1806.8,1312.54 1806.7,1311.01 1807.16,1309.61 1807.27,1308.12 1807.16,1306.4 1807.31,1304.92 1806.94,1303.21 1807.39,1301.6 1807.07,1300.75 1807.43,1299.22 1807.48,1297.83 1807.51,1296.15 1807.48,1295.84 1807.66,1294 1807.77,1293.48 1807.8,1291.39 1808.13,1290.25 1807.88,1288.44 1808.04,1286.46 1808.45,1284.77 1808.62,1283.17 1808.7,1281.07 1808.53,1279.22 1808.91,1278.32 1808.79,1276.15 1809.19,1274.33 1808.9,1272.36 1809.37,1271.33 1809.25,1269.6 1809.55,1267.93 1809.23,1266.34 1809.8,1264.65 1809.66,1263.38 1809.64,1261.58 1810.06,1261.06 1809.85,1259.52 1810.22,1257.78 1810.15,1257.03 1810.62,1255.95 1810.58,1255.65 1810.96,1255.36 1811.17,1254.03 1811.18,1254.05 1811.35,1253.79 1811.43,1253.34 1811.88,1254.12 1812.19,1254.37 1812.66,1254.71 1812.76,1256.28 1813.13,1256.66 1813.39,1258.86 1813.55,1259.96 1814.37,1261.64 1814.46,1263.48 1815,1265.08 1815.38,1267.06 1815.44,1268.67 1815.73,1269.73 1816.19,1271.25 1816.35,1273.19 1817.01,1273.74 1816.79,1275.11 1817.23,1276.15 1817.7,1277.44 1817.8,1278.85 1818.12,1280.01 1818.29,1282.07 1818.27,1282.76 1818.56,1284.76 1819.19,1285.53 1819.59,1286.83 1819.61,1288.75 1819.96,1289.45 1819.9,1290.92 1820.72,1292.99 1820.62,1293.47 1821.12,1294.94 1821.57,1296.96 1821.81,1298.1 1822.12,1299.41 1822.2,1300.53 1822.31,1301.69 1822.96,1303.41 1823.59,1304.41 1823.97,1306.14 1824.37,1307.22 1824.59,1309.15 1825.35,1311.49 1825.77,1312.99 1826.25,1313.99 1826.5,1315.97 1827.27,1317.26 1827.7,1318.5 1827.93,1319.53 1828.44,1320.96 1828.69,1322.14 1829.04,1322.55 1829.64,1323.13 1829.97,1322.33 1830.51,1322.54 1830.87,1322.48 1830.91,1321.94 1831.31,1320.88 1831.26,1320.31 1831.72,1318.67 1831.7,1317.87 1831.87,1316.66 1832.26,1315.02 1832.68,1313.96 1832.47,1312.23 1833.22,1310.59 1833.41,1308.52 1833.14,1306.87 1833.34,1304.95 1833.54,1303.53 1834.07,1302.04 1833.81,1300.3 1834.37,1298.1 1834.2,1297.05 1834.49,1294.86 1834.81,1293.9 1835.43,1292.61 1835.61,1291.25 1835.66,1289.02 1835.8,1287.57 1836.02,1285.96 1836.44,1284.21 1836.73,1283.31 1837,1281.24 1837.67,1279.03 1837.91,1277.86 1837.8,1276.56 1838.57,1274.18 1838.98,1273.15 1839.1,1271.38 1839.04,1270.59 1839.76,1268.93 1839.66,1268.35 1840.12,1267.32 1840.75,1266.96 1840.59,1266.72 1841.23,1266.47 1841.65,1266.51 1841.73,1266.47 1841.78,1267.31 1842.11,1268.33 1842.17,1269.49 1842.38,1270.2 1842.94,1271.27 1843.02,1273.46 1843.51,1274.54 1843.41,1276.51 1844.07,1277.5 1844.05,1279.66 1844.46,1281.03 1844.8,1283.16 1845.05,1285.19 1845.25,1286.56 1845.29,1287.76 1845.63,1289.8 1846.06,1290.68 1846.52,1292.21 1846.84,1293.74 1846.98,1294.91 1847.41,1296.6 1847.5,1298.14 1847.69,1299.56 1847.88,1301.49 1848.4,1302.93 1848.37,1305.12 1848.83,1307.04 1848.86,1308.26 1849.66,1310.19 1849.69,1311.51 1850.04,1312.48 1850.19,1314.1 1851.01,1315.36 1851.01,1316.91 1851.62,1318.05 1851.76,1318.65 1851.97,1319.85 1852.59,1319.92 1852.9,1320.51 1853.29,1320.53 1853.96,1320.16 1854.96,1319.46 1855.48,1318.7 1856.25,1316.64 1857.2,1314.53 1858.03,1313.14 1859.09,1311.33 1859.73,1310.62 1860.69,1309.26 1861.23,1309.29 1862.34,1308.94 1862.98,1309.59 1863.44,1310.04 1863.97,1311.29 1864.62,1313.1 1865.75,1313.95 1866.33,1315.4 1866.87,1316.8 1867.74,1318.65 1868.21,1320.41 1868.84,1321.51 1869.63,1322.77 1870.2,1323.85 1870.58,1325.15 1871.7,1326.98 1871.75,1328.1 1872.72,1329.97 1873.58,1331.88 1873.66,1333.26 1874.85,1334.59 1875.48,1335.49 1875.95,1336.91 1876.73,1337.87 1877.46,1338.19 1878.18,1338.9 1879.55,1338.89 1880.72,1339.31 1882.19,1338.68 1883.1,1337.38 1884.29,1336.85 1884.6,1336.19 1885.06,1334.94 1885.5,1334.4 1886.06,1333.81 1886.01,1331.86 1886.58,1331.19 1886.79,1330.06 1886.45,1328.38 1886.61,1327.07 1886.75,1326.03 1887.2,1323.84 1887.34,1323.05 1887.06,1321.36 1887.48,1319.59 1887.24,1317.82 1887.61,1315.84 1887.59,1313.89 1887.48,1313.65 1887.67,1312.59 1887.83,1311.6 1887.83,1309.94 1888.14,1309.05 1887.94,1308.17 1888.2,1307.49 1888.4,1305.9 1888.33,1304.9 1888.22,1303.42 1888.58,1302.85 1888.65,1300.9 1888.94,1300.24 1888.57,1298.54 1888.53,1297.65 1888.71,1296.41 1889.08,1295.05 1889.06,1293.18 1888.81,1292.18 1888.87,1290.75 1889.39,1288.99 1889.25,1288.01 1889.15,1286.27 1889.49,1284.84 1889.28,1283.47 1889.82,1282.73 1889.39,1280.97 1889.63,1279 1889.6,1278.18 1889.53,1277.04 1889.75,1274.99 1890.22,1273.33 1889.79,1272.21 1889.97,1270.61 1890.2,1269.79 1890.16,1267.44 1890.2,1266.81 1890.31,1264.58 1890.26,1263.31 1890.39,1261.97 1890.65,1260.95 1890.35,1258.97 1890.89,1258.29 1890.94,1256.2 1890.95,1254.71 1891.02,1253.48 1891.19,1252.74 1891.04,1251.28 1891.4,1250.11 1891.3,1248.52 1891.21,1247.29 1891.16,1245.78 1891.21,1244.15 1891.64,1243.24 1891.45,1242.53 1891.59,1240.92 1891.79,1239.38 1892.21,1238.47 1892.26,1236.47 1892.39,1235.49 1892.52,1233.14 1892.16,1231.38 1892.24,1230.31 1892.33,1228.35 1892.64,1226.88 1892.57,1225.12 1893.24,1222.93 1893.03,1221.61 1893.09,1219.95 1893.63,1217.57 1893.44,1215.74 1893.61,1214.25 1893.99,1212.88 1894.13,1211.28 1894.15,1209.19 1894.19,1207.31 1894.12,1206.54 1894.63,1204.27 1894.47,1203.02 1894.68,1201.8 1894.59,1200.73 1894.84,1199.34 1895.14,1198.33 1895.14,1196.8 1895.43,1195.39 1895.13,1195.01 1895.66,1194.08 1895.86,1192.76 1896.04,1192.53 1896.21,1191.89 1896.3,1190.95 1896.02,1191.12 1896.46,1190.75 1896.24,1191.19 1896.4,1191.28 1896.66,1191.38 1897.03,1191.36 1897.03,1191.98 1897.31,1192.79 1897.48,1193.7 1897.39,1195.16 1897.63,1196.58 1897.88,1197.16 1898.23,1199.17 1898.19,1200.46 1898.33,1202.25 1898.48,1202.9 1898.47,1205.06 1899.01,1206.5 1899.05,1208.36 1899.19,1209.89 1899.47,1212.14 1899.33,1214.12 1899.64,1215.48 1899.79,1217.41 1900.08,1219.03 1900.26,1220.62 1900.24,1222.7 1900.63,1223.6 1901.06,1225.03 1901.21,1226.55 1900.99,1227.99 1901.27,1228.8 1901.94,1231.12 1901.88,1232.66 1902.25,1233.89 1902.17,1235.93 1902.45,1237.89 1902.94,1239.11 1903.3,1241.58 1903.38,1243.23 1903.62,1243.84 1903.89,1245.61 1904.44,1247.07 1904.74,1247.83 1904.69,1248.6 1904.79,1249.99 1905.09,1249.95 1905.66,1250.82 1905.93,1249.75 1906.62,1249.96 1906.72,1249.42 1907.6,1248.4 1908.03,1246.77 1908.42,1244.94 1908.85,1243.63 1909.13,1241.96 1909.43,1240.77 1910.3,1238.27 1910.58,1236.62 1911.03,1235.17 1911.53,1234.28 1911.53,1233.08 1912,1231.57 1911.89,1230.43 1912.4,1229.15 1912.71,1227.6 1912.51,1226.16 1912.72,1224.23 1913.21,1222.99 1913.26,1220.9 1913.67,1219.46 1913.87,1217.96 1913.89,1215.58 1914.07,1214.65 1914.68,1212.32 1914.68,1210.82 1915.26,1209.31 1915.36,1207.42 1915.17,1206.06 1915.76,1204.86 1916.12,1203.9 1916.22,1202.83 1916.63,1201.58 1916.33,1200.08 1916.6,1199.4 1917.05,1198.12 1917.03,1197.89 1917.59,1197.38 1917.74,1197.33 1918.12,1197.31 1918.23,1196.88 1918.79,1197.09 1918.67,1197.78 1919.19,1198.94 1919.18,1199.74 1919.75,1200.98 1919.73,1202.23 1920.14,1203.22 1920.34,1205.11 1920.92,1206.61 1921.15,1207.52 1921.38,1209.15 1921.49,1211.58 1921.73,1212.9 1922.05,1215.01 1922.92,1216.01 1922.84,1218.66 1923.08,1219.66 1923.83,1221.89 1923.78,1223.17 1924.34,1224.3 1924.18,1225.66 1924.92,1227.46 1925.17,1228.3 1925.55,1229.82 1925.76,1231.4 1926.75,1231.74 1926.62,1233.22 1927.14,1234.85 1928.02,1235.79 1928.5,1236.64 1928.49,1237.98 1929.09,1239 1929.8,1240.8 1929.85,1241.56 1930.26,1243.08 1930.89,1244.88 1931.47,1245.68 1931.27,1247.05 1931.97,1248.26 1932.07,1249.84 1932.15,1250.65 1932.56,1252.23 1932.9,1253.23 1933.09,1254.86 1933.25,1256.46 1933.26,1258.16 1933.17,1259.1 1933.61,1261.17 1933.62,1262.68 1933.75,1263.81 1934.17,1265.73 1934.4,1267.43 1934.69,1268.52 1934.78,1270.07 1935.19,1271.51 1934.97,1272.96 1935.22,1275 1935.69,1275.87 1935.74,1277.92 1936.28,1278.61 1936.5,1279.75 1936.76,1281.25 1936.98,1282.15 1937.07,1284.16 1937.41,1284.85 1937.29,1285.48 1938.04,1286.99 1937.9,1287.26 1938.45,1287.91 1938.53,1289.07 1939.48,1290.28 1940.75,1291.23 1942.12,1292.14 1943.06,1291.42 1943.43,1291.92 1943.27,1290.84 1944.01,1290.75 1944.19,1289.82 1944.18,1288.06 1944.88,1287.29 1944.76,1285.62 1945.12,1284.22 1945.31,1282.12 1945.74,1280.74 1945.7,1278.93 1945.83,1276.84 1945.98,1274.78 1946.31,1272.62 1946.43,1270.99 1946.63,1269.28 1947.16,1267.82 1946.99,1265.38 1947.07,1264.49 1947.68,1262.82 1947.98,1261.1 1947.77,1259.55 1948.14,1259.17 1948.2,1257.97 1948.47,1257.1 1949.03,1257.11 1949.57,1256.62 1949.57,1256.49 1950,1256.9 1950.35,1257.69 1951.15,1258.98 1951.87,1260.18 1951.88,1261.18 1952.76,1263.49 1953.3,1264.34 1953.58,1266.21 1954.16,1267.77 1954.52,1269.23 1955.48,1271.87 1956.06,1272.91 1956.4,1274.29 1956.57,1275.5 1957.15,1277.53 1957.72,1278.31 1958.15,1280.06 1958.45,1281.48 1959.37,1283.05 1959.88,1284.93 1959.84,1286.74 1960.66,1287.87 1960.83,1289.67 1961.31,1291.01 1961.75,1292.43 1962.7,1293.99 1962.88,1295.29 1963.41,1296.41 1963.61,1297.02 1964.22,1298.56 1964.78,1298.76 1964.81,1299.29 1965.03,1299.4 1966.57,1299.43 1967.15,1297 1967.51,1297.09 1967.92,1296.23 1967.54,1296.2 1968.05,1295.3 1967.92,1295.49 1968.05,1294.42 1967.94,1294.42 1968.31,1293.58 1968.51,1293.15 1968.43,1292.05 1968.84,1291.02 1968.84,1290.63 1968.78,1289.61 1969.11,1288.81 1968.82,1287.68 1969.24,1287.53 1968.81,1285.9 1969.02,1284.79 1969.22,1284.59 1969.42,1283.19 1969.64,1281.91 1969.31,1280.76 1969.54,1279.82 1969.31,1278.67 1969.87,1277.86 1969.72,1276.62 1969.69,1275 1969.86,1273.43 1969.85,1272.43 1969.72,1271.1 1969.69,1269.89 1969.69,1268.33 1969.7,1267.03 1969.76,1265.9 1969.75,1264.45 1969.96,1263.14 1970.01,1260.86 1970.25,1259.48 1970.36,1258.21 1970.06,1256.8 1970.07,1254.94 1970.01,1253.36 1970.12,1251.72 1970.26,1250.43 1970.39,1248.95 1970.47,1247.41 1970.36,1246.04 1970.19,1243.84 1970.13,1242.85 1970.67,1240.71 1970.66,1239.22 1970.73,1237.91 1970.39,1235.63 1970.46,1234.65 1970.51,1232.39 1970.26,1230.74 1970.81,1229.11 1970.75,1227.91 1970.85,1226.08 1970.6,1223.97 1970.88,1222.8 1970.78,1220.38 1970.73,1219.35 1970.44,1217.32 1970.65,1215.59 1970.45,1213.83 1970.68,1212.04 1970.89,1210.79 1970.6,1208.99 1970.64,1207.71 1970.89,1205.92 1970.91,1204.44 1970.98,1203 1970.97,1200.7 1970.74,1199.21 1971.05,1197.69 1971.12,1196.32 1970.68,1195.13 1970.72,1193.27 1970.9,1192.03 1970.97,1190.57 1971.15,1189.4 1971.08,1187.4 1971.03,1185.88 1971.26,1184.66 1971.2,1183.53 1971.23,1182.22 1971.12,1180.67 1971.41,1179.13 1971.41,1177.61 1971.04,1176.9 1971.32,1175.75 1971.38,1173.81 1971.14,1173.24 1971.26,1171.33 1971.47,1170.73 1971.54,1168.93 1971.71,1168.47 1971.49,1167.65 1971.64,1166.47 1971.45,1165.01 1971.94,1163.71 1972,1162.01 1971.67,1160.43 1971.76,1158.07 1971.99,1156.55 1971.93,1154.7 1972.03,1152.81 1972.21,1150.79 1972.55,1148.92 1972.25,1147.99 1972.44,1146.26 1972.44,1144.07 1972.64,1142.21 1972.98,1140.48 1972.93,1138.89 1972.73,1137.56 1973.15,1135.1 1973.03,1134.25 1973.05,1132.36 1973.26,1130.61 1973.2,1129.21 1973.53,1128.42 1973.35,1127.1 1973.55,1125.71 1973.48,1124.64 1973.84,1123.76 1973.74,1122.14 1974.19,1121.05 1974.33,1120.78 1974.12,1119.9 1974.37,1118.78 1974.58,1118.72 1974.94,1117.87 1975.17,1117.95 1975.09,1117.78 1975.51,1117.44 1976.3,1117.21 1976.72,1118.44 1977.15,1119.28 1978.18,1120.8 1978.88,1122.82 1979.33,1124.39 1980.07,1125.38 1980.55,1126.45 1980.91,1127.59 1981.24,1128.71 1981.91,1130 1981.9,1131.66 1982.35,1132.5 1982.76,1134.09 1982.6,1135.53 1983.22,1136.86 1983.57,1138.22 1983.91,1140.27 1984.2,1140.83 1984.25,1142.72 1984.52,1143.79 1984.94,1145.11 1984.99,1146.78 1985.8,1148.08" fill="none" stroke="#0000ff" stroke-width="2.0" stroke-linejoin="round"/>
<polyline points="1148.5,1419.7 1150.01,1419.7 1151.51,1419.69 1153.02,1419.69 1154.52,1419.69 1156.03,1419.69 1157.53,1419.68 1159.04,1419.68 1160.54,1419.68 1162.05,1419.68 1163.55,1419.67 1165.06,1419.67 1166.56,1419.67 1168.07,1419.66 1169.57,1419.66 1171.08,1419.66 1172.58,1419.66 1174.09,1419.65 1175.59,1419.65 1177.1,1419.65 1178.6,1419.65 1180.11,1419.64 1181.61,1419.64 1183.12,1419.64 1184.62,1419.63 1186.13,1419.63 1187.63,1419.63 1189.14,1419.63 1190.65,1419.62 1192.15,1419.62 1193.66,1419.62 1195.16,1419.61 1196.67,1419.61 1198.17,1419.61 1199.68,1419.61 1201.18,1419.6 1202.69,1419.6 1204.19,1419.6 1205.7,1419.6 1207.2,1419.59 1208.71,1419.59 1210.21,1419.59 1211.72,1419.58 1213.22,1419.58 1214.73,1419.58 1216.23,1419.58 1217.74,1419.57 1219.24,1419.57 1220.75,1419.57 1222.25,1419.57 1223.76,1419.56 1225.26,1419.56 1226.77,1419.56 1228.27,1419.55 1229.78,1419.55 1231.29,1419.55 1232.79,1419.55 1234.3,1419.54 1235.8,1419.54 1237.31,1419.54 1238.81,1419.54 1240.32,1419.53 1241.82,1419.53 1243.33,1419.53 1244.83,1419.52 1246.34,1419.52 1247.84,1419.52 1249.35,1419.52 1250.85,1419.51 1252.36,1419.51 1253.86,1419.51 1255.37,1419.51 1256.87,1419.5 1258.38,1419.5 1259.88,1419.5 1261.39,1419.49 1262.89,1419.49 1264.4,1419.49 1265.9,1419.49 1267.41,1419.48 1268.91,1419.48 1270.42,1419.48 1271.92,1419.47 1273.43,1419.47 1274.94,1419.47 1276.44,1419.47 1277.95,1419.46 1279.45,1419.46 1280.96,1419.46 1282.46,1419.46 1283.97,1419.45 1285.47,1419.45 1286.98,1419.45 1288.48,1419.44 1289.99,1419.44 1291.49,1419.44 1293,1419.44 1294.5,1419.43 1296.01,1419.43 1297.51,1419.43 1299.02,1419.43 1300.52,1419.42 1302.03,1419.42 1303.53,1419.42 1305.04,1419.41 1306.54,1419.41 1308.05,1419.41 1309.55,1419.41 1311.06,1419.4 1312.56,1419.4 1314.07,1419.4 1315.58,1419.4 1317.08,1419.39 1318.59,1419.39 1320.09,1419.39 1321.6,1419.38 1323.1,1419.38 1324.61,1419.38 1326.11,1419.38 1327.62,1419.37 1329.12,1419.37 1330.63,1419.37 1332.13,1419.37 1333.64,1419.36 1335.14,1419.36 1336.65,1419.36 1338.15,1419.35 1339.66,1419.35 1341.16,1419.35 1342.67,1419.35 1344.17,1419.34 1345.68,1419.34 1347.18,1419.34 1348.69,1419.34 1350.19,1419.33 1351.7,1419.33 1353.2,1419.33 1354.71,1419.32 1356.22,1419.32 1357.72,1419.32 1359.23,1419.32 1360.73,1419.31 1362.24,1419.31 1363.74,1419.31 1365.25,1419.3 1366.75,1419.3 1368.26,1419.3 1369.76,1419.3 1371.27,1419.29 1372.77,1419.29 1374.28,1419.29 1375.78,1419.29 1377.29,1419.28 1378.79,1419.28 1380.3,1419.28 1381.8,1419.27 1383.31,1419.27 1384.81,1419.27 1386.32,1419.27 1387.82,1419.26 1389.33,1419.26 1390.83,1419.26 1392.34,1419.26 1393.84,1419.25 1395.35,1419.25 1396.86,1419.25 1398.36,1419.24 1399.87,1419.24 1401.37,1419.24 1402.88,1419.24 1404.38,1419.23 1405.89,1419.23 1407.39,1419.23 1408.9,1419.23 1410.4,1419.22 1411.91,1419.22 1413.41,1419.22 1414.92,1419.21 1416.42,1419.21 1417.93,1419.21 1419.43,1419.21 1420.94,1419.2 1422.44,1419.2 1423.95,1419.2 1425.45,1419.2 1426.96,1419.19 1428.46,1419.19 1429.97,1419.19 1431.47,1419.18 1432.98,1419.18 1434.48,1419.18 1435.99,1419.18 1437.5,1419.17 1439,1419.17 1440.51,1419.17 1442.01,1419.16 1443.52,1419.16 1445.02,1419.16 1446.53,1419.16 1448.03,1419.15 1449.54,1419.15 1451.04,1419.15 1452.55,1419.15 1454.05,1419.14 1455.56,1419.14 1457.06,1419.14 1458.57,1419.13 1460.07,1419.13 1461.58,1419.13 1463.08,1419.13 1464.59,1419.12 1466.09,1419.12 1467.6,1419.12 1469.1,1419.12 1470.61,1419.11 1472.11,1419.11 1473.62,1419.11 1475.12,1419.1 1476.63,1419.1 1478.14,1419.1 1479.64,1419.1 1481.15,1419.09 1482.65,1419.09 1484.16,1419.09 1485.66,1419.09 1487.17,1419.08 1488.67,1419.08 1490.18,1419.08 1491.68,1419.07 1493.19,1419.07 1494.69,1419.07 1496.2,1419.07 1497.7,1419.06 1499.21,1419.06 1500.71,1419.06 1502.22,1419.06 1503.72,1419.05 1505.23,1419.05 1506.73,1419.05 1508.24,1419.04 1509.74,1419.04 1511.25,1419.04 1512.75,1419.04 1514.26,1419.03 1515.76,1419.03 1517.27,1419.03 1518.78,1419.03 1520.28,1419.02 1521.79,1419.02 1523.29,1419.02 1524.8,1419.01 1526.3,1419.01 1527.81,1419.01 1529.31,1419.01 1530.82,1419 1532.32,1419 1533.83,1419 1535.33,1418.99 1536.84,1418.99 1538.34,1418.99 1539.85,1418.99 1541.35,1418.98 1542.86,1418.98 1544.36,1418.98 1545.87,1418.98 1547.37,1418.97 1548.88,1418.97 1550.38,1418.97 1551.89,1418.96 1553.39,1418.96 1554.9,1418.96 1556.4,1418.96 1557.91,1418.95 1559.41,1418.95 1560.92,1418.95 1562.43,1418.95 1563.93,1418.94 1565.44,1418.94 1566.94,1418.94 1568.45,1418.93 1569.95,1418.93 1571.46,1418.93 1572.96,1418.93 1574.47,1418.92 1575.97,1418.92 1577.48,1418.92 1578.98,1418.92 1580.49,1418.91 1581.99,1418.91 1583.5,1418.91 1585,1418.9 1586.51,1418.9 1588.01,1418.9 1589.52,1418.9 1591.02,1418.89 1592.53,1418.89 1594.03,1418.89 1595.54,1418.89 1597.04,1418.88 1598.55,1418.88 1600.05,1418.88 1601.56,1418.87 1603.07,1418.87 1604.57,1418.87 1606.08,1418.87 1607.58,1418.86 1609.09,1418.86 1610.59,1418.86 1612.1,1418.85 1613.6,1418.85 1615.11,1418.85 1616.61,1418.85 1618.12,1418.84 1619.62,1418.84 1621.13,1418.84 1622.63,1418.84 1624.14,1418.83 1625.64,1418.83 1627.15,1418.83 1628.65,1418.82 1630.16,1418.82 1631.66,1418.82 1633.17,1418.82 1634.67,1418.81 1636.18,1418.81 1637.67,1418.82 1639.15,1418.83 1640.65,1418.83 1642.2,1418.8 1643.62,1418.75 1645.07,1418.67 1646.55,1418.58 1648.28,1418.64 1649.58,1418.77 1651.01,1418.57 1652.43,1418.61 1654.12,1417.87 1655.61,1417.8 1656.88,1417.62 1658.26,1417.52 1659.19,1417.31 1660.5,1416.74 1661.89,1415.89 1663.37,1415.74 1664.6,1415.44 1665.93,1415.36 1667.33,1415.47 1668.93,1416.1 1670.37,1415.88 1672.3,1416.56 1673.25,1416.95 1674.94,1416.8 1676.61,1416.7 1677.64,1416.12 1679.04,1416.37 1680.69,1416.54 1681.87,1415.71 1683.34,1415.88 1685.26,1416.17 1686.24,1415.91 1687.77,1415.45 1689.3,1415.27 1690.75,1414.9 1692.21,1414.76 1693.78,1414.4 1695.11,1413.37 1696.84,1413.43 1697.89,1413.56 1699.6,1413.92 1700.83,1413.71 1702.12,1414.64 1703.68,1415.05 1704.6,1415.58 1705.89,1415.63 1707.38,1415.89 1709.22,1415.8 1710.31,1415.77 1711.81,1415.51 1713.22,1415.12 1714.46,1414.74 1715.36,1413.7 1716.51,1412.7 1717.11,1411.98 1717.79,1410.58 1718.58,1408.63 1718.82,1407.89 1719.89,1405.94 1720.63,1404.53 1721.09,1403.99 1721.88,1402.65 1722.83,1401.23 1723.67,1399.76 1724.82,1398.77 1725.89,1397.55 1726.71,1397.92 1727.89,1397.65 1729.34,1398.78 1730.35,1400.24 1731.94,1401.19 1733.54,1401.01 1735.05,1401.88 1736.45,1402.61 1737.27,1404.35 1738.04,1405.87 1739.3,1406.87 1740.97,1407.12 1742.87,1407.4 1744.59,1407.56 1745.45,1407.2 1746.31,1406.93 1746.73,1406.38 1747.62,1405.18 1748.17,1403.31 1748.4,1402.65 1748.49,1400.76 1748.85,1399.69 1749.35,1398.05 1749.6,1396.33 1750.28,1394.67 1750.47,1393.13 1751.2,1391.98 1751.51,1390.3 1752.12,1388.44 1752.83,1386.76 1753.19,1385.3 1754.19,1384.08 1754.35,1382.88 1755.33,1381.36 1755.86,1380.92 1756.33,1380.86 1757.16,1380.94 1758.07,1381.69 1758.4,1382.61 1759.53,1384.5 1760.44,1386.34 1760.97,1386.73 1762.32,1387.71 1763.3,1388.84 1764.66,1389.97 1765.84,1390.47 1767.39,1390.19 1768.51,1389.16 1769.86,1387.83 1770.8,1386.27 1771.76,1385.01 1772.18,1383.59 1772.99,1382.3 1773.58,1380.9 1774.06,1380.05 1774.83,1378.7 1775.7,1377.09 1776.19,1376.09 1776.97,1374.91 1777.42,1374.59 1778.5,1374.83 1780.16,1376.49 1780.89,1376.59 1781.76,1377.75 1782.93,1379.45 1784.13,1380.31 1785.33,1381.17 1786.33,1382.35 1787.4,1382.98 1788.93,1383.85 1790.05,1383.91 1791.52,1384.57 1792.53,1386.02 1793.98,1386.77 1794.89,1387.61 1796.34,1388.58 1797.06,1389.37 1798.37,1390.53 1799.54,1391.12 1800.32,1391.48 1801.25,1391.66 1802.18,1390.98 1803.33,1389.98 1803.85,1388.66 1804.25,1386.74 1804.91,1385.66 1805.04,1385.2 1805.2,1383.89 1805.36,1383.1 1805.49,1382.03 1805.82,1380.84 1805.79,1379.03 1805.78,1377.85 1806.12,1376.28 1806.1,1374.96 1806.33,1373.58 1806.59,1372.01 1806.43,1371.15 1806.79,1369.36 1806.95,1368.32 1806.85,1366.35 1806.75,1365.21 1806.79,1363.73 1807,1361.89 1807.33,1360.69 1807.16,1359.13 1807.7,1358.04 1807.85,1357.01 1807.61,1355.32 1808.11,1353.7 1808.03,1352.76 1808.31,1350.79 1808.54,1349.38 1808.59,1346.81 1808.99,1345.7 1809.27,1343.49 1809.1,1342.2 1809.35,1340.34 1809.47,1338.81 1809.84,1337.55 1809.85,1336.31 1810.46,1335.77 1810.52,1335.05 1810.64,1334.05 1811.41,1333.29 1811.31,1333.48 1812,1333.34 1812.89,1334.78 1813.43,1335.65 1814.11,1337.21 1814.83,1338.68 1815.67,1340.5 1816.06,1342.08 1816.86,1343.1 1817.12,1344.33 1817.81,1345.25 1818.41,1346.75 1818.65,1348.17 1819.34,1349.2 1819.55,1350.82 1819.98,1352.09 1820.59,1353.16 1821.29,1355.02 1822.03,1355.63 1822.67,1356.91 1823.2,1358.22 1824.52,1360.02 1825.65,1360.79 1826.42,1362.5 1827.39,1364.11 1828.36,1364.79 1829.43,1365.64 1830.15,1365.42 1830.39,1365.01 1830.9,1364.81 1831.58,1363.43 1831.92,1363.07 1832.42,1361.41 1832.49,1360.19 1832.84,1359.1 1833.38,1357.44 1833.75,1355.1 1834.02,1353.66 1833.94,1352.22 1834.32,1350.25 1834.95,1348.68 1834.81,1347.42 1835.58,1346.47 1835.79,1344.67 1836.05,1343.45 1836.82,1341.25 1837.21,1340.12 1837.49,1337.78 1838.15,1336.43 1838.41,1334.26 1838.82,1333.39 1839.19,1331.87 1839.95,1330.64 1840.04,1330.09 1840.78,1329.49 1841.32,1329.08 1841.52,1329.36 1842.11,1329.81 1842.16,1330.72 1842.85,1332.2 1842.88,1333.61 1843.69,1334.67 1843.97,1336.59 1844.27,1337.82 1844.35,1340.04 1844.96,1341.59 1845.7,1343.1 1846.13,1344.3 1846.7,1345.84 1847.31,1347.27 1847.55,1348.88 1848.02,1349.83 1849.04,1351.77 1849.71,1353.14 1849.86,1354.44 1850.96,1356.36 1851.38,1357.35 1851.85,1358.5 1852.67,1358.45 1853.49,1358.98 1854.4,1358.94 1855.18,1358.11 1856.23,1356.42 1857.53,1355.17 1858.44,1353.64 1859.3,1351.83 1860.38,1351.25 1861.22,1350.68 1862.51,1351.07 1863.79,1351.65 1864.79,1352.15 1865.88,1353.06 1867.08,1354.3 1868.42,1355.85 1869.63,1357.13 1870.71,1357.88 1871.47,1358.98 1872.35,1360 1873.2,1361.2 1874.26,1362.46 1875.22,1363.72 1876.39,1364.51 1877.33,1364.91 1878.06,1365.47 1879.31,1365.38 1880.58,1365.51 1881.85,1364.68 1883.32,1363.3 1884.3,1362.6 1884.74,1361.56 1885.17,1360.82 1885.57,1359.79 1885.61,1358.32 1886.14,1357.21 1886.27,1356.29 1886.55,1355.09 1886.32,1353.63 1886.58,1352.71 1886.88,1351.46 1887.09,1349.75 1886.67,1348.35 1886.9,1346.76 1886.86,1345.01 1886.96,1343.69 1887.41,1341.82 1887.25,1340.47 1887.48,1338.63 1887.33,1337.31 1887.5,1335.6 1887.78,1334.56 1888.07,1333.25 1887.76,1332.16 1888.23,1331.39 1887.88,1329.58 1888.07,1328.9 1888.42,1327.1 1888.57,1326.47 1888.68,1324.72 1888.77,1323.34 1888.93,1321.91 1888.73,1320.73 1889.06,1319.79 1888.99,1318.23 1888.96,1316.91 1888.92,1315.65 1889.5,1314.03 1889.33,1312.75 1889.38,1311.67 1889.38,1309.87 1889.74,1308.7 1889.62,1306.74 1889.93,1305.34 1890.09,1303.85 1890.22,1303.17 1890.12,1301.85 1890.37,1300.27 1890.19,1298.38 1890.21,1297.02 1890.62,1296.21 1890.87,1294.58 1890.66,1293.69 1891,1292.49 1890.69,1291.17 1891.02,1289.75 1891.03,1288.27 1891.44,1287.19 1891.53,1285.41 1891.77,1284.2 1891.84,1283.49 1891.87,1282.05 1892.13,1280.97 1892.02,1279.49 1892.3,1277.73 1892.39,1275.55 1892.57,1273.48 1892.73,1271.8 1893.13,1270.3 1893.1,1268.9 1893.59,1266.78 1893.6,1264.96 1894.15,1263.28 1894.14,1262.1 1894.29,1260.48 1894.33,1258.89 1894.57,1257.13 1894.76,1256.42 1895.41,1255.2 1895.42,1253.6 1895.64,1253.46 1895.97,1251.98 1896.33,1252.33 1896.33,1251.18 1896.62,1251.61 1896.46,1251.59 1896.7,1251.65 1897.29,1252.92 1897.34,1253.24 1897.54,1254.36 1897.93,1255.64 1898.36,1256.79 1898.22,1258.84 1898.58,1259.96 1898.79,1261.83 1899.25,1263.53 1899.41,1265.7 1899.54,1266.92 1899.85,1268.74 1899.94,1271.21 1900.16,1272.91 1900.41,1273.66 1900.61,1275.87 1901.34,1276.7 1901.32,1277.96 1901.84,1279.46 1902.12,1281.41 1902.38,1282.62 1902.96,1284.75 1902.99,1286.17 1903.83,1287.83 1904.14,1289.52 1904.28,1290.14 1904.66,1291.47 1905.32,1292.03 1905.78,1291.76 1906.26,1291.51 1906.62,1291.3 1907.24,1290.11 1907.72,1289.27 1908.15,1287.54 1908.59,1286.04 1909.15,1285.06 1909.51,1283.05 1910.13,1281.46 1910.8,1280.03 1911.1,1277.96 1911.04,1277.2 1911.41,1276.03 1911.92,1274.87 1911.86,1273.12 1912.28,1271.5 1912.49,1270.37 1912.85,1268.48 1912.92,1266.8 1913.44,1264.69 1913.53,1263.08 1913.89,1261.16 1914.37,1259.69 1914.58,1257.64 1914.73,1256.72 1914.8,1254.59 1915.14,1252.92 1915.19,1251.94 1915.65,1250.11 1915.8,1249.02 1916.21,1247.31 1916.24,1246.3 1916.36,1245.31 1916.66,1244.69 1917.05,1243.7 1917.27,1243.12 1917.56,1243.37 1917.98,1242.94 1918.29,1243.45 1918.84,1243.18 1919.29,1243.74 1919.87,1245.36 1919.86,1246.24 1920.66,1247.88 1921.01,1249.17 1921.12,1250.81 1921.76,1252.01 1921.91,1254.04 1922.82,1255.56 1923.1,1257.04 1923.68,1259.36 1923.81,1260.74 1924.49,1261.89 1925.01,1262.79 1925.2,1264.17 1926.01,1265.98 1926.21,1267.12 1926.89,1268.22 1927.37,1269.37 1927.98,1270.31 1928.41,1271.33 1929.09,1273.11 1929.41,1274.13 1930.04,1275.04 1930.41,1276.26 1931.33,1277.77 1931.47,1279.19 1931.81,1280.45 1932.35,1281.43 1932.86,1283.19 1933.4,1284.38 1933.71,1286.16 1934,1287.2 1934.26,1289.15 1934.52,1290.47 1935.35,1292.1 1935.62,1293.83 1936,1295.56 1936.27,1297.17 1936.69,1299.11 1937.19,1299.81 1937.75,1301.2 1938.16,1303.02 1938.66,1303.95 1938.96,1305.24 1939.4,1305.98 1939.84,1306.86 1939.96,1307.12 1940.6,1308.05 1940.73,1308.28 1942.6,1307.72 1943.91,1305.6 1944.23,1305.34 1944.64,1304.08 1944.77,1303.57 1945.09,1301.79 1945.54,1300.33 1945.74,1298.98 1946.24,1297.69 1946.28,1295.93 1946.26,1294.51 1946.99,1291.94 1947.01,1290.8 1947.38,1289.11 1947.63,1287.2 1947.44,1285.49 1948.11,1283.41 1948.27,1281.37 1948.25,1279.63 1948.51,1278.93 1948.87,1277.09 1948.9,1275.65 1949.22,1274.68 1949.52,1274.08 1949.75,1273.46 1950.05,1272.96 1950.39,1273.11 1951.05,1273.02 1951.42,1273.27 1951.55,1274.08 1951.99,1275.54 1952.88,1276.69 1952.98,1277.66 1953.76,1279.61 1953.92,1281.61 1954.76,1283.22 1955.41,1284.68 1955.92,1286.38 1956.05,1287.28 1956.82,1288.82 1957.21,1289.75 1958.19,1291.75 1958.7,1293.17 1959.62,1294.64 1959.97,1295.68 1960.95,1297.54 1961.76,1298.32 1962.39,1299.54 1962.87,1300.72 1963.63,1301.77 1964.33,1302.79 1964.97,1303.22 1965.56,1303.26 1966.2,1303.14 1967.4,1301.81 1967.27,1300.9 1967.51,1300.78 1967.93,1300.59 1967.73,1299.9 1968.13,1299.57 1967.88,1298.87 1967.94,1298.39 1968.15,1297.65 1968.31,1297.51 1968.26,1296.13 1968.38,1295.72 1968.64,1295.42 1968.88,1294.03 1968.65,1293.45 1969.11,1292.3 1969.15,1291.53 1969.33,1291.14 1968.98,1290.04 1969.28,1288.67 1969.31,1288.11 1969.36,1286.75 1969.43,1285.18 1969.64,1284.14 1969.77,1282.91 1969.65,1281.97 1969.77,1281.11 1969.86,1280.06 1970.04,1278.18 1969.68,1277.24 1970.11,1275.87 1969.77,1274.67 1969.87,1272.93 1970.18,1271.91 1970.24,1270.21 1970.01,1268.82 1970.32,1267.69 1970.23,1265.9 1970.18,1264.74 1970.35,1263.13 1970.54,1261.72 1970.32,1260.34 1970.25,1258.45 1970.12,1257.68 1970.65,1255.86 1970.22,1253.92 1970.35,1252.2 1970.39,1250.83 1970.4,1249.73 1970.55,1248.27 1970.44,1245.82 1970.7,1244.78 1970.75,1242.83 1970.77,1240.94 1970.74,1239.83 1970.67,1238.11 1970.63,1236.28 1970.66,1234.78 1970.87,1232.87 1970.73,1231.25 1970.54,1229.86 1970.47,1228.35 1970.5,1226.04 1970.89,1224.61 1970.67,1222.98 1971.02,1221.46 1970.73,1220.06 1970.68,1217.63 1970.96,1216.6 1971,1214.58 1970.95,1212.77 1970.74,1211.78 1971.07,1210.14 1970.93,1208.3 1970.84,1206.4 1971.16,1205.1 1971.18,1202.96 1970.91,1202.06 1971.2,1200.38 1971.2,1198.31 1971.12,1196.61 1971,1194.98 1971.01,1193.62 1971.01,1192.53 1971.18,1191.22 1971.33,1189.21 1971.03,1187.85 1971.01,1186.78 1971.32,1185.19 1971.27,1183.44 1971.1,1182.47 1971.02,1181.3 1971.08,1179.24 1971.44,1178.55 1971.14,1177.26 1971.36,1175.25 1971.41,1174.08 1971.5,1173.2 1971.64,1172.26 1971.69,1170.85 1971.66,1169.87 1971.75,1168.41 1971.85,1167.73 1971.49,1165.98 1971.76,1165.24 1971.73,1163.59 1971.68,1161.87 1971.94,1160.5 1972.06,1158.23 1971.85,1156.86 1972.2,1154.94 1972.23,1153.16 1972.05,1151.97 1972.03,1150.2 1972.27,1147.7 1972.27,1146.4 1972.12,1144.49 1972.36,1142.82 1972.64,1141 1972.66,1139.18 1972.62,1137.34 1972.58,1136.17 1972.75,1133.87 1972.75,1132.31 1972.92,1130.82 1972.9,1129.1 1973.03,1127.87 1972.67,1126.69 1973.03,1125.04 1972.89,1123.16 1973.07,1122.33 1973.19,1120.87 1972.9,1119.36 1973.09,1118.2 1973.38,1117.09 1973.1,1115.73 1973.35,1114.79 1973.44,1113.62 1973.51,1113 1973.97,1111.93 1974.13,1111.6 1974.22,1111.15 1974.27,1110.61 1974.11,1109.87 1974.34,1109.07 1974.45,1109.21 1974.53,1108.53 1975.09,1109.08 1975.19,1109 1975.75,1110.63 1976.91,1112.01 1977.38,1113.92 1978.22,1115.18 1979.84,1115.24 1981.56,1116.46 1981.59,1116.49 1982.41,1118.19 1982.56,1119.56 1983.05,1120.58 1983.04,1122.05 1983.5,1123.54 1983.73,1125.43 1983.98,1126.2 1984.15,1128.18 1984.51,1128.87 1985.01,1130.92 1985.01,1131.47 1985.17,1132.68 1985.7,1134.49" fill="none" stroke="#ff0000" stroke-width="1.9" stroke-linejoin="round"/>
<text transform="translate(30.7 356.7) rotate(-90)" x="0" y="0" font-size="40" text-anchor="middle" font-family="'Liberation Serif', 'Times New Roman', serif" textLength="392.6" lengthAdjust="spacingAndGlyphs">Sobol’ TSI <tspan font-size="44" dy="0">(</tspan><tspan dy="-0"></tspan>sorption<tspan font-size="44" dy="0">)</tspan><tspan dy="-0"></tspan></text>
<text transform="translate(1070.5 353.8) rotate(-90)" x="0" y="0" font-size="40" text-anchor="middle" font-family="'Liberation Serif', 'Times New Roman', serif" textLength="584.8" lengthAdjust="spacingAndGlyphs">Scaled Sobol’ TSI <tspan font-size="44" dy="0">(</tspan><tspan dy="-0"></tspan>Dissolution<tspan font-size="44" dy="0">)</tspan><tspan dy="-0"></tspan></text>
<text transform="translate(31.3 1103.3) rotate(-90)" x="0" y="0" font-size="40" text-anchor="middle" font-family="'Liberation Serif', 'Times New Roman', serif" textLength="575.4" lengthAdjust="spacingAndGlyphs">Scaled Sobol’ TSI <tspan font-size="44" dy="0">(</tspan><tspan dy="-0"></tspan>over pressure<tspan font-size="44" dy="0">)</tspan><tspan dy="-0"></tspan></text>
<text transform="translate(1071 1117.8) rotate(-90)" x="0" y="0" font-size="40" text-anchor="middle" font-family="'Liberation Serif', 'Times New Roman', serif" textLength="682" lengthAdjust="spacingAndGlyphs">Scaled Sobol’ TSI <tspan font-size="44" dy="0">(</tspan><tspan dy="-0"></tspan>Barometric pumping<tspan font-size="44" dy="0">)</tspan><tspan dy="-0"></tspan></text>
<text x="536.9" y="1493.2" font-size="40" text-anchor="middle" font-family="'Liberation Serif', 'Times New Roman', serif" textLength="164.2" lengthAdjust="spacingAndGlyphs">Time <tspan font-size="44" dy="0">(</tspan><tspan dy="-0"></tspan>d<tspan font-size="44" dy="0">)</tspan><tspan dy="-0"></tspan></text>
<text x="1577.9" y="1493.7" font-size="40" text-anchor="middle" font-family="'Liberation Serif', 'Times New Roman', serif" textLength="164.2" lengthAdjust="spacingAndGlyphs">Time <tspan font-size="44" dy="0">(</tspan><tspan dy="-0"></tspan>d<tspan font-size="44" dy="0">)</tspan><tspan dy="-0"></tspan></text>
<text x="210.4" y="96.3" font-size="40" text-anchor="middle" font-family="'Liberation Serif', 'Times New Roman', serif" textLength="48.4" lengthAdjust="spacingAndGlyphs"><tspan font-size="45" dy="-0.3">(</tspan><tspan dy="0.3"></tspan>a<tspan font-size="45" dy="-0.3">)</tspan><tspan dy="0.3"></tspan></text>
<text x="1257.2" y="91.7" font-size="40" text-anchor="middle" font-family="'Liberation Serif', 'Times New Roman', serif" textLength="50.4" lengthAdjust="spacingAndGlyphs"><tspan font-size="45" dy="0">(</tspan><tspan dy="-0"></tspan>b<tspan font-size="45" dy="0">)</tspan><tspan dy="-0"></tspan></text>
<text x="188.1" y="859.7" font-size="38" text-anchor="middle" font-family="'Liberation Serif', 'Times New Roman', serif" textLength="46.6" lengthAdjust="spacingAndGlyphs"><tspan font-size="43" dy="-0.1">(</tspan><tspan dy="0.1"></tspan>c<tspan font-size="43" dy="-0.1">)</tspan><tspan dy="0.1"></tspan></text>
<text x="1230.7" y="882.9" font-size="37" text-anchor="middle" font-family="'Liberation Serif', 'Times New Roman', serif" textLength="52.2" lengthAdjust="spacingAndGlyphs"><tspan font-size="42" dy="-0.3">(</tspan><tspan dy="0.3"></tspan>d<tspan font-size="42" dy="-0.3">)</tspan><tspan dy="0.3"></tspan></text>
<rect x="796.1" y="40.6" width="150.6" height="94.9" fill="#fff" stroke="#262626" stroke-width="1.5"/>
<line x1="803.7" y1="58.5" x2="880.7" y2="58.5" stroke="#00ffff" stroke-width="1.8"/>
<line x1="803.7" y1="88" x2="880.7" y2="88" stroke="#0000ff" stroke-width="1.8"/>
<line x1="803.7" y1="117" x2="880.7" y2="117" stroke="#ff0000" stroke-width="1.8"/>
<text x="886.5" y="56" font-size="17" font-family="'Liberation Serif', 'Times New Roman', serif">37</text>
<text x="905" y="64" font-size="25" font-family="'Liberation Serif', 'Times New Roman', serif">Ar</text>
<text x="886.5" y="86" font-size="17" font-family="'Liberation Serif', 'Times New Roman', serif">127</text>
<text x="912" y="93.7" font-size="25" font-family="'Liberation Serif', 'Times New Roman', serif">Xe</text>
<text x="886.5" y="123.6" font-size="25" font-family="'Liberation Serif', 'Times New Roman', serif">SF</text>
<text x="913" y="126.7" font-size="17" font-family="'Liberation Serif', 'Times New Roman', serif">6</text>
</svg>
</body></html>
